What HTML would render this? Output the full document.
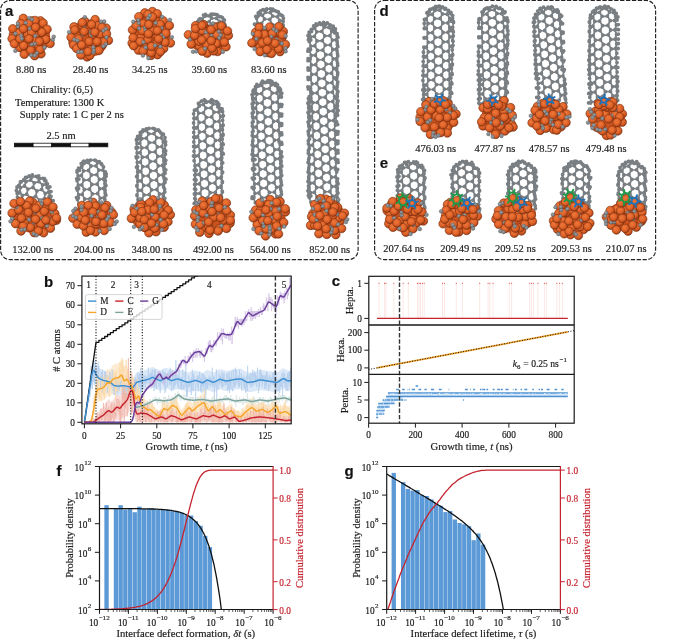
<!DOCTYPE html>
<html lang="en"><head><meta charset="utf-8"><title>Figure</title>
<style>
html,body{margin:0;padding:0;background:#fff}
svg{display:block;will-change:transform}
text{font-family:'Liberation Serif','DejaVu Serif',serif;fill:#1c1c1c;stroke:#1c1c1c;stroke-width:.18px}
.lbl{font-family:'Liberation Sans','DejaVu Sans',sans-serif;font-weight:bold;font-size:15px;fill:#111}
.t{font-size:10.5px}
.k{font-size:9.3px}
.x{font-size:10.7px}
.i{font-style:italic}
</style></head>
<body>
<svg width="685" height="639" viewBox="0 0 685 639">
<defs>
<radialGradient id="o" cx="0.42" cy="0.38" r="0.62">
<stop offset="0" stop-color="#ee773a"/><stop offset="0.45" stop-color="#e4682d"/><stop offset="0.78" stop-color="#cb5420"/><stop offset="1" stop-color="#8f3814"/>
</radialGradient>
<radialGradient id="gy" cx="0.42" cy="0.38" r="0.62">
<stop offset="0" stop-color="#979da1"/><stop offset="0.6" stop-color="#858b8f"/><stop offset="1" stop-color="#63686c"/>
</radialGradient>
</defs>
<g fill="none" stroke="#222" stroke-width="1.15" stroke-dasharray="4.3 1.6">
<path d="M10.1 0.5H348.6A9.5 9.5 0 0 1 358.1 10V250.1A9.5 9.5 0 0 1 348.6 259.6H10.1A9.5 9.5 0 0 1 0.6 250.1V10A9.5 9.5 0 0 1 10.1 0.5Z"/>
<path d="M384.1 0.5H646.1A9.5 9.5 0 0 1 655.6 10V250.1A9.5 9.5 0 0 1 646.1 259.6H384.1A9.5 9.5 0 0 1 374.6 250.1V10A9.5 9.5 0 0 1 384.1 0.5Z"/>
</g>
<g id="pa">
<ellipse cx="31.1" cy="37" rx="19.1" ry="18.8" fill="#c9521f"/><g fill="url(#o)" stroke="#7a3011" stroke-width=".6"><circle cx="35.1" cy="35.6" r="4.3"/><circle cx="13.5" cy="34.4" r="4.3"/><circle cx="40.4" cy="20.9" r="4.3"/><circle cx="23.3" cy="18.4" r="4.3"/><circle cx="41" cy="53.8" r="4.3"/><circle cx="32.1" cy="20.9" r="4.3"/><circle cx="39" cy="45.8" r="4.3"/><circle cx="12.8" cy="28.8" r="4.3"/><circle cx="50.1" cy="43.5" r="4.3"/><circle cx="12.1" cy="38.6" r="4.3"/><circle cx="19.6" cy="47.4" r="4.3"/><circle cx="43.1" cy="23.1" r="4.3"/><circle cx="27.3" cy="33.7" r="4.3"/><circle cx="34.7" cy="55.7" r="4.3"/><circle cx="35.2" cy="20.5" r="4.3"/><circle cx="45.8" cy="39.4" r="4.3"/><circle cx="19.3" cy="32.9" r="4.3"/><circle cx="33.6" cy="40.2" r="4.3"/><circle cx="40" cy="49.6" r="4.3"/><circle cx="47" cy="29.3" r="4.3"/><circle cx="24.3" cy="54.3" r="4.3"/><circle cx="14.4" cy="43.8" r="4.3"/><circle cx="28.8" cy="23.7" r="4.3"/><circle cx="20.8" cy="23.6" r="4.3"/><circle cx="31.6" cy="32.3" r="4.3"/><circle cx="39.4" cy="41.5" r="4.3"/><circle cx="41.9" cy="32.3" r="4.3"/><circle cx="30.8" cy="50.3" r="4.3"/><circle cx="19.9" cy="38.9" r="4.3"/></g><g fill="url(#gy)" stroke="#5d6266" stroke-width=".35"><circle cx="15.4" cy="33.7" r="1.9"/><circle cx="29.5" cy="28.7" r="1.9"/><circle cx="31.2" cy="55.2" r="1.9"/><circle cx="29.3" cy="18.1" r="1.9"/><circle cx="32.1" cy="19.4" r="1.9"/><circle cx="35.3" cy="35.8" r="1.9"/><circle cx="15.3" cy="50.8" r="1.9"/><circle cx="18.1" cy="26.7" r="1.9"/><circle cx="17.9" cy="23.6" r="1.9"/><circle cx="44.5" cy="47.5" r="1.9"/><circle cx="34.8" cy="43.8" r="1.9"/><circle cx="31.7" cy="44.3" r="1.9"/><circle cx="25.7" cy="22.9" r="1.9"/><circle cx="36.8" cy="53.1" r="1.9"/><circle cx="34.9" cy="55.5" r="1.9"/><circle cx="21.1" cy="35.7" r="1.9"/><circle cx="21.9" cy="38.6" r="1.9"/><circle cx="52.8" cy="39.7" r="1.9"/><circle cx="53.7" cy="36.7" r="1.9"/></g><g fill="url(#o)" stroke="#7a3011" stroke-width=".6"><circle cx="23.6" cy="45.7" r="4.3"/><circle cx="35.6" cy="27.4" r="4.3"/><circle cx="23.5" cy="28.8" r="4.3"/><circle cx="29" cy="38.9" r="4.3"/></g>
<ellipse cx="89.8" cy="38.2" rx="18.8" ry="18.8" fill="#c9521f"/><g fill="url(#o)" stroke="#7a3011" stroke-width=".6"><circle cx="81.4" cy="25.1" r="4.3"/><circle cx="73" cy="42.4" r="4.3"/><circle cx="76.3" cy="35" r="4.3"/><circle cx="100.5" cy="25" r="4.3"/><circle cx="84.7" cy="21.4" r="4.3"/><circle cx="74" cy="26.9" r="4.3"/><circle cx="87" cy="56.9" r="4.3"/><circle cx="95.1" cy="19.6" r="4.3"/><circle cx="106.1" cy="28.1" r="4.3"/><circle cx="90.1" cy="49.9" r="4.3"/><circle cx="71.1" cy="37.3" r="4.3"/><circle cx="108.4" cy="40.4" r="4.3"/><circle cx="73.5" cy="44.9" r="4.3"/><circle cx="97.9" cy="25.9" r="4.3"/><circle cx="100.1" cy="34.2" r="4.3"/><circle cx="80.9" cy="55" r="4.3"/><circle cx="102.2" cy="45.1" r="4.3"/><circle cx="74.8" cy="30" r="4.3"/><circle cx="82.3" cy="22.6" r="4.3"/><circle cx="89.8" cy="55.5" r="4.3"/><circle cx="91.6" cy="24.6" r="4.3"/><circle cx="106.5" cy="33.8" r="4.3"/><circle cx="76.7" cy="48.5" r="4.3"/><circle cx="101.9" cy="27.3" r="4.3"/><circle cx="94.2" cy="43.1" r="4.3"/><circle cx="92.6" cy="34.8" r="4.3"/><circle cx="98.9" cy="50.5" r="4.3"/><circle cx="78.6" cy="39" r="4.3"/><circle cx="103.5" cy="41.9" r="4.3"/><circle cx="88" cy="51.7" r="4.3"/><circle cx="81.7" cy="45" r="4.3"/></g><g fill="url(#gy)" stroke="#5d6266" stroke-width=".35"><circle cx="74.4" cy="39.6" r="1.9"/><circle cx="77.3" cy="40.5" r="1.9"/><circle cx="101.1" cy="21.6" r="1.9"/><circle cx="104.2" cy="21.5" r="1.9"/><circle cx="93.5" cy="52.5" r="1.9"/><circle cx="90.9" cy="32.1" r="1.9"/><circle cx="91.8" cy="35.1" r="1.9"/><circle cx="105.8" cy="44.2" r="1.9"/><circle cx="103.4" cy="46.2" r="1.9"/><circle cx="84.6" cy="28.1" r="1.9"/><circle cx="84.8" cy="17.2" r="1.9"/><circle cx="93.3" cy="47.4" r="1.9"/><circle cx="93.8" cy="50.4" r="1.9"/><circle cx="106.5" cy="37.4" r="1.9"/><circle cx="103.4" cy="30.7" r="1.9"/><circle cx="105.9" cy="28.8" r="1.9"/><circle cx="82.6" cy="34.5" r="1.9"/><circle cx="69" cy="32.1" r="1.9"/><circle cx="78.5" cy="51.9" r="1.9"/><circle cx="81.6" cy="51.8" r="1.9"/></g><g fill="url(#o)" stroke="#7a3011" stroke-width=".6"><circle cx="89.2" cy="41.6" r="4.3"/><circle cx="84.2" cy="31.5" r="4.3"/><circle cx="94.9" cy="32.2" r="4.3"/><circle cx="97.1" cy="41.6" r="4.3"/></g>
<ellipse cx="151.2" cy="33.5" rx="19.2" ry="22" fill="#c9521f"/><g fill="url(#o)" stroke="#7a3011" stroke-width=".6"><circle cx="140.9" cy="38" r="4.3"/><circle cx="138.5" cy="50.1" r="4.3"/><circle cx="157.5" cy="54.7" r="4.3"/><circle cx="144.8" cy="12.9" r="4.3"/><circle cx="157" cy="18.4" r="4.3"/><circle cx="132.1" cy="43.1" r="4.3"/><circle cx="163.7" cy="48.5" r="4.3"/><circle cx="152.4" cy="11.6" r="4.3"/><circle cx="170.4" cy="43" r="4.3"/><circle cx="151" cy="55.4" r="4.3"/><circle cx="156.2" cy="34.8" r="4.3"/><circle cx="163.2" cy="20.7" r="4.3"/><circle cx="142.7" cy="23.4" r="4.3"/><circle cx="133.6" cy="45.7" r="4.3"/><circle cx="148" cy="14.4" r="4.3"/><circle cx="138.8" cy="16.7" r="4.3"/><circle cx="132.5" cy="30" r="4.3"/><circle cx="169.4" cy="25.6" r="4.3"/><circle cx="157.2" cy="13.8" r="4.3"/><circle cx="160.4" cy="51.7" r="4.3"/><circle cx="133.1" cy="37.8" r="4.3"/><circle cx="165.1" cy="42.2" r="4.3"/><circle cx="151.2" cy="52.7" r="4.3"/><circle cx="165.9" cy="33.4" r="4.3"/><circle cx="160.2" cy="24.4" r="4.3"/><circle cx="143.1" cy="51" r="4.3"/><circle cx="136.1" cy="25.5" r="4.3"/><circle cx="157.3" cy="42.1" r="4.3"/><circle cx="152.3" cy="31.1" r="4.3"/><circle cx="152.6" cy="17.1" r="4.3"/><circle cx="147.9" cy="39.5" r="4.3"/><circle cx="142.4" cy="30.8" r="4.3"/><circle cx="140.2" cy="41.6" r="4.3"/><circle cx="151.6" cy="46.5" r="4.3"/></g><g fill="url(#gy)" stroke="#5d6266" stroke-width=".35"><circle cx="138.8" cy="23.1" r="1.9"/><circle cx="138.2" cy="20.1" r="1.9"/><circle cx="162.1" cy="17" r="1.9"/><circle cx="171.8" cy="37.2" r="1.9"/><circle cx="133.3" cy="21.7" r="1.9"/><circle cx="148.1" cy="18.2" r="1.9"/><circle cx="149.6" cy="15.5" r="1.9"/><circle cx="143.4" cy="42.2" r="1.9"/><circle cx="145.1" cy="27.4" r="1.9"/><circle cx="145.7" cy="30.5" r="1.9"/><circle cx="142.9" cy="55.6" r="1.9"/><circle cx="161.5" cy="28.3" r="1.9"/><circle cx="145.6" cy="47.5" r="1.9"/><circle cx="155.1" cy="45.5" r="1.9"/><circle cx="160.4" cy="46.6" r="1.9"/><circle cx="148.5" cy="58.2" r="1.9"/><circle cx="139.1" cy="28.4" r="1.9"/><circle cx="155.7" cy="23" r="1.9"/><circle cx="160.9" cy="35.2" r="1.9"/><circle cx="163.2" cy="37.3" r="1.9"/><circle cx="169.9" cy="19.9" r="1.9"/></g><g fill="url(#o)" stroke="#7a3011" stroke-width=".6"><circle cx="148.8" cy="24.6" r="4.3"/><circle cx="158.6" cy="39" r="4.3"/><circle cx="157.4" cy="30.7" r="4.3"/><circle cx="148.4" cy="33.9" r="4.3"/></g>
<g fill="none" stroke="#797e82" stroke-linecap="round" stroke-linejoin="round"><path d="M198.2 25.8L201.9 25.6M198.2 25.8L197.1 22.9M198.8 19.9L202.1 19.1M198.8 19.9L197.1 22.9M204.1 21.9L209.2 21.6M204.1 21.9L201.9 25.6M204.1 21.9L202.1 19.1M212.2 25.1L217.4 24.9M212.2 25.1L209.2 21.6M204.6 16.3L209.1 15.8M204.6 16.3L202.1 19.1M204.6 16.3L203.5 15.2M211.6 18.2L216.5 18.3M211.6 18.2L209.2 21.6M211.6 18.2L209.1 15.8M219.4 21.4L223.1 21.6M219.4 21.4L217.4 24.9M219.4 21.4L216.5 18.3M224.9 24.6L223.1 21.6M211.1 14.1L215.1 14.3M211.1 14.1L209.1 15.8M217.9 16L221.1 16.8M217.9 16L216.5 18.3M217.9 16L215.1 14.3M223.5 19.3L223.1 21.6M223.5 19.3L221.1 16.8M198.7 24.4L197.8 21.5M200.1 18.6L197.8 21.5M206.5 15.6L211 15.5M206.5 15.6L205.5 14.5M225.2 25.6L223.9 22.4M213.2 14.1L217 14.7M213.2 14.1L211 15.5M219.5 16.6L222.4 17.7M219.5 16.6L217 14.7M224.4 20.2L223.9 22.4M224.4 20.2L222.4 17.7" stroke-width="1.75"/><path d="M197.1 22.9h0M198.2 25.8h0M201.9 25.6h0M198.8 19.9h0M202.1 19.1h0M204.1 21.9h0M209.2 21.6h0M212.2 25.1h0M217.4 24.9h0M203.5 15.2h0M204.6 16.3h0M209.1 15.8h0M211.6 18.2h0M216.5 18.3h0M219.4 21.4h0M223.1 21.6h0M224.9 24.6h0M211.1 14.1h0M215.1 14.3h0M217.9 16h0M221.1 16.8h0M223.5 19.3h0M197.8 21.5h0M198.7 24.4h0M200.1 18.6h0M205.5 14.5h0M206.5 15.6h0M211 15.5h0M223.9 22.4h0M225.2 25.6h0M213.2 14.1h0M217 14.7h0M219.5 16.6h0M222.4 17.7h0M224.4 20.2h0" stroke-width="3.8"/></g>
<ellipse cx="208.4" cy="38.9" rx="20.1" ry="14.4" fill="#c9521f"/><g fill="url(#o)" stroke="#7a3011" stroke-width=".6"><circle cx="224.5" cy="31.2" r="4.3"/><circle cx="217" cy="26.9" r="4.3"/><circle cx="218.9" cy="42.7" r="4.3"/><circle cx="188.4" cy="34.7" r="4.3"/><circle cx="199.4" cy="45.9" r="4.3"/><circle cx="204.8" cy="27.8" r="4.3"/><circle cx="217.6" cy="51.5" r="4.3"/><circle cx="197.8" cy="33.9" r="4.3"/><circle cx="224.2" cy="34.8" r="4.3"/><circle cx="226" cy="46.8" r="4.3"/><circle cx="207.2" cy="53.1" r="4.3"/><circle cx="214.4" cy="27.2" r="4.3"/><circle cx="195.6" cy="25.7" r="4.3"/><circle cx="222.3" cy="29.3" r="4.3"/><circle cx="213.5" cy="50.9" r="4.3"/><circle cx="206.6" cy="44.4" r="4.3"/><circle cx="228.4" cy="35.5" r="4.3"/><circle cx="216.3" cy="43.6" r="4.3"/><circle cx="191.2" cy="44.1" r="4.3"/><circle cx="202.1" cy="51.1" r="4.3"/><circle cx="203.5" cy="24.6" r="4.3"/><circle cx="205.7" cy="36.1" r="4.3"/><circle cx="199" cy="41.4" r="4.3"/><circle cx="216.7" cy="34.7" r="4.3"/><circle cx="224.4" cy="42.1" r="4.3"/><circle cx="202.3" cy="30.6" r="4.3"/><circle cx="212" cy="48.2" r="4.3"/></g><g fill="url(#gy)" stroke="#5d6266" stroke-width=".35"><circle cx="190" cy="39.3" r="1.9"/><circle cx="206.1" cy="32.3" r="1.9"/><circle cx="222.8" cy="51.9" r="1.9"/><circle cx="213" cy="23.5" r="1.9"/><circle cx="210.9" cy="25.8" r="1.9"/><circle cx="211.5" cy="35.1" r="1.9"/><circle cx="219.4" cy="25" r="1.9"/><circle cx="218.9" cy="31.4" r="1.9"/><circle cx="193" cy="51.7" r="1.9"/><circle cx="196.1" cy="51.4" r="1.9"/><circle cx="219.2" cy="37.8" r="1.9"/><circle cx="220.6" cy="35.1" r="1.9"/><circle cx="205" cy="48.7" r="1.9"/><circle cx="192.7" cy="32.1" r="1.9"/><circle cx="195.2" cy="33.8" r="1.9"/></g><g fill="url(#o)" stroke="#7a3011" stroke-width=".6"><circle cx="194.6" cy="35.4" r="4.3"/><circle cx="211.1" cy="29.7" r="4.3"/><circle cx="201.8" cy="40" r="4.3"/><circle cx="211.3" cy="40.8" r="4.3"/></g><g fill="url(#o)" stroke="#7a3011" stroke-width=".6"><circle cx="195.5" cy="28.5" r="4.3"/><circle cx="202" cy="25.5" r="4.3"/><circle cx="221.5" cy="26" r="4.3"/><circle cx="227.5" cy="31" r="4.3"/></g>
<g fill="none" stroke="#797e82" stroke-linecap="round" stroke-linejoin="round"><path d="M257.5 23.1L261.6 23.4M257.5 23.1L256.6 18.3M258.6 15.3L262.5 15.3M258.6 15.3L256.6 18.3M258.6 15.3L258.2 13M264.5 19L269.8 19.5M264.5 19L261.6 23.4M264.5 19L262.5 15.3M272.1 24.3L277 24.7M272.1 24.3L269.8 19.5M260.7 10.8L264 10.1M260.7 10.8L258.2 13M265.4 12.3L270.3 12.6M265.4 12.3L262.5 15.3M265.4 12.3L264 10.1M272.7 16.1L277.5 16.8M272.7 16.1L269.8 19.5M272.7 16.1L270.3 12.6M279.6 20.5L282.7 20.9M279.6 20.5L277 24.7M279.6 20.5L277.5 16.8M283.1 24.9L281.7 29.6M283.1 24.9L282.7 20.9M266.7 8.8L270.5 8.9M266.7 8.8L264 10.1M272.7 10.5L276.7 11.4M272.7 10.5L270.3 12.6M272.7 10.5L270.5 8.9M279.2 14.3L281.9 15.4M279.2 14.3L277.5 16.8M279.2 14.3L276.7 11.4M283.4 18.3L282.7 20.9M283.4 18.3L281.9 15.4M254.5 24.2L256.1 24.8M255.8 16.4L257.7 16.5M260.3 13.7L257.7 16.5M260.3 13.7L260.1 11.4M263 9.6L266.5 9.4M263 9.6L260.1 11.4M283.2 25.7L283.2 21.3M274.8 10.6L278.4 12M274.8 10.6L272.8 9.1M280.5 14.7L282.7 16.1M280.5 14.7L278.4 12" stroke-width="1.75"/><path d="M256.6 18.3h0M257.5 23.1h0M261.6 23.4h0M258.2 13h0M258.6 15.3h0M262.5 15.3h0M264.5 19h0M269.8 19.5h0M272.1 24.3h0M277 24.7h0M281.7 29.6h0M260.7 10.8h0M264 10.1h0M265.4 12.3h0M270.3 12.6h0M272.7 16.1h0M277.5 16.8h0M279.6 20.5h0M282.7 20.9h0M283.1 24.9h0M266.7 8.8h0M270.5 8.9h0M272.7 10.5h0M276.7 11.4h0M279.2 14.3h0M281.9 15.4h0M283.4 18.3h0M254.5 24.2h0M256.1 24.8h0M255.8 16.4h0M257.7 16.5h0M260.1 11.4h0M260.3 13.7h0M263 9.6h0M266.5 9.4h0M283.2 21.3h0M283.2 25.7h0M272.8 9.1h0M274.8 10.6h0M278.4 12h0M280.5 14.7h0M282.7 16.1h0" stroke-width="3.8"/></g>
<ellipse cx="268.6" cy="40" rx="16.8" ry="13.5" fill="#c9521f"/><g fill="url(#o)" stroke="#7a3011" stroke-width=".6"><circle cx="282" cy="37.8" r="4.3"/><circle cx="276.4" cy="32.3" r="4.3"/><circle cx="263.7" cy="30.9" r="4.3"/><circle cx="283.3" cy="31.5" r="4.3"/><circle cx="260.1" cy="46.9" r="4.3"/><circle cx="268.4" cy="52.6" r="4.3"/><circle cx="255.7" cy="32.4" r="4.3"/><circle cx="280" cy="51.6" r="4.3"/><circle cx="269.7" cy="27" r="4.3"/><circle cx="278.9" cy="26.6" r="4.3"/><circle cx="251.9" cy="43" r="4.3"/><circle cx="285.4" cy="44.5" r="4.3"/><circle cx="264.6" cy="34.5" r="4.3"/><circle cx="271.4" cy="53.4" r="4.3"/><circle cx="259.2" cy="27.4" r="4.3"/><circle cx="262.4" cy="42.9" r="4.3"/><circle cx="278.7" cy="48.8" r="4.3"/><circle cx="260.1" cy="51.6" r="4.3"/><circle cx="282.4" cy="34.9" r="4.3"/><circle cx="258" cy="34.4" r="4.3"/><circle cx="272.4" cy="33.4" r="4.3"/></g><g fill="url(#gy)" stroke="#5d6266" stroke-width=".35"><circle cx="276.6" cy="39.5" r="1.9"/><circle cx="265" cy="55.3" r="1.9"/><circle cx="271.2" cy="36.8" r="1.9"/><circle cx="270.4" cy="39.8" r="1.9"/><circle cx="264.6" cy="27.9" r="1.9"/><circle cx="254.6" cy="48.9" r="1.9"/><circle cx="285.7" cy="35.9" r="1.9"/><circle cx="285.6" cy="48.2" r="1.9"/><circle cx="285.6" cy="51.3" r="1.9"/><circle cx="256.3" cy="38.8" r="1.9"/><circle cx="252.7" cy="33.8" r="1.9"/><circle cx="276.3" cy="30.8" r="1.9"/><circle cx="273.7" cy="29.1" r="1.9"/><circle cx="281.8" cy="43.4" r="1.9"/><circle cx="278.8" cy="42.9" r="1.9"/></g><g fill="url(#o)" stroke="#7a3011" stroke-width=".6"><circle cx="267" cy="49.6" r="4.3"/><circle cx="275" cy="43.3" r="4.3"/><circle cx="267.5" cy="40.9" r="4.3"/></g>
<g fill="none" stroke="#797e82" stroke-linecap="round" stroke-linejoin="round"><path d="M19.4 201.6L21.9 200.6M19.4 201.6L19.9 206.5M19.4 201.6L17.5 197.3M25 204.6L29.4 203.2M25 204.6L21.9 200.6M17.2 193.2L19.6 192.1M17.2 193.2L17.5 197.3M22.4 195.5L26.7 194.2M22.4 195.5L21.9 200.6M22.4 195.5L19.6 192.1M30.5 197.9L35.7 196.3M30.5 197.9L29.4 203.2M30.5 197.9L26.7 194.2M39.6 200.1L44.4 198.6M39.6 200.1L35.7 196.3M47.8 202.4L51.1 201.3M47.8 202.4L44.4 198.6M17 187.1L18.8 185.4M20.5 187.7L24.5 186M20.5 187.7L19.6 192.1M20.5 187.7L18.8 185.4M27.9 189.1L33 187.5M27.9 189.1L26.7 194.2M27.9 189.1L24.5 186M36.9 191L41.7 189.5M36.9 191L35.7 196.3M36.9 191L33 187.5M45.2 193.4L48.6 192.2M45.2 193.4L44.4 198.6M45.2 193.4L41.7 189.5M51 196.3L51.1 201.3M51 196.3L48.6 192.2M20.4 181.8L23.6 179.9M20.4 181.8L18.8 185.4M26 181.7L30.6 180.1M26 181.7L24.5 186M26 181.7L23.6 179.9M34.2 182.8L38.9 181.7M34.2 182.8L33 187.5M34.2 182.8L30.6 180.1M42.6 184.9L46.1 184.2M42.6 184.9L41.7 189.5M42.6 184.9L38.9 181.7M48.6 187.3L49.9 186.8M48.6 187.3L48.6 192.2M48.6 187.3L46.1 184.2M25.5 177.3L29.2 176M25.5 177.3L23.6 179.9M31.9 177L36.1 176.3M31.9 177L30.6 180.1M31.9 177L29.2 176M39.5 178.4L42.9 178.4M39.5 178.4L38.9 181.7M39.5 178.4L36.1 176.3M45.9 181L46.1 184.2M45.9 181L42.9 178.4M19.1 201.9L21.5 201.6M19.1 201.9L19.6 206.5M19.1 201.9L17.4 197.3M17.2 193.4L19.7 192.8M17.2 193.4L17.4 197.3M17.2 193.4L16.4 190.5M17.2 187L19.2 185.6M17.2 187L16.4 190.5M51.5 200.9L53.2 200.7M51.5 200.9L49.1 196.5M21.1 181.9L24.6 180.3M21.1 181.9L19.2 185.6M49.4 191.7L51 191.6M49.4 191.7L49.1 196.5M49.4 191.7L47.1 187.4M26.7 177.4L30.8 176.4M26.7 177.4L24.6 180.3M47.4 183.8L47.1 187.4M47.4 183.8L44.8 180.7M32.4 175L30.8 176.4M38.7 176L38 177.8M44.5 178.7L44.8 180.7" stroke-width="1.75"/><path d="M19.9 206.5h0M17.5 197.3h0M19.4 201.6h0M21.9 200.6h0M25 204.6h0M29.4 203.2h0M17.2 193.2h0M19.6 192.1h0M22.4 195.5h0M26.7 194.2h0M30.5 197.9h0M35.7 196.3h0M39.6 200.1h0M44.4 198.6h0M47.8 202.4h0M51.1 201.3h0M17 187.1h0M18.8 185.4h0M20.5 187.7h0M24.5 186h0M27.9 189.1h0M33 187.5h0M36.9 191h0M41.7 189.5h0M45.2 193.4h0M48.6 192.2h0M51 196.3h0M20.4 181.8h0M23.6 179.9h0M26 181.7h0M30.6 180.1h0M34.2 182.8h0M38.9 181.7h0M42.6 184.9h0M46.1 184.2h0M48.6 187.3h0M49.9 186.8h0M25.5 177.3h0M29.2 176h0M31.9 177h0M36.1 176.3h0M39.5 178.4h0M42.9 178.4h0M45.9 181h0M19.6 206.5h0M17.4 197.3h0M19.1 201.9h0M21.5 201.6h0M16.4 190.5h0M17.2 193.4h0M19.7 192.8h0M17.2 187h0M19.2 185.6h0M49.1 196.5h0M51.5 200.9h0M53.2 200.7h0M21.1 181.9h0M24.6 180.3h0M47.1 187.4h0M49.4 191.7h0M51 191.6h0M26.7 177.4h0M30.8 176.4h0M38 177.8h0M44.8 180.7h0M47.4 183.8h0M32.4 175h0M38.7 176h0M44.5 178.7h0" stroke-width="3.8"/></g>
<ellipse cx="34.2" cy="216.9" rx="22.2" ry="16" fill="#c9521f"/><g fill="url(#o)" stroke="#7a3011" stroke-width=".6"><circle cx="33" cy="202.5" r="4.3"/><circle cx="21.9" cy="214.8" r="4.3"/><circle cx="41.5" cy="227.8" r="4.3"/><circle cx="12.1" cy="213.1" r="4.3"/><circle cx="29.4" cy="208.4" r="4.3"/><circle cx="34.2" cy="232.6" r="4.3"/><circle cx="50.4" cy="228.2" r="4.3"/><circle cx="39.9" cy="215.2" r="4.3"/><circle cx="29.6" cy="201.1" r="4.3"/><circle cx="21.7" cy="204" r="4.3"/><circle cx="56.4" cy="220.3" r="4.3"/><circle cx="39.2" cy="205.4" r="4.3"/><circle cx="24.4" cy="223.4" r="4.3"/><circle cx="21" cy="231" r="4.3"/><circle cx="43.6" cy="232.8" r="4.3"/><circle cx="47.2" cy="206" r="4.3"/><circle cx="27.4" cy="215.4" r="4.3"/><circle cx="18.7" cy="209.9" r="4.3"/><circle cx="54.8" cy="213.6" r="4.3"/><circle cx="40.9" cy="223.9" r="4.3"/><circle cx="15.6" cy="223.7" r="4.3"/><circle cx="30.3" cy="227.4" r="4.3"/><circle cx="26.8" cy="205.6" r="4.3"/><circle cx="52.9" cy="221.4" r="4.3"/><circle cx="44.3" cy="211.4" r="4.3"/><circle cx="38.4" cy="231.1" r="4.3"/><circle cx="23.1" cy="226.1" r="4.3"/><circle cx="28.4" cy="212.5" r="4.3"/></g><g fill="url(#gy)" stroke="#5d6266" stroke-width=".35"><circle cx="24.6" cy="229.4" r="1.9"/><circle cx="21.5" cy="229.8" r="1.9"/><circle cx="33.9" cy="222.6" r="1.9"/><circle cx="12.2" cy="218.7" r="1.9"/><circle cx="10.5" cy="221.3" r="1.9"/><circle cx="41.8" cy="203.5" r="1.9"/><circle cx="40.5" cy="200.7" r="1.9"/><circle cx="47" cy="225.9" r="1.9"/><circle cx="35.3" cy="212.1" r="1.9"/><circle cx="37.3" cy="209.7" r="1.9"/><circle cx="51.9" cy="211.9" r="1.9"/><circle cx="42.2" cy="218.2" r="1.9"/><circle cx="29.1" cy="219.6" r="1.9"/><circle cx="48.7" cy="218.7" r="1.9"/><circle cx="16.5" cy="207.1" r="1.9"/><circle cx="36.4" cy="235.3" r="1.9"/><circle cx="33.7" cy="233.8" r="1.9"/></g><g fill="url(#o)" stroke="#7a3011" stroke-width=".6"><circle cx="21.5" cy="218.2" r="4.3"/><circle cx="45.9" cy="220.1" r="4.3"/><circle cx="35.9" cy="208.5" r="4.3"/><circle cx="35.5" cy="219.3" r="4.3"/></g><g fill="url(#o)" stroke="#7a3011" stroke-width=".6"><circle cx="14" cy="203.5" r="4.3"/><circle cx="20.5" cy="201.5" r="4.3"/><circle cx="47.5" cy="202" r="4.3"/><circle cx="53" cy="207" r="4.3"/><circle cx="56.5" cy="218" r="4.3"/></g>
<g fill="none" stroke="#797e82" stroke-linecap="round" stroke-linejoin="round"><path d="M78.8 204.1L82.6 203.8M78.8 204.1L77.4 199.5M78.6 194.7L82.2 194.4M78.6 194.7L77.4 199.5M78.6 194.7L77.3 190.1M84.7 199L90 198.7M84.7 199L82.6 203.8M84.7 199L82.2 194.4M92.9 203.2L98.1 203M92.9 203.2L90 198.7M78.3 185.2L81.8 185M78.3 185.2L77.3 190.1M78.3 185.2L77.1 180.7M84.3 189.5L89.5 189.2M84.3 189.5L82.2 194.4M84.3 189.5L81.8 185M92.4 193.8L97.7 193.5M92.4 193.8L90 198.7M92.4 193.8L89.5 189.2M100.2 198.1L103.9 197.8M100.2 198.1L98.1 203M100.2 198.1L97.7 193.5M105.3 202.4L103.9 197.8M78.1 175.8L81.4 175.5M78.1 175.8L77.1 180.7M78.1 175.8L77 172M83.9 180.1L89 179.8M83.9 180.1L81.8 185M83.9 180.1L81.4 175.5M91.9 184.4L97.2 184.1M91.9 184.4L89.5 189.2M91.9 184.4L89 179.8M99.8 188.7L103.6 188.4M99.8 188.7L97.7 193.5M99.8 188.7L97.2 184.1M105.1 193L103.9 197.8M105.1 193L103.6 188.4M78.5 168.2L81.6 167.2M78.5 168.2L77 172M83.5 170.9L88.5 170.5M83.5 170.9L81.4 175.5M83.5 170.9L81.6 167.2M91.4 175L96.8 174.7M91.4 175L89 179.8M91.4 175L88.5 170.5M99.4 179.3L103.3 179M99.4 179.3L97.2 184.1M99.4 179.3L96.8 174.7M104.9 183.5L103.6 188.4M104.9 183.5L103.3 179M84 163.4L88.4 162.6M84 163.4L81.6 167.2M84 163.4L83 161.8M91 166L96 165.9M91 166L88.5 170.5M91 166L88.4 162.6M98.9 170.1L102.9 170.2M98.9 170.1L96.8 174.7M98.9 170.1L96 165.9M104.7 174.1L106.2 173.9M104.7 174.1L103.3 179M104.7 174.1L102.9 170.2M90.6 160.1L94.8 160.2M90.6 160.1L88.4 162.6M97.6 162.7L101.1 163.5M97.6 162.7L96 165.9M97.6 162.7L94.8 160.2M103.5 166.9L102.9 170.2M103.5 166.9L101.1 163.5M76.5 197.6L78.4 197.9M76.6 188.2L78.6 188.5M76.7 178.8L78.9 179.1M105.8 204.5L104.9 199.6M77.1 170.6L79.4 170.3M105.9 195.1L104.9 199.6M105.9 195.1L105.1 190.2M81.8 166.4L79.4 170.3M81.8 166.4L81.2 163.7M106 185.6L105.1 190.2M106 185.6L105.3 180.8M83.9 161.2L87.4 160.3M83.9 161.2L81.2 163.7M106.1 176.2L105.3 180.8M106.1 176.2L105.4 172M95.7 160.6L99.3 161.7M101.8 164.5L99.3 161.7" stroke-width="1.75"/><path d="M77.4 199.5h0M78.8 204.1h0M82.6 203.8h0M77.3 190.1h0M78.6 194.7h0M82.2 194.4h0M84.7 199h0M90 198.7h0M92.9 203.2h0M98.1 203h0M77.1 180.7h0M78.3 185.2h0M81.8 185h0M84.3 189.5h0M89.5 189.2h0M92.4 193.8h0M97.7 193.5h0M100.2 198.1h0M103.9 197.8h0M105.3 202.4h0M77 172h0M78.1 175.8h0M81.4 175.5h0M83.9 180.1h0M89 179.8h0M91.9 184.4h0M97.2 184.1h0M99.8 188.7h0M103.6 188.4h0M105.1 193h0M78.5 168.2h0M81.6 167.2h0M83.5 170.9h0M88.5 170.5h0M91.4 175h0M96.8 174.7h0M99.4 179.3h0M103.3 179h0M104.9 183.5h0M83 161.8h0M84 163.4h0M88.4 162.6h0M91 166h0M96 165.9h0M98.9 170.1h0M102.9 170.2h0M104.7 174.1h0M106.2 173.9h0M90.6 160.1h0M94.8 160.2h0M97.6 162.7h0M101.1 163.5h0M103.5 166.9h0M76.5 197.6h0M78.4 197.9h0M76.6 188.2h0M78.6 188.5h0M76.7 178.8h0M78.9 179.1h0M104.9 199.6h0M105.8 204.5h0M77.1 170.6h0M79.4 170.3h0M105.1 190.2h0M105.9 195.1h0M81.2 163.7h0M81.8 166.4h0M105.3 180.8h0M106 185.6h0M83.9 161.2h0M87.4 160.3h0M105.4 172h0M106.1 176.2h0M95.7 160.6h0M99.3 161.7h0M101.8 164.5h0" stroke-width="3.8"/></g>
<ellipse cx="93.2" cy="217.2" rx="20.4" ry="14.9" fill="#c9521f"/><g fill="url(#o)" stroke="#7a3011" stroke-width=".6"><circle cx="111.6" cy="212.1" r="4.3"/><circle cx="86.3" cy="232.1" r="4.3"/><circle cx="72.9" cy="218.2" r="4.3"/><circle cx="93" cy="202.4" r="4.3"/><circle cx="89.4" cy="226.2" r="4.3"/><circle cx="106.7" cy="205.6" r="4.3"/><circle cx="95.4" cy="232" r="4.3"/><circle cx="94.4" cy="214" r="4.3"/><circle cx="77.2" cy="224.2" r="4.3"/><circle cx="87.4" cy="210.3" r="4.3"/><circle cx="104.2" cy="230.5" r="4.3"/><circle cx="77.1" cy="214" r="4.3"/><circle cx="113.4" cy="214.8" r="4.3"/><circle cx="81.9" cy="205.5" r="4.3"/><circle cx="95.3" cy="206.1" r="4.3"/><circle cx="83.4" cy="226" r="4.3"/><circle cx="105.1" cy="207.9" r="4.3"/><circle cx="81.4" cy="217.6" r="4.3"/><circle cx="96.3" cy="224.1" r="4.3"/><circle cx="90.4" cy="230.5" r="4.3"/><circle cx="110.3" cy="222.5" r="4.3"/><circle cx="88.4" cy="205.3" r="4.3"/><circle cx="92.9" cy="212" r="4.3"/><circle cx="103.7" cy="223.4" r="4.3"/><circle cx="83.9" cy="212.4" r="4.3"/></g><g fill="url(#gy)" stroke="#5d6266" stroke-width=".35"><circle cx="114.8" cy="223.9" r="1.9"/><circle cx="116.7" cy="221.5" r="1.9"/><circle cx="111.6" cy="207.9" r="1.9"/><circle cx="110.8" cy="210.9" r="1.9"/><circle cx="91.6" cy="215.9" r="1.9"/><circle cx="98.6" cy="212" r="1.9"/><circle cx="75.5" cy="208.6" r="1.9"/><circle cx="73.3" cy="210.9" r="1.9"/><circle cx="101.3" cy="202.3" r="1.9"/><circle cx="98" cy="217.5" r="1.9"/><circle cx="99.8" cy="231.1" r="1.9"/><circle cx="87.6" cy="222.6" r="1.9"/><circle cx="81.5" cy="209.8" r="1.9"/><circle cx="81.6" cy="206.7" r="1.9"/><circle cx="76" cy="217.4" r="1.9"/><circle cx="73.2" cy="216.2" r="1.9"/><circle cx="109.7" cy="229" r="1.9"/><circle cx="90.6" cy="199.9" r="1.9"/><circle cx="108.6" cy="216.7" r="1.9"/><circle cx="107" cy="219.4" r="1.9"/></g><g fill="url(#o)" stroke="#7a3011" stroke-width=".6"><circle cx="85.2" cy="220.2" r="4.3"/><circle cx="102" cy="215.1" r="4.3"/><circle cx="96" cy="221.6" r="4.3"/></g>
<g fill="none" stroke="#797e82" stroke-linecap="round" stroke-linejoin="round"><path d="M138.3 200L141.9 199.8M138.3 200L137 195.5M144.4 204.3L149.7 204M144.4 204.3L141.9 199.8M138 190.6L141.5 190.3M138 190.6L137 195.5M138 190.6L136.8 186M144 194.9L149.2 194.6M144 194.9L141.9 199.8M144 194.9L141.5 190.3M152.1 199.2L157.4 198.9M152.1 199.2L149.7 204M152.1 199.2L149.2 194.6M159.9 203.5L163.6 203.2M159.9 203.5L157.4 198.9M137.8 181.2L141.2 180.9M137.8 181.2L136.8 186M137.8 181.2L136.6 176.6M143.6 185.5L148.7 185.2M143.6 185.5L141.5 190.3M143.6 185.5L141.2 180.9M151.6 189.8L156.9 189.5M151.6 189.8L149.2 194.6M151.6 189.8L148.7 185.2M159.5 194L163.3 193.8M159.5 194L157.4 198.9M159.5 194L156.9 189.5M164.8 198.3L163.6 203.2M164.8 198.3L163.3 193.8M137.6 171.8L140.8 171.5M137.6 171.8L136.6 176.6M137.6 171.8L136.5 167.2M143.1 176L148.2 175.8M143.1 176L141.2 180.9M143.1 176L140.8 171.5M151.1 180.3L156.5 180M151.1 180.3L148.7 185.2M151.1 180.3L148.2 175.8M159.1 184.6L163.1 184.3M159.1 184.6L156.9 189.5M159.1 184.6L156.5 180M164.6 188.9L163.3 193.8M164.6 188.9L163.1 184.3M137.3 162.3L140.4 162.1M137.3 162.3L136.5 167.2M137.3 162.3L136.4 157.8M142.7 166.6L147.7 166.3M142.7 166.6L140.8 171.5M142.7 166.6L140.4 162.1M150.7 170.9L156 170.6M150.7 170.9L148.2 175.8M150.7 170.9L147.7 166.3M158.7 175.2L162.8 174.9M158.7 175.2L156.5 180M158.7 175.2L156 170.6M164.4 179.5L165.9 179.2M164.4 179.5L163.1 184.3M164.4 179.5L162.8 174.9M137.1 152.9L140.1 152.6M137.1 152.9L136.4 157.8M137.1 152.9L136.3 148.3M142.3 157.2L147.2 156.9M142.3 157.2L140.4 162.1M142.3 157.2L140.1 152.6M150.2 161.5L155.5 161.2M150.2 161.5L147.7 166.3M150.2 161.5L147.2 156.9M158.3 165.8L162.4 165.5M158.3 165.8L156 170.6M158.3 165.8L155.5 161.2M164.1 170.1L165.8 169.8M164.1 170.1L162.8 174.9M164.1 170.1L162.4 165.5M137 143.5L139.8 143.2M137 143.5L136.3 148.3M137 143.5L136.4 140M141.9 147.8L146.8 147.5M141.9 147.8L140.1 152.6M141.9 147.8L139.8 143.2M149.7 152.1L155.1 151.8M149.7 152.1L147.2 156.9M149.7 152.1L146.8 147.5M157.8 156.3L162.1 156.1M157.8 156.3L155.5 161.2M157.8 156.3L155.1 151.8M163.9 160.6L165.8 160.3M163.9 160.6L162.4 165.5M163.9 160.6L162.1 156.1M137.6 136.4L140.1 135.3M137.6 136.4L136.4 140M141.7 138.7L146.4 138.2M141.7 138.7L139.8 143.2M141.7 138.7L140.1 135.3M149.2 142.6L154.6 142.3M149.2 142.6L146.8 147.5M149.2 142.6L146.4 138.2M157.4 146.9L161.8 146.6M157.4 146.9L155.1 151.8M157.4 146.9L154.6 142.3M163.6 151.2L165.7 150.9M163.6 151.2L162.1 156.1M163.6 151.2L161.8 146.6M142.5 131.7L146.5 130.8M142.5 131.7L140.1 135.3M148.8 133.8L153.9 133.6M148.8 133.8L146.4 138.2M148.8 133.8L146.5 130.8M156.8 137.7L161.2 137.8M156.8 137.7L154.6 142.3M156.8 137.7L153.9 133.6M163.3 141.9L165.6 141.8M163.3 141.9L161.8 146.6M163.3 141.9L161.2 137.8M148.9 128.4L153 128.3M148.9 128.4L146.5 130.8M155.7 130.5L159.5 131.2M155.7 130.5L153.9 133.6M155.7 130.5L153 128.3M162.1 134.5L161.2 137.8M162.1 134.5L159.5 131.2M138 199.6L136.8 204.2M138 199.6L137 194.8M138.3 190.2L137 194.8M138.3 190.2L137.1 185.3M138.5 180.8L137.1 185.3M138.5 180.8L137.3 175.9M164.6 201.3L163.3 196.5M138.8 171.3L137.3 175.9M138.8 171.3L137.5 166.5M164.8 191.9L163.3 196.5M164.8 191.9L163.6 187M136.1 156.8L137.8 157.1M165 182.5L163.6 187M165 182.5L163.9 177.6M136.2 147.3L138 147.6M165.1 173.1L163.9 177.6M165.1 173.1L164.1 168.2M136.5 139.3L138.5 139M165.3 163.6L164.1 168.2M165.3 163.6L164.4 158.8M140.7 135.1L138.5 139M140.7 135.1L140.3 132.5M165.4 154.2L164.4 158.8M165.4 154.2L164.6 149.3M143 130L146.3 129M143 130L140.3 132.5M165.6 144.8L164.6 149.3M165.6 144.8L164.7 140.5M154.6 129L158.3 129.9M160.8 132.8L163.4 134.2M160.8 132.8L158.3 129.9M165 137.6L164.7 140.5M165 137.6L163.4 134.2" stroke-width="1.75"/><path d="M137 195.5h0M138.3 200h0M141.9 199.8h0M144.4 204.3h0M149.7 204h0M136.8 186h0M138 190.6h0M141.5 190.3h0M144 194.9h0M149.2 194.6h0M152.1 199.2h0M157.4 198.9h0M159.9 203.5h0M163.6 203.2h0M136.6 176.6h0M137.8 181.2h0M141.2 180.9h0M143.6 185.5h0M148.7 185.2h0M151.6 189.8h0M156.9 189.5h0M159.5 194h0M163.3 193.8h0M164.8 198.3h0M136.5 167.2h0M137.6 171.8h0M140.8 171.5h0M143.1 176h0M148.2 175.8h0M151.1 180.3h0M156.5 180h0M159.1 184.6h0M163.1 184.3h0M164.6 188.9h0M136.4 157.8h0M137.3 162.3h0M140.4 162.1h0M142.7 166.6h0M147.7 166.3h0M150.7 170.9h0M156 170.6h0M158.7 175.2h0M162.8 174.9h0M164.4 179.5h0M165.9 179.2h0M136.3 148.3h0M137.1 152.9h0M140.1 152.6h0M142.3 157.2h0M147.2 156.9h0M150.2 161.5h0M155.5 161.2h0M158.3 165.8h0M162.4 165.5h0M164.1 170.1h0M165.8 169.8h0M136.4 140h0M137 143.5h0M139.8 143.2h0M141.9 147.8h0M146.8 147.5h0M149.7 152.1h0M155.1 151.8h0M157.8 156.3h0M162.1 156.1h0M163.9 160.6h0M165.8 160.3h0M137.6 136.4h0M140.1 135.3h0M141.7 138.7h0M146.4 138.2h0M149.2 142.6h0M154.6 142.3h0M157.4 146.9h0M161.8 146.6h0M163.6 151.2h0M165.7 150.9h0M142.5 131.7h0M146.5 130.8h0M148.8 133.8h0M153.9 133.6h0M156.8 137.7h0M161.2 137.8h0M163.3 141.9h0M165.6 141.8h0M148.9 128.4h0M153 128.3h0M155.7 130.5h0M159.5 131.2h0M162.1 134.5h0M136.8 204.2h0M137 194.8h0M138 199.6h0M137.1 185.3h0M138.3 190.2h0M137.3 175.9h0M138.5 180.8h0M163.3 196.5h0M164.6 201.3h0M137.5 166.5h0M138.8 171.3h0M163.6 187h0M164.8 191.9h0M136.1 156.8h0M137.8 157.1h0M163.9 177.6h0M165 182.5h0M136.2 147.3h0M138 147.6h0M164.1 168.2h0M165.1 173.1h0M136.5 139.3h0M138.5 139h0M164.4 158.8h0M165.3 163.6h0M140.3 132.5h0M140.7 135.1h0M164.6 149.3h0M165.4 154.2h0M143 130h0M146.3 129h0M164.7 140.5h0M165.6 144.8h0M154.6 129h0M158.3 129.9h0M160.8 132.8h0M163.4 134.2h0M165 137.6h0" stroke-width="3.8"/></g>
<ellipse cx="150.9" cy="216.4" rx="19.6" ry="16.5" fill="#c9521f"/><g fill="url(#o)" stroke="#7a3011" stroke-width=".6"><circle cx="134.1" cy="209.1" r="4.3"/><circle cx="156" cy="231.7" r="4.3"/><circle cx="164.3" cy="205.4" r="4.3"/><circle cx="168" cy="221.7" r="4.3"/><circle cx="131.4" cy="218.4" r="4.3"/><circle cx="156.2" cy="207.5" r="4.3"/><circle cx="141" cy="204.2" r="4.3"/><circle cx="148.5" cy="206.3" r="4.3"/><circle cx="140" cy="223.9" r="4.3"/><circle cx="170.4" cy="214.7" r="4.3"/><circle cx="164.1" cy="227.2" r="4.3"/><circle cx="148.9" cy="232.8" r="4.3"/><circle cx="146.9" cy="217.2" r="4.3"/><circle cx="153.1" cy="199.9" r="4.3"/><circle cx="134.5" cy="212.4" r="4.3"/><circle cx="148.5" cy="225.9" r="4.3"/><circle cx="159.2" cy="210.3" r="4.3"/><circle cx="160.8" cy="202.5" r="4.3"/><circle cx="168.2" cy="210.2" r="4.3"/><circle cx="140.6" cy="207.3" r="4.3"/><circle cx="163.4" cy="224" r="4.3"/><circle cx="140.2" cy="217.9" r="4.3"/><circle cx="149.7" cy="202.7" r="4.3"/><circle cx="147.9" cy="210" r="4.3"/><circle cx="154.9" cy="228.2" r="4.3"/><circle cx="155.2" cy="217.1" r="4.3"/><circle cx="164.2" cy="215.1" r="4.3"/><circle cx="144.6" cy="227.4" r="4.3"/></g><g fill="url(#gy)" stroke="#5d6266" stroke-width=".35"><circle cx="160" cy="206.2" r="1.9"/><circle cx="158.5" cy="208.9" r="1.9"/><circle cx="133.9" cy="226.8" r="1.9"/><circle cx="140.2" cy="199.2" r="1.9"/><circle cx="136.8" cy="208.6" r="1.9"/><circle cx="158.2" cy="197.9" r="1.9"/><circle cx="152.1" cy="214.6" r="1.9"/><circle cx="143.7" cy="215.6" r="1.9"/><circle cx="141.7" cy="213.2" r="1.9"/><circle cx="160.7" cy="219.8" r="1.9"/><circle cx="161.8" cy="229.8" r="1.9"/><circle cx="156.5" cy="224.7" r="1.9"/><circle cx="139.9" cy="229.4" r="1.9"/><circle cx="142.3" cy="227.5" r="1.9"/><circle cx="132.5" cy="205.7" r="1.9"/></g><g fill="url(#o)" stroke="#7a3011" stroke-width=".6"><circle cx="154.3" cy="209.4" r="4.3"/><circle cx="141.8" cy="211.6" r="4.3"/><circle cx="144.4" cy="219.7" r="4.3"/><circle cx="151.5" cy="223.3" r="4.3"/></g>
<g fill="none" stroke="#797e82" stroke-linecap="round" stroke-linejoin="round"><path d="M196.3 203L200.3 202.7M196.3 203L194.8 198.4M196.1 193.6L199.9 193.3M196.1 193.6L194.8 198.4M196.1 193.6L194.6 189M202.5 197.8L207.7 197.6M202.5 197.8L200.3 202.7M202.5 197.8L199.9 193.3M210.7 202.1L215.8 201.8M210.7 202.1L207.7 197.6M195.8 184.1L199.5 183.9M195.8 184.1L194.6 189M195.8 184.1L194.4 179.6M202 188.4L207.3 188.1M202 188.4L199.9 193.3M202 188.4L199.5 183.9M210.2 192.7L215.4 192.4M210.2 192.7L207.7 197.6M210.2 192.7L207.3 188.1M217.9 197L221.4 196.7M217.9 197L215.8 201.8M217.9 197L215.4 192.4M222.6 201.3L221.4 196.7M195.5 174.7L199.1 174.4M195.5 174.7L194.4 179.6M195.5 174.7L194.3 170.1M201.6 179L206.8 178.7M201.6 179L199.5 183.9M201.6 179L199.1 174.4M209.7 183.3L214.9 183M209.7 183.3L207.3 188.1M209.7 183.3L206.8 178.7M217.5 187.6L221.1 187.3M217.5 187.6L215.4 192.4M217.5 187.6L214.9 183M222.4 191.9L221.4 196.7M222.4 191.9L221.1 187.3M195.3 165.3L198.7 165M195.3 165.3L194.3 170.1M195.3 165.3L194.1 160.7M201.1 169.6L206.3 169.3M201.1 169.6L199.1 174.4M201.1 169.6L198.7 165M209.2 173.9L214.5 173.6M209.2 173.9L206.8 178.7M209.2 173.9L206.3 169.3M217.1 178.1L220.8 177.9M217.1 178.1L214.9 183M217.1 178.1L214.5 173.6M222.3 182.4L221.1 187.3M222.3 182.4L220.8 177.9M195 155.9L198.3 155.6M195 155.9L194.1 160.7M195 155.9L194 151.3M200.7 160.1L205.8 159.9M200.7 160.1L198.7 165M200.7 160.1L198.3 155.6M208.7 164.4L214 164.1M208.7 164.4L206.3 169.3M208.7 164.4L205.8 159.9M216.7 168.7L220.6 168.4M216.7 168.7L214.5 173.6M216.7 168.7L214 164.1M222.1 173L220.8 177.9M222.1 173L220.6 168.4M194.8 146.4L198 146.1M194.8 146.4L194 151.3M194.8 146.4L193.8 141.9M200.3 150.7L205.3 150.4M200.3 150.7L198.3 155.6M200.3 150.7L198 146.1M208.2 155L213.6 154.7M208.2 155L205.8 159.9M208.2 155L205.3 150.4M216.2 159.3L220.3 159M216.2 159.3L214 164.1M216.2 159.3L213.6 154.7M221.8 163.6L220.6 168.4M221.8 163.6L220.3 159M194.6 137L197.6 136.7M194.6 137L193.8 141.9M194.6 137L193.7 132.4M199.9 141.3L204.8 141M199.9 141.3L198 146.1M199.9 141.3L197.6 136.7M207.8 145.6L213.1 145.3M207.8 145.6L205.3 150.4M207.8 145.6L204.8 141M215.8 149.9L220 149.6M215.8 149.9L213.6 154.7M215.8 149.9L213.1 145.3M221.6 154.1L223.3 153.9M221.6 154.1L220.3 159M221.6 154.1L220 149.6M194.4 127.6L197.3 127.3M194.4 127.6L193.7 132.4M194.4 127.6L193.6 123M199.5 131.9L204.3 131.6M199.5 131.9L197.6 136.7M199.5 131.9L197.3 127.3M207.3 136.1L212.6 135.9M207.3 136.1L204.8 141M207.3 136.1L204.3 131.6M215.4 140.4L219.6 140.1M215.4 140.4L213.1 145.3M215.4 140.4L212.6 135.9M221.4 144.7L223.2 144.4M221.4 144.7L220 149.6M221.4 144.7L219.6 140.1M194.3 118.1L197 117.9M194.3 118.1L193.6 123M194.3 118.1L193.6 113.8M199.1 122.4L203.9 122.1M199.1 122.4L197.3 127.3M199.1 122.4L197 117.9M206.8 126.7L212.2 126.4M206.8 126.7L204.3 131.6M206.8 126.7L203.9 122.1M214.9 131L219.3 130.7M214.9 131L212.6 135.9M214.9 131L212.2 126.4M221.1 135.3L223.1 135M221.1 135.3L219.6 140.1M221.1 135.3L219.3 130.7M194.5 110.2L196.9 109.3M194.5 110.2L193.6 113.8M198.7 113.1L203.4 112.8M198.7 113.1L197 117.9M198.7 113.1L196.9 109.3M206.3 117.3L211.7 117M206.3 117.3L203.9 122.1M206.3 117.3L203.4 112.8M214.5 121.6L219 121.3M214.5 121.6L212.2 126.4M214.5 121.6L211.7 117M220.9 125.9L223 125.6M220.9 125.9L219.3 130.7M220.9 125.9L219 121.3M199.2 105.3L203.4 104.5M199.2 105.3L196.9 109.3M199.2 105.3L198.4 103.4M205.9 108.1L211.1 107.8M205.9 108.1L203.4 112.8M205.9 108.1L203.4 104.5M214 112.2L218.6 112.1M214 112.2L211.7 117M214 112.2L211.1 107.8M220.6 116.4L222.9 116.2M220.6 116.4L219 121.3M220.6 116.4L218.6 112.1M205.8 101.3L210.3 101.1M205.8 101.3L203.4 104.5M205.8 101.3L204.1 100M213.1 104L217.2 104.5M213.1 104L211.1 107.8M213.1 104L210.3 101.1M219.8 108.2L222.1 108.9M219.8 108.2L218.6 112.1M219.8 108.2L217.2 104.5M211.7 99.7L210.3 101.1M217.6 102.6L217.2 104.5M195.4 198.8L194.2 203.4M195.4 198.8L194.4 194M195.7 189.4L194.4 194M195.7 189.4L194.6 184.5M196 180L194.6 184.5M196 180L194.8 175.1M222 200.5L220.8 195.7M196.3 170.5L194.8 175.1M196.3 170.5L195 165.7M222.2 191.1L220.8 195.7M222.2 191.1L221 186.2M193.5 156L195.2 156.2M222.4 181.7L221 186.2M222.4 181.7L221.3 176.8M193.6 146.5L195.4 146.8M222.6 172.2L221.3 176.8M222.6 172.2L221.5 167.4M193.7 137.1L195.7 137.4M222.7 162.8L221.5 167.4M222.7 162.8L221.8 158M193.8 127.7L196 128M222.9 153.4L221.8 158M222.9 153.4L222 148.5M193.9 118.3L196.3 118.5M223 144L222 148.5M223 144L222.2 139.1M194.4 110.3L196.8 109.9M223.1 134.5L222.2 139.1M223.1 134.5L222.4 129.7M199.3 106L196.8 109.9M199.3 106L198.7 103.5M223.2 125.1L222.4 129.7M223.2 125.1L222.6 120.3M201.4 101.1L204.9 100.2M201.4 101.1L198.7 103.5M206.4 102.2L211.1 102.4M206.4 102.2L204.9 100.2M220.1 111.1L222.6 111.7M220.1 111.1L217.9 106.9M223.3 115.7L222.6 120.3M223.3 115.7L222.6 111.7M213 100.6L216.4 101.7M213 100.6L211.1 102.4M218.9 104.4L217.9 106.9M218.9 104.4L216.4 101.7" stroke-width="1.75"/><path d="M194.8 198.4h0M196.3 203h0M200.3 202.7h0M194.6 189h0M196.1 193.6h0M199.9 193.3h0M202.5 197.8h0M207.7 197.6h0M210.7 202.1h0M215.8 201.8h0M194.4 179.6h0M195.8 184.1h0M199.5 183.9h0M202 188.4h0M207.3 188.1h0M210.2 192.7h0M215.4 192.4h0M217.9 197h0M221.4 196.7h0M222.6 201.3h0M194.3 170.1h0M195.5 174.7h0M199.1 174.4h0M201.6 179h0M206.8 178.7h0M209.7 183.3h0M214.9 183h0M217.5 187.6h0M221.1 187.3h0M222.4 191.9h0M194.1 160.7h0M195.3 165.3h0M198.7 165h0M201.1 169.6h0M206.3 169.3h0M209.2 173.9h0M214.5 173.6h0M217.1 178.1h0M220.8 177.9h0M222.3 182.4h0M194 151.3h0M195 155.9h0M198.3 155.6h0M200.7 160.1h0M205.8 159.9h0M208.7 164.4h0M214 164.1h0M216.7 168.7h0M220.6 168.4h0M222.1 173h0M193.8 141.9h0M194.8 146.4h0M198 146.1h0M200.3 150.7h0M205.3 150.4h0M208.2 155h0M213.6 154.7h0M216.2 159.3h0M220.3 159h0M221.8 163.6h0M193.7 132.4h0M194.6 137h0M197.6 136.7h0M199.9 141.3h0M204.8 141h0M207.8 145.6h0M213.1 145.3h0M215.8 149.9h0M220 149.6h0M221.6 154.1h0M223.3 153.9h0M193.6 123h0M194.4 127.6h0M197.3 127.3h0M199.5 131.9h0M204.3 131.6h0M207.3 136.1h0M212.6 135.9h0M215.4 140.4h0M219.6 140.1h0M221.4 144.7h0M223.2 144.4h0M193.6 113.8h0M194.3 118.1h0M197 117.9h0M199.1 122.4h0M203.9 122.1h0M206.8 126.7h0M212.2 126.4h0M214.9 131h0M219.3 130.7h0M221.1 135.3h0M223.1 135h0M194.5 110.2h0M196.9 109.3h0M198.7 113.1h0M203.4 112.8h0M206.3 117.3h0M211.7 117h0M214.5 121.6h0M219 121.3h0M220.9 125.9h0M223 125.6h0M198.4 103.4h0M199.2 105.3h0M203.4 104.5h0M205.9 108.1h0M211.1 107.8h0M214 112.2h0M218.6 112.1h0M220.6 116.4h0M222.9 116.2h0M204.1 100h0M205.8 101.3h0M210.3 101.1h0M213.1 104h0M217.2 104.5h0M219.8 108.2h0M222.1 108.9h0M211.7 99.7h0M217.6 102.6h0M194.2 203.4h0M194.4 194h0M195.4 198.8h0M194.6 184.5h0M195.7 189.4h0M194.8 175.1h0M196 180h0M220.8 195.7h0M222 200.5h0M195 165.7h0M196.3 170.5h0M221 186.2h0M222.2 191.1h0M193.5 156h0M195.2 156.2h0M221.3 176.8h0M222.4 181.7h0M193.6 146.5h0M195.4 146.8h0M221.5 167.4h0M222.6 172.2h0M193.7 137.1h0M195.7 137.4h0M221.8 158h0M222.7 162.8h0M193.8 127.7h0M196 128h0M222 148.5h0M222.9 153.4h0M193.9 118.3h0M196.3 118.5h0M222.2 139.1h0M223 144h0M194.4 110.3h0M196.8 109.9h0M222.4 129.7h0M223.1 134.5h0M198.7 103.5h0M199.3 106h0M222.6 120.3h0M223.2 125.1h0M201.4 101.1h0M204.9 100.2h0M206.4 102.2h0M211.1 102.4h0M217.9 106.9h0M220.1 111.1h0M222.6 111.7h0M223.3 115.7h0M213 100.6h0M216.4 101.7h0M218.9 104.4h0" stroke-width="3.8"/></g>
<ellipse cx="212.5" cy="216" rx="18" ry="17.5" fill="#c9521f"/><g fill="url(#o)" stroke="#7a3011" stroke-width=".6"><circle cx="195.9" cy="209.9" r="4.3"/><circle cx="218.7" cy="199" r="4.3"/><circle cx="201.5" cy="228.7" r="4.3"/><circle cx="230.1" cy="223.1" r="4.3"/><circle cx="226.4" cy="203" r="4.3"/><circle cx="211.2" cy="201.6" r="4.3"/><circle cx="219.3" cy="228.6" r="4.3"/><circle cx="230.4" cy="215.1" r="4.3"/><circle cx="199.9" cy="209.5" r="4.3"/><circle cx="208.5" cy="225.5" r="4.3"/><circle cx="223.4" cy="220.2" r="4.3"/><circle cx="195.4" cy="224.1" r="4.3"/><circle cx="202.2" cy="201.1" r="4.3"/><circle cx="209.9" cy="209.1" r="4.3"/><circle cx="209" cy="233.4" r="4.3"/><circle cx="199.8" cy="232.3" r="4.3"/><circle cx="215.6" cy="198.6" r="4.3"/><circle cx="194.6" cy="215.9" r="4.3"/><circle cx="226.5" cy="228.4" r="4.3"/><circle cx="230.4" cy="220.3" r="4.3"/><circle cx="226.8" cy="210.7" r="4.3"/><circle cx="203.1" cy="213.1" r="4.3"/><circle cx="213.9" cy="217.3" r="4.3"/><circle cx="200" cy="224.6" r="4.3"/><circle cx="218.1" cy="231" r="4.3"/><circle cx="219.1" cy="208" r="4.3"/><circle cx="210" cy="230.2" r="4.3"/></g><g fill="url(#gy)" stroke="#5d6266" stroke-width=".35"><circle cx="218.9" cy="214.5" r="1.9"/><circle cx="221.5" cy="225.8" r="1.9"/><circle cx="203.9" cy="222.8" r="1.9"/><circle cx="198.1" cy="217.6" r="1.9"/><circle cx="197.6" cy="220.7" r="1.9"/><circle cx="206.7" cy="215.3" r="1.9"/><circle cx="196.7" cy="203.6" r="1.9"/><circle cx="199.5" cy="202.2" r="1.9"/><circle cx="224.9" cy="207.2" r="1.9"/><circle cx="194.2" cy="211.9" r="1.9"/><circle cx="196.9" cy="213.3" r="1.9"/><circle cx="196.1" cy="227.8" r="1.9"/><circle cx="197.8" cy="230.4" r="1.9"/><circle cx="211.5" cy="206" r="1.9"/><circle cx="212" cy="202.9" r="1.9"/></g><g fill="url(#o)" stroke="#7a3011" stroke-width=".6"><circle cx="203.7" cy="205.5" r="4.3"/><circle cx="220.7" cy="217.6" r="4.3"/><circle cx="212" cy="211.7" r="4.3"/><circle cx="208.5" cy="222.1" r="4.3"/></g>
<g fill="none" stroke="#797e82" stroke-linecap="round" stroke-linejoin="round"><path d="M252.1 198.4L253.7 198.1M255.3 202.7L259.3 202.4M255.3 202.7L253.7 198.1M255 193.3L258.9 193M255 193.3L253.7 198.1M255 193.3L253.4 188.7M261.6 197.6L266.9 197.3M261.6 197.6L259.3 202.4M261.6 197.6L258.9 193M269.8 201.9L274.9 201.6M269.8 201.9L266.9 197.3M254.7 183.9L258.5 183.6M254.7 183.9L253.4 188.7M254.7 183.9L253.2 179.3M261.1 188.1L266.4 187.9M261.1 188.1L258.9 193M261.1 188.1L258.5 183.6M269.4 192.4L274.5 192.1M269.4 192.4L266.9 197.3M269.4 192.4L266.4 187.9M276.9 196.7L280.2 196.4M276.9 196.7L274.9 201.6M276.9 196.7L274.5 192.1M281.4 201L280.2 196.4M254.4 174.4L258.1 174.1M254.4 174.4L253.2 179.3M254.4 174.4L253 169.9M260.7 178.7L265.9 178.4M260.7 178.7L258.5 183.6M260.7 178.7L258.1 174.1M268.9 183L274 182.7M268.9 183L266.4 187.9M268.9 183L265.9 178.4M276.5 187.3L280 187M276.5 187.3L274.5 192.1M276.5 187.3L274 182.7M281.2 191.6L280.2 196.4M281.2 191.6L280 187M254.1 165L257.7 164.7M254.1 165L253 169.9M254.1 165L252.9 160.4M260.2 169.3L265.4 169M260.2 169.3L258.1 174.1M260.2 169.3L257.7 164.7M268.4 173.6L273.6 173.3M268.4 173.6L265.9 178.4M268.4 173.6L265.4 169M276.1 177.9L279.7 177.6M276.1 177.9L274 182.7M276.1 177.9L273.6 173.3M281.1 182.1L280 187M281.1 182.1L279.7 177.6M253.9 155.6L257.3 155.3M253.9 155.6L252.9 160.4M253.9 155.6L252.7 151M259.8 159.9L264.9 159.6M259.8 159.9L257.7 164.7M259.8 159.9L257.3 155.3M267.9 164.1L273.1 163.9M267.9 164.1L265.4 169M267.9 164.1L264.9 159.6M275.7 168.4L279.5 168.1M275.7 168.4L273.6 173.3M275.7 168.4L273.1 163.9M280.9 172.7L279.7 177.6M280.9 172.7L279.5 168.1M253.7 146.2L257 145.9M253.7 146.2L252.7 151M253.7 146.2L252.6 141.6M259.4 150.4L264.4 150.2M259.4 150.4L257.3 155.3M259.4 150.4L257 145.9M267.4 154.7L272.7 154.4M267.4 154.7L264.9 159.6M267.4 154.7L264.4 150.2M275.3 159L279.2 158.7M275.3 159L273.1 163.9M275.3 159L272.7 154.4M280.7 163.3L279.5 168.1M280.7 163.3L279.2 158.7M253.4 136.7L256.6 136.4M253.4 136.7L252.6 141.6M253.4 136.7L252.4 132.2M258.9 141L263.9 140.7M258.9 141L257 145.9M258.9 141L256.6 136.4M266.9 145.3L272.2 145M266.9 145.3L264.4 150.2M266.9 145.3L263.9 140.7M274.9 149.6L278.9 149.3M274.9 149.6L272.7 154.4M274.9 149.6L272.2 145M280.5 153.9L279.2 158.7M280.5 153.9L278.9 149.3M253.2 127.3L256.3 127M253.2 127.3L252.4 132.2M253.2 127.3L252.3 122.7M258.5 131.6L263.5 131.3M258.5 131.6L256.6 136.4M258.5 131.6L256.3 127M266.4 135.9L271.8 135.6M266.4 135.9L263.9 140.7M266.4 135.9L263.5 131.3M274.5 140.2L278.6 139.9M274.5 140.2L272.2 145M274.5 140.2L271.8 135.6M280.2 144.4L281.9 144.2M280.2 144.4L278.9 149.3M280.2 144.4L278.6 139.9M253 117.9L255.9 117.6M253 117.9L252.3 122.7M253 117.9L252.2 113.3M258.1 122.2L263 121.9M258.1 122.2L256.3 127M258.1 122.2L255.9 117.6M265.9 126.4L271.3 126.2M265.9 126.4L263.5 131.3M265.9 126.4L263 121.9M274 130.7L278.3 130.4M274 130.7L271.8 135.6M274 130.7L271.3 126.2M280 135L281.8 134.7M280 135L278.6 139.9M280 135L278.3 130.4M252.9 108.4L255.6 108.2M252.9 108.4L252.2 113.3M252.9 108.4L252.2 103.9M257.7 112.7L262.5 112.4M257.7 112.7L255.9 117.6M257.7 112.7L255.6 108.2M265.4 117L270.8 116.7M265.4 117L263 121.9M265.4 117L262.5 112.4M273.6 121.3L277.9 121M273.6 121.3L271.3 126.2M273.6 121.3L270.8 116.7M279.7 125.6L281.7 125.3M279.7 125.6L278.3 130.4M279.7 125.6L277.9 121M252.7 99L255.3 98.7M252.7 99L252.2 103.9M252.7 99L252.1 94.7M257.3 103.3L262 103M257.3 103.3L255.6 108.2M257.3 103.3L255.3 98.7M264.9 107.6L270.3 107.3M264.9 107.6L262.5 112.4M264.9 107.6L262 103M273.1 111.9L277.6 111.6M273.1 111.9L270.8 116.7M273.1 111.9L270.3 107.3M279.5 116.2L281.6 115.9M279.5 116.2L277.9 121M279.5 116.2L277.6 111.6M253 91.2L255.3 90.3M253 91.2L252.1 94.7M257 94L261.6 93.6M257 94L255.3 98.7M257 94L255.3 90.3M264.4 98.2L269.8 97.9M264.4 98.2L262 103M264.4 98.2L261.6 93.6M272.7 102.4L277.2 102.2M272.7 102.4L270.3 107.3M272.7 102.4L269.8 97.9M279.2 106.7L281.5 106.4M279.2 106.7L277.6 111.6M279.2 106.7L277.2 102.2M257.5 86.3L261.7 85.4M257.5 86.3L255.3 90.3M257.5 86.3L256.9 84.5M264 89L269.3 88.7M264 89L261.6 93.6M264 89L261.7 85.4M272.2 93.1L276.8 93M272.2 93.1L269.8 97.9M272.2 93.1L269.3 88.7M278.9 97.3L281.4 97M278.9 97.3L277.2 102.2M278.9 97.3L276.8 93M264.1 82.3L268.5 82.1M264.1 82.3L261.7 85.4M264.1 82.3L262.5 81.1M271.3 84.9L275.5 85.4M271.3 84.9L269.3 88.7M271.3 84.9L268.5 82.1M278.1 89.1L280.5 89.7M278.1 89.1L276.8 93M278.1 89.1L275.5 85.4M281.8 93.2L281.4 97M281.8 93.2L280.5 89.7M270 80.7L268.5 82.1M275.9 83.5L275.5 85.4M252.2 197L253.9 197.3M252.2 187.5L254.2 187.8M252.3 178.1L254.4 178.4M281.4 203.8L280.5 199M252.5 168.7L254.7 169M281.5 194.4L280.5 199M281.5 194.4L280.7 189.5M252.6 159.3L255 159.6M252.6 159.3L252.1 154.4M281.6 185L280.7 189.5M281.6 185L280.9 180.1M252.7 149.8L252.1 154.4M252.7 149.8L252.2 145M281.7 175.5L280.9 180.1M281.7 175.5L281.1 170.7M252.9 140.4L252.2 145M252.9 140.4L252.2 135.6M281.8 166.1L281.1 170.7M281.8 166.1L281.2 161.3M253.1 131L252.2 135.6M253.1 131L252.3 126.1M281.9 156.7L281.2 161.3M281.9 156.7L281.4 151.8M253.2 121.6L252.3 126.1M253.2 121.6L252.5 116.7M279.2 142.1L281.5 142.4M253.5 112.1L252.5 116.7M253.5 112.1L252.6 107.3M279.5 132.7L281.6 133M253.7 102.7L252.6 107.3M253.7 102.7L252.7 97.8M279.8 123.3L281.7 123.6M253.9 93.6L252.7 97.8M253.9 93.6L253.4 90.2M280 113.8L281.8 114.1M255.5 86.7L258.6 85.9M255.5 86.7L253.4 90.2M280.2 104.4L281.9 104.7M261.4 82.8L265.7 82.5M261.4 82.8L258.6 85.9M280.5 95.1L279 91M268 80.7L271.8 81.4M268 80.7L265.7 82.5M274.3 83.6L277.5 84.9M274.3 83.6L271.8 81.4M279.6 88.2L279 91M279.6 88.2L277.5 84.9" stroke-width="1.75"/><path d="M252.1 198.4h0M253.7 198.1h0M255.3 202.7h0M259.3 202.4h0M253.4 188.7h0M255 193.3h0M258.9 193h0M261.6 197.6h0M266.9 197.3h0M269.8 201.9h0M274.9 201.6h0M253.2 179.3h0M254.7 183.9h0M258.5 183.6h0M261.1 188.1h0M266.4 187.9h0M269.4 192.4h0M274.5 192.1h0M276.9 196.7h0M280.2 196.4h0M281.4 201h0M253 169.9h0M254.4 174.4h0M258.1 174.1h0M260.7 178.7h0M265.9 178.4h0M268.9 183h0M274 182.7h0M276.5 187.3h0M280 187h0M281.2 191.6h0M252.9 160.4h0M254.1 165h0M257.7 164.7h0M260.2 169.3h0M265.4 169h0M268.4 173.6h0M273.6 173.3h0M276.1 177.9h0M279.7 177.6h0M281.1 182.1h0M252.7 151h0M253.9 155.6h0M257.3 155.3h0M259.8 159.9h0M264.9 159.6h0M267.9 164.1h0M273.1 163.9h0M275.7 168.4h0M279.5 168.1h0M280.9 172.7h0M252.6 141.6h0M253.7 146.2h0M257 145.9h0M259.4 150.4h0M264.4 150.2h0M267.4 154.7h0M272.7 154.4h0M275.3 159h0M279.2 158.7h0M280.7 163.3h0M252.4 132.2h0M253.4 136.7h0M256.6 136.4h0M258.9 141h0M263.9 140.7h0M266.9 145.3h0M272.2 145h0M274.9 149.6h0M278.9 149.3h0M280.5 153.9h0M252.3 122.7h0M253.2 127.3h0M256.3 127h0M258.5 131.6h0M263.5 131.3h0M266.4 135.9h0M271.8 135.6h0M274.5 140.2h0M278.6 139.9h0M280.2 144.4h0M281.9 144.2h0M252.2 113.3h0M253 117.9h0M255.9 117.6h0M258.1 122.2h0M263 121.9h0M265.9 126.4h0M271.3 126.2h0M274 130.7h0M278.3 130.4h0M280 135h0M281.8 134.7h0M252.2 103.9h0M252.9 108.4h0M255.6 108.2h0M257.7 112.7h0M262.5 112.4h0M265.4 117h0M270.8 116.7h0M273.6 121.3h0M277.9 121h0M279.7 125.6h0M281.7 125.3h0M252.1 94.7h0M252.7 99h0M255.3 98.7h0M257.3 103.3h0M262 103h0M264.9 107.6h0M270.3 107.3h0M273.1 111.9h0M277.6 111.6h0M279.5 116.2h0M281.6 115.9h0M253 91.2h0M255.3 90.3h0M257 94h0M261.6 93.6h0M264.4 98.2h0M269.8 97.9h0M272.7 102.4h0M277.2 102.2h0M279.2 106.7h0M281.5 106.4h0M256.9 84.5h0M257.5 86.3h0M261.7 85.4h0M264 89h0M269.3 88.7h0M272.2 93.1h0M276.8 93h0M278.9 97.3h0M281.4 97h0M262.5 81.1h0M264.1 82.3h0M268.5 82.1h0M271.3 84.9h0M275.5 85.4h0M278.1 89.1h0M280.5 89.7h0M281.8 93.2h0M270 80.7h0M275.9 83.5h0M252.2 197h0M253.9 197.3h0M252.2 187.5h0M254.2 187.8h0M252.3 178.1h0M254.4 178.4h0M280.5 199h0M281.4 203.8h0M252.5 168.7h0M254.7 169h0M280.7 189.5h0M281.5 194.4h0M252.1 154.4h0M252.6 159.3h0M255 159.6h0M280.9 180.1h0M281.6 185h0M252.2 145h0M252.7 149.8h0M281.1 170.7h0M281.7 175.5h0M252.2 135.6h0M252.9 140.4h0M281.2 161.3h0M281.8 166.1h0M252.3 126.1h0M253.1 131h0M281.4 151.8h0M281.9 156.7h0M252.5 116.7h0M253.2 121.6h0M279.2 142.1h0M281.5 142.4h0M252.6 107.3h0M253.5 112.1h0M279.5 132.7h0M281.6 133h0M252.7 97.8h0M253.7 102.7h0M279.8 123.3h0M281.7 123.6h0M253.4 90.2h0M253.9 93.6h0M280 113.8h0M281.8 114.1h0M255.5 86.7h0M258.6 85.9h0M280.2 104.4h0M281.9 104.7h0M261.4 82.8h0M265.7 82.5h0M279 91h0M280.5 95.1h0M268 80.7h0M271.8 81.4h0M274.3 83.6h0M277.5 84.9h0M279.6 88.2h0" stroke-width="3.8"/></g>
<ellipse cx="269.3" cy="217.8" rx="16.2" ry="18.2" fill="#c9521f"/><g fill="url(#o)" stroke="#7a3011" stroke-width=".6"><circle cx="275.5" cy="233.9" r="4.3"/><circle cx="255.7" cy="210" r="4.3"/><circle cx="270.3" cy="199.6" r="4.3"/><circle cx="285.4" cy="211.9" r="4.3"/><circle cx="266.6" cy="232.3" r="4.3"/><circle cx="275.1" cy="231" r="4.3"/><circle cx="280.1" cy="201.6" r="4.3"/><circle cx="260.4" cy="210.5" r="4.3"/><circle cx="257.1" cy="224.6" r="4.3"/><circle cx="285.3" cy="208.8" r="4.3"/><circle cx="268.5" cy="204.5" r="4.3"/><circle cx="259.9" cy="203" r="4.3"/><circle cx="268.6" cy="213.7" r="4.3"/><circle cx="253.2" cy="217.8" r="4.3"/><circle cx="278.5" cy="233.9" r="4.3"/><circle cx="276.6" cy="202.3" r="4.3"/><circle cx="265.6" cy="235.9" r="4.3"/><circle cx="283.7" cy="222.5" r="4.3"/><circle cx="276" cy="211.1" r="4.3"/><circle cx="275.7" cy="220.5" r="4.3"/><circle cx="271.8" cy="228.8" r="4.3"/><circle cx="259" cy="230.7" r="4.3"/><circle cx="262.7" cy="220.8" r="4.3"/><circle cx="258.5" cy="213.3" r="4.3"/><circle cx="266.2" cy="229" r="4.3"/><circle cx="276.6" cy="226" r="4.3"/></g><g fill="url(#gy)" stroke="#5d6266" stroke-width=".35"><circle cx="261.2" cy="233.3" r="1.9"/><circle cx="272" cy="217.6" r="1.9"/><circle cx="251.3" cy="211.8" r="1.9"/><circle cx="279.2" cy="228.7" r="1.9"/><circle cx="262.4" cy="200.1" r="1.9"/><circle cx="263.6" cy="226.4" r="1.9"/><circle cx="263.5" cy="223.3" r="1.9"/><circle cx="269.4" cy="234.7" r="1.9"/><circle cx="270" cy="231.7" r="1.9"/><circle cx="270.5" cy="208.9" r="1.9"/><circle cx="279" cy="209" r="1.9"/><circle cx="280.4" cy="215.1" r="1.9"/><circle cx="271.6" cy="203.1" r="1.9"/><circle cx="263.1" cy="215" r="1.9"/><circle cx="253.4" cy="228.9" r="1.9"/><circle cx="284.2" cy="226.5" r="1.9"/><circle cx="269.3" cy="225.4" r="1.9"/><circle cx="269.9" cy="228.4" r="1.9"/></g><g fill="url(#o)" stroke="#7a3011" stroke-width=".6"><circle cx="265.9" cy="209.9" r="4.3"/><circle cx="277.2" cy="216.3" r="4.3"/><circle cx="267.8" cy="220.7" r="4.3"/></g>
<g fill="none" stroke="#797e82" stroke-linecap="round" stroke-linejoin="round"><path d="M310.9 202.1L314.8 201.8M310.9 202.1L309.3 197.5M310.6 192.6L314.4 192.3M310.6 192.6L309.3 197.5M310.6 192.6L309.1 188.1M317 196.9L322.3 196.6M317 196.9L314.8 201.8M317 196.9L314.4 192.3M325.3 201.2L330.4 200.9M325.3 201.2L322.3 196.6M310.3 183.2L314 182.9M310.3 183.2L309.1 188.1M310.3 183.2L308.9 178.6M316.6 187.5L321.8 187.2M316.6 187.5L314.4 192.3M316.6 187.5L314 182.9M324.8 191.8L329.9 191.5M324.8 191.8L322.3 196.6M324.8 191.8L321.8 187.2M332.4 196.1L336 195.8M332.4 196.1L330.4 200.9M332.4 196.1L329.9 191.5M337.3 200.3L336 195.8M310 173.8L313.6 173.5M310 173.8L308.9 178.6M310 173.8L308.7 169.2M316.1 178.1L321.3 177.8M316.1 178.1L314 182.9M316.1 178.1L313.6 173.5M324.3 182.3L329.5 182.1M324.3 182.3L321.8 187.2M324.3 182.3L321.3 177.8M332 186.6L335.8 186.3M332 186.6L329.9 191.5M332 186.6L329.5 182.1M337.1 190.9L336 195.8M337.1 190.9L335.8 186.3M309.8 164.3L313.2 164.1M309.8 164.3L308.7 169.2M309.8 164.3L308.6 159.8M315.7 168.6L320.8 168.4M315.7 168.6L313.6 173.5M315.7 168.6L313.2 164.1M323.8 172.9L329 172.6M323.8 172.9L321.3 177.8M323.8 172.9L320.8 168.4M331.6 177.2L335.5 176.9M331.6 177.2L329.5 182.1M331.6 177.2L329 172.6M336.9 181.5L335.8 186.3M336.9 181.5L335.5 176.9M309.5 154.9L312.9 154.6M309.5 154.9L308.6 159.8M309.5 154.9L308.4 150.4M315.3 159.2L320.3 158.9M315.3 159.2L313.2 164.1M315.3 159.2L312.9 154.6M323.3 163.5L328.6 163.2M323.3 163.5L320.8 168.4M323.3 163.5L320.3 158.9M331.2 167.8L335.2 167.5M331.2 167.8L329 172.6M331.2 167.8L328.6 163.2M336.7 172.1L335.5 176.9M336.7 172.1L335.2 167.5M309.3 145.5L312.5 145.2M309.3 145.5L308.4 150.4M309.3 145.5L308.3 140.9M314.8 149.8L319.8 149.5M314.8 149.8L312.9 154.6M314.8 149.8L312.5 145.2M322.8 154.1L328.1 153.8M322.8 154.1L320.3 158.9M322.8 154.1L319.8 149.5M330.8 158.4L334.9 158.1M330.8 158.4L328.6 163.2M330.8 158.4L328.1 153.8M336.5 162.6L338.1 162.4M336.5 162.6L335.2 167.5M336.5 162.6L334.9 158.1M309.1 136.1L312.2 135.8M309.1 136.1L308.3 140.9M309.1 136.1L308.2 131.5M314.4 140.4L319.4 140.1M314.4 140.4L312.5 145.2M314.4 140.4L312.2 135.8M322.3 144.6L327.7 144.4M322.3 144.6L319.8 149.5M322.3 144.6L319.4 140.1M330.4 148.9L334.6 148.6M330.4 148.9L328.1 153.8M330.4 148.9L327.7 144.4M336.3 153.2L338 152.9M336.3 153.2L334.9 158.1M336.3 153.2L334.6 148.6M308.9 126.6L311.8 126.4M308.9 126.6L308.2 131.5M308.9 126.6L308.1 122.1M314 130.9L318.9 130.6M314 130.9L312.2 135.8M314 130.9L311.8 126.4M321.8 135.2L327.2 134.9M321.8 135.2L319.4 140.1M321.8 135.2L318.9 130.6M329.9 139.5L334.2 139.2M329.9 139.5L327.7 144.4M329.9 139.5L327.2 134.9M336 143.8L337.9 143.5M336 143.8L334.6 148.6M336 143.8L334.2 139.2M308.7 117.2L311.5 116.9M308.7 117.2L308.1 122.1M308.7 117.2L308 112.6M313.6 121.5L318.4 121.2M313.6 121.5L311.8 126.4M313.6 121.5L311.5 116.9M321.3 125.8L326.7 125.5M321.3 125.8L318.9 130.6M321.3 125.8L318.4 121.2M329.5 130.1L333.9 129.8M329.5 130.1L327.2 134.9M329.5 130.1L326.7 125.5M335.8 134.4L337.8 134.1M335.8 134.4L334.2 139.2M335.8 134.4L333.9 129.8M308.6 107.8L311.2 107.5M308.6 107.8L308 112.6M308.6 107.8L307.9 103.2M313.2 112.1L317.9 111.8M313.2 112.1L311.5 116.9M313.2 112.1L311.2 107.5M320.8 116.4L326.2 116.1M320.8 116.4L318.4 121.2M320.8 116.4L317.9 111.8M329.1 120.6L333.6 120.4M329.1 120.6L326.7 125.5M329.1 120.6L326.2 116.1M335.5 124.9L337.7 124.6M335.5 124.9L333.9 129.8M335.5 124.9L333.6 120.4M308.4 98.4L310.9 98.1M308.4 98.4L307.9 103.2M312.9 102.6L317.5 102.4M312.9 102.6L311.2 107.5M312.9 102.6L310.9 98.1M320.3 106.9L325.7 106.6M320.3 106.9L317.9 111.8M320.3 106.9L317.5 102.4M328.6 111.2L333.2 110.9M328.6 111.2L326.2 116.1M328.6 111.2L325.7 106.6M335.2 115.5L337.6 115.2M335.2 115.5L333.6 120.4M335.2 115.5L333.2 110.9M308.3 88.9L310.6 88.7M312.5 93.2L317 92.9M312.5 93.2L310.9 98.1M312.5 93.2L310.6 88.7M319.9 97.5L325.3 97.2M319.9 97.5L317.5 102.4M319.9 97.5L317 92.9M328.1 101.8L332.8 101.5M328.1 101.8L325.7 106.6M328.1 101.8L325.3 97.2M334.9 106.1L337.5 105.8M334.9 106.1L333.2 110.9M334.9 106.1L332.8 101.5M338.1 110.4L337.6 115.2M338.1 110.4L337.5 105.8M308.2 79.5L310.3 79.2M312.2 83.8L316.6 83.5M312.2 83.8L310.6 88.7M312.2 83.8L310.3 79.2M319.4 88.1L324.8 87.8M319.4 88.1L317 92.9M319.4 88.1L316.6 83.5M327.7 92.4L332.4 92.1M327.7 92.4L325.3 97.2M327.7 92.4L324.8 87.8M334.6 96.7L337.3 96.4M334.6 96.7L332.8 101.5M334.6 96.7L332.4 92.1M338 100.9L337.5 105.8M338 100.9L337.3 96.4M308.1 70.1L310 69.8M311.8 74.4L316.1 74.1M311.8 74.4L310.3 79.2M311.8 74.4L310 69.8M318.9 78.7L324.3 78.4M318.9 78.7L316.6 83.5M318.9 78.7L316.1 74.1M327.2 82.9L332 82.7M327.2 82.9L324.8 87.8M327.2 82.9L324.3 78.4M334.2 87.2L337.1 86.9M334.2 87.2L332.4 92.1M334.2 87.2L332 82.7M337.9 91.5L337.3 96.4M337.9 91.5L337.1 86.9M308 60.7L309.8 60.4M311.5 64.9L315.7 64.7M311.5 64.9L310 69.8M311.5 64.9L309.8 60.4M318.4 69.2L323.8 68.9M318.4 69.2L316.1 74.1M318.4 69.2L315.7 64.7M326.7 73.5L331.6 73.2M326.7 73.5L324.3 78.4M326.7 73.5L323.8 68.9M333.9 77.8L336.9 77.5M333.9 77.8L332 82.7M333.9 77.8L331.6 73.2M337.8 82.1L337.1 86.9M337.8 82.1L336.9 77.5M307.9 51.2L309.5 50.9M311.2 55.5L315.3 55.2M311.2 55.5L309.8 60.4M311.2 55.5L309.5 50.9M317.9 59.8L323.3 59.5M317.9 59.8L315.7 64.7M317.9 59.8L315.3 55.2M326.2 64.1L331.2 63.8M326.2 64.1L323.8 68.9M326.2 64.1L323.3 59.5M333.6 68.4L336.7 68.1M333.6 68.4L331.6 73.2M333.6 68.4L331.2 63.8M337.7 72.7L336.9 77.5M337.7 72.7L336.7 68.1M310.9 46.1L314.8 45.8M310.9 46.1L309.5 50.9M310.9 46.1L309.3 41.5M317.5 50.4L322.8 50.1M317.5 50.4L315.3 55.2M317.5 50.4L314.8 45.8M325.8 54.7L330.8 54.4M325.8 54.7L323.3 59.5M325.8 54.7L322.8 50.1M333.2 58.9L336.5 58.7M333.2 58.9L331.2 63.8M333.2 58.9L330.8 54.4M337.6 63.2L336.7 68.1M337.6 63.2L336.5 58.7M310.6 36.8L314.4 36.4M310.6 36.8L309.3 41.5M310.6 36.8L309.4 33.3M317 40.9L322.3 40.7M317 40.9L314.8 45.8M317 40.9L314.4 36.4M325.3 45.2L330.4 44.9M325.3 45.2L322.8 50.1M325.3 45.2L322.3 40.7M332.8 49.5L336.3 49.2M332.8 49.5L330.8 54.4M332.8 49.5L330.4 44.9M337.5 53.8L336.5 58.7M337.5 53.8L336.3 49.2M311.3 29.4L314.7 28.4M311.3 29.4L309.4 33.3M316.7 31.8L321.8 31.4M316.7 31.8L314.4 36.4M316.7 31.8L314.7 28.4M324.8 35.8L329.9 35.6M324.8 35.8L322.3 40.7M324.8 35.8L321.8 31.4M332.4 40.1L336 39.8M332.4 40.1L330.4 44.9M332.4 40.1L329.9 35.6M337.3 44.4L336.3 49.2M337.3 44.4L336 39.8M317.2 25L321.6 24.4M317.2 25L314.7 28.4M317.2 25L316.1 23.8M324.2 27.3L328.9 27.4M324.2 27.3L321.8 31.4M324.2 27.3L321.6 24.4M331.8 31.3L335.3 31.7M331.8 31.3L329.9 35.6M331.8 31.3L328.9 27.4M337.1 35.5L336 39.8M337.1 35.5L335.3 31.7M323.6 22.5L327.3 22.9M323.6 22.5L321.6 24.4M330.1 24.9L333.1 26.1M330.1 24.9L328.9 27.4M330.1 24.9L327.3 22.9M335.4 29L335.3 31.7M335.4 29L333.1 26.1M308.4 195.7L310.8 196M308.4 195.7L307.9 190.8M308.5 186.2L307.9 190.8M308.5 186.2L308 181.4M308.7 176.8L308 181.4M308.7 176.8L308.1 172M337.9 202.5L337.3 197.7M308.9 167.4L308.1 172M308.9 167.4L308.1 162.5M338 193.1L337.3 197.7M338 193.1L337.4 188.2M309.1 158L308.1 162.5M309.1 158L308.3 153.1M338.1 183.7L337.4 188.2M338.1 183.7L337.6 178.8M309.3 148.5L308.3 153.1M309.3 148.5L308.4 143.7M335.4 169.1L337.7 169.4M309.5 139.1L308.4 143.7M309.5 139.1L308.5 134.3M335.7 159.7L337.8 160M309.7 129.7L308.5 134.3M309.7 129.7L308.7 124.8M336 150.3L337.9 150.5M310 120.3L308.7 124.8M310 120.3L308.9 115.4M336.2 140.8L338 141.1M310.2 110.8L308.9 115.4M310.2 110.8L309.1 106M336.4 131.4L338.1 131.7M310.5 101.4L309.1 106M310.5 101.4L309.3 96.6M336.7 122L335.4 117.1M307.9 86.8L309.5 87.1M310.8 92L309.3 96.6M310.8 92L309.5 87.1M336.9 112.5L335.4 117.1M336.9 112.5L335.7 107.7M308 77.4L309.7 77.7M337.1 103.1L335.7 107.7M337.1 103.1L335.9 98.3M308 68L310 68.3M337.2 93.7L335.9 98.3M337.2 93.7L336.2 88.8M308.1 58.6L310.2 58.8M337.4 84.3L336.2 88.8M337.4 84.3L336.4 79.4M308.3 49.1L310.5 49.4M337.6 74.8L336.4 79.4M337.6 74.8L336.7 70M308.4 39.7L310.8 40M308.4 39.7L308 35.6M337.7 65.4L336.7 70M337.7 65.4L336.9 60.6M309.1 32.2L311.5 31.6M309.1 32.2L308 35.6M337.8 56L336.9 60.6M337.8 56L337.1 51.1M314.1 27.9L311.5 31.6M314.1 27.9L313.6 25.8M337.9 46.6L337.1 51.1M337.9 46.6L337.2 41.7M321.1 24.4L325.6 24.5M321.1 24.4L319.6 22.8M334.6 32.8L337.1 33.6M334.6 32.8L332.3 28.7M338 37.2L337.2 41.7M338 37.2L337.1 33.6M327.4 23.1L325.6 24.5M333.2 26.6L332.3 28.7" stroke-width="1.75"/><path d="M309.3 197.5h0M310.9 202.1h0M314.8 201.8h0M309.1 188.1h0M310.6 192.6h0M314.4 192.3h0M317 196.9h0M322.3 196.6h0M325.3 201.2h0M330.4 200.9h0M308.9 178.6h0M310.3 183.2h0M314 182.9h0M316.6 187.5h0M321.8 187.2h0M324.8 191.8h0M329.9 191.5h0M332.4 196.1h0M336 195.8h0M337.3 200.3h0M308.7 169.2h0M310 173.8h0M313.6 173.5h0M316.1 178.1h0M321.3 177.8h0M324.3 182.3h0M329.5 182.1h0M332 186.6h0M335.8 186.3h0M337.1 190.9h0M308.6 159.8h0M309.8 164.3h0M313.2 164.1h0M315.7 168.6h0M320.8 168.4h0M323.8 172.9h0M329 172.6h0M331.6 177.2h0M335.5 176.9h0M336.9 181.5h0M308.4 150.4h0M309.5 154.9h0M312.9 154.6h0M315.3 159.2h0M320.3 158.9h0M323.3 163.5h0M328.6 163.2h0M331.2 167.8h0M335.2 167.5h0M336.7 172.1h0M308.3 140.9h0M309.3 145.5h0M312.5 145.2h0M314.8 149.8h0M319.8 149.5h0M322.8 154.1h0M328.1 153.8h0M330.8 158.4h0M334.9 158.1h0M336.5 162.6h0M338.1 162.4h0M308.2 131.5h0M309.1 136.1h0M312.2 135.8h0M314.4 140.4h0M319.4 140.1h0M322.3 144.6h0M327.7 144.4h0M330.4 148.9h0M334.6 148.6h0M336.3 153.2h0M338 152.9h0M308.1 122.1h0M308.9 126.6h0M311.8 126.4h0M314 130.9h0M318.9 130.6h0M321.8 135.2h0M327.2 134.9h0M329.9 139.5h0M334.2 139.2h0M336 143.8h0M337.9 143.5h0M308 112.6h0M308.7 117.2h0M311.5 116.9h0M313.6 121.5h0M318.4 121.2h0M321.3 125.8h0M326.7 125.5h0M329.5 130.1h0M333.9 129.8h0M335.8 134.4h0M337.8 134.1h0M307.9 103.2h0M308.6 107.8h0M311.2 107.5h0M313.2 112.1h0M317.9 111.8h0M320.8 116.4h0M326.2 116.1h0M329.1 120.6h0M333.6 120.4h0M335.5 124.9h0M337.7 124.6h0M308.4 98.4h0M310.9 98.1h0M312.9 102.6h0M317.5 102.4h0M320.3 106.9h0M325.7 106.6h0M328.6 111.2h0M333.2 110.9h0M335.2 115.5h0M337.6 115.2h0M308.3 88.9h0M310.6 88.7h0M312.5 93.2h0M317 92.9h0M319.9 97.5h0M325.3 97.2h0M328.1 101.8h0M332.8 101.5h0M334.9 106.1h0M337.5 105.8h0M338.1 110.4h0M308.2 79.5h0M310.3 79.2h0M312.2 83.8h0M316.6 83.5h0M319.4 88.1h0M324.8 87.8h0M327.7 92.4h0M332.4 92.1h0M334.6 96.7h0M337.3 96.4h0M338 100.9h0M308.1 70.1h0M310 69.8h0M311.8 74.4h0M316.1 74.1h0M318.9 78.7h0M324.3 78.4h0M327.2 82.9h0M332 82.7h0M334.2 87.2h0M337.1 86.9h0M337.9 91.5h0M308 60.7h0M309.8 60.4h0M311.5 64.9h0M315.7 64.7h0M318.4 69.2h0M323.8 68.9h0M326.7 73.5h0M331.6 73.2h0M333.9 77.8h0M336.9 77.5h0M337.8 82.1h0M307.9 51.2h0M309.5 50.9h0M311.2 55.5h0M315.3 55.2h0M317.9 59.8h0M323.3 59.5h0M326.2 64.1h0M331.2 63.8h0M333.6 68.4h0M336.7 68.1h0M337.7 72.7h0M309.3 41.5h0M310.9 46.1h0M314.8 45.8h0M317.5 50.4h0M322.8 50.1h0M325.8 54.7h0M330.8 54.4h0M333.2 58.9h0M336.5 58.7h0M337.6 63.2h0M309.4 33.3h0M310.6 36.8h0M314.4 36.4h0M317 40.9h0M322.3 40.7h0M325.3 45.2h0M330.4 44.9h0M332.8 49.5h0M336.3 49.2h0M337.5 53.8h0M311.3 29.4h0M314.7 28.4h0M316.7 31.8h0M321.8 31.4h0M324.8 35.8h0M329.9 35.6h0M332.4 40.1h0M336 39.8h0M337.3 44.4h0M316.1 23.8h0M317.2 25h0M321.6 24.4h0M324.2 27.3h0M328.9 27.4h0M331.8 31.3h0M335.3 31.7h0M337.1 35.5h0M323.6 22.5h0M327.3 22.9h0M330.1 24.9h0M333.1 26.1h0M335.4 29h0M307.9 190.8h0M308.4 195.7h0M310.8 196h0M308 181.4h0M308.5 186.2h0M308.1 172h0M308.7 176.8h0M337.3 197.7h0M337.9 202.5h0M308.1 162.5h0M308.9 167.4h0M337.4 188.2h0M338 193.1h0M308.3 153.1h0M309.1 158h0M337.6 178.8h0M338.1 183.7h0M308.4 143.7h0M309.3 148.5h0M335.4 169.1h0M337.7 169.4h0M308.5 134.3h0M309.5 139.1h0M335.7 159.7h0M337.8 160h0M308.7 124.8h0M309.7 129.7h0M336 150.3h0M337.9 150.5h0M308.9 115.4h0M310 120.3h0M336.2 140.8h0M338 141.1h0M309.1 106h0M310.2 110.8h0M336.4 131.4h0M338.1 131.7h0M309.3 96.6h0M310.5 101.4h0M335.4 117.1h0M336.7 122h0M307.9 86.8h0M309.5 87.1h0M310.8 92h0M335.7 107.7h0M336.9 112.5h0M308 77.4h0M309.7 77.7h0M335.9 98.3h0M337.1 103.1h0M308 68h0M310 68.3h0M336.2 88.8h0M337.2 93.7h0M308.1 58.6h0M310.2 58.8h0M336.4 79.4h0M337.4 84.3h0M308.3 49.1h0M310.5 49.4h0M336.7 70h0M337.6 74.8h0M308 35.6h0M308.4 39.7h0M310.8 40h0M336.9 60.6h0M337.7 65.4h0M309.1 32.2h0M311.5 31.6h0M337.1 51.1h0M337.8 56h0M313.6 25.8h0M314.1 27.9h0M337.2 41.7h0M337.9 46.6h0M319.6 22.8h0M321.1 24.4h0M325.6 24.5h0M332.3 28.7h0M334.6 32.8h0M337.1 33.6h0M338 37.2h0M327.4 23.1h0M333.2 26.6h0" stroke-width="3.8"/></g>
<ellipse cx="327.5" cy="216.6" rx="17" ry="18.1" fill="#c9521f"/><g fill="url(#o)" stroke="#7a3011" stroke-width=".6"><circle cx="340.1" cy="220.9" r="4.3"/><circle cx="312.9" cy="213.6" r="4.3"/><circle cx="333.7" cy="204.9" r="4.3"/><circle cx="326.1" cy="199.2" r="4.3"/><circle cx="314.6" cy="204.6" r="4.3"/><circle cx="344.4" cy="213.2" r="4.3"/><circle cx="310.6" cy="225.4" r="4.3"/><circle cx="335.8" cy="234.6" r="4.3"/><circle cx="337.6" cy="207.4" r="4.3"/><circle cx="330.1" cy="200.7" r="4.3"/><circle cx="311.6" cy="216.7" r="4.3"/><circle cx="338.5" cy="218" r="4.3"/><circle cx="320.5" cy="198.6" r="4.3"/><circle cx="341.6" cy="228.5" r="4.3"/><circle cx="318.9" cy="233.7" r="4.3"/><circle cx="314.6" cy="225.2" r="4.3"/><circle cx="316.1" cy="210.8" r="4.3"/><circle cx="342.6" cy="215.9" r="4.3"/><circle cx="334.9" cy="207.4" r="4.3"/><circle cx="324" cy="214.4" r="4.3"/><circle cx="334.6" cy="230.4" r="4.3"/><circle cx="323.6" cy="225.2" r="4.3"/><circle cx="332.7" cy="215.5" r="4.3"/><circle cx="326.8" cy="234.4" r="4.3"/><circle cx="326.3" cy="205.9" r="4.3"/><circle cx="313.3" cy="219" r="4.3"/><circle cx="317.4" cy="207.9" r="4.3"/><circle cx="334.4" cy="222.9" r="4.3"/><circle cx="317.6" cy="226.1" r="4.3"/></g><g fill="url(#gy)" stroke="#5d6266" stroke-width=".35"><circle cx="338.3" cy="199.6" r="1.9"/><circle cx="326.5" cy="210.8" r="1.9"/><circle cx="316.7" cy="200.1" r="1.9"/><circle cx="319.3" cy="198.4" r="1.9"/><circle cx="316.8" cy="219.8" r="1.9"/><circle cx="322.7" cy="206.2" r="1.9"/><circle cx="312.9" cy="208.6" r="1.9"/><circle cx="338.1" cy="224.5" r="1.9"/><circle cx="345.9" cy="222.1" r="1.9"/><circle cx="347.3" cy="219.4" r="1.9"/><circle cx="323.7" cy="200.9" r="1.9"/><circle cx="333.3" cy="198.5" r="1.9"/><circle cx="337.1" cy="214.2" r="1.9"/><circle cx="330.3" cy="227.5" r="1.9"/><circle cx="314.8" cy="214.7" r="1.9"/><circle cx="331.2" cy="232.5" r="1.9"/><circle cx="332" cy="229.5" r="1.9"/></g><g fill="url(#o)" stroke="#7a3011" stroke-width=".6"><circle cx="319.9" cy="215.6" r="4.3"/><circle cx="326.2" cy="228.8" r="4.3"/><circle cx="333" cy="212.1" r="4.3"/><circle cx="327.2" cy="219.5" r="4.3"/></g>
</g>
<text class="lbl" x="5" y="15.6">a</text>
<text class="lbl" x="379.5" y="16">d</text>
<text class="lbl" x="379.8" y="168">e</text>
<text class="t" x="31.1" y="73" text-anchor="middle">8.80 ns</text>
<text class="t" x="90.6" y="73" text-anchor="middle">28.40 ns</text>
<text class="t" x="149.9" y="73" text-anchor="middle">34.25 ns</text>
<text class="t" x="209.4" y="73" text-anchor="middle">39.60 ns</text>
<text class="t" x="268.9" y="73" text-anchor="middle">83.60 ns</text>
<text class="t" x="32.6" y="252.5" text-anchor="middle">132.00 ns</text>
<text class="t" x="94.5" y="252.5" text-anchor="middle">204.00 ns</text>
<text class="t" x="151.8" y="252.5" text-anchor="middle">348.00 ns</text>
<text class="t" x="213.4" y="252.5" text-anchor="middle">492.00 ns</text>
<text class="t" x="270.4" y="252.5" text-anchor="middle">564.00 ns</text>
<text class="t" x="329.7" y="252.5" text-anchor="middle">852.00 ns</text>
<text class="t" x="70.8" y="93" text-anchor="end">Chirality:</text>
<text class="t" x="73" y="93" text-anchor="start">(6,5)</text>
<text class="t" x="70.8" y="105.9" text-anchor="end">Temperature:</text>
<text class="t" x="73" y="105.9" text-anchor="start">1300 K</text>
<text class="t" x="70.8" y="118.2" text-anchor="end">Supply rate:</text>
<text class="t" x="73" y="118.2" text-anchor="start">1 C per 2 ns</text>
<text class="t" x="61" y="138.5" text-anchor="middle">2.5 nm</text>
<g stroke="#111" stroke-width=".8">
<rect x="14.4" y="143.2" width="18.68" height="3.6" fill="#111"/>
<rect x="33.08" y="143.2" width="18.68" height="3.6" fill="#fff"/>
<rect x="51.76" y="143.2" width="18.68" height="3.6" fill="#111"/>
<rect x="70.44" y="143.2" width="18.68" height="3.6" fill="#fff"/>
<rect x="89.12" y="143.2" width="18.68" height="3.6" fill="#111"/>
</g>
<g id="pd">
<g fill="none" stroke="#797e82" stroke-linecap="round" stroke-linejoin="round"><path d="M423.6 103.9L426.9 103.7M423.6 103.9L422.7 99.4M423.6 94.5L426.8 94.3M423.6 94.5L422.7 99.4M423.6 94.5L422.8 89.9M429 98.9L434 98.8M429 98.9L426.9 103.7M429 98.9L426.8 94.3M436.9 103.4L442.2 103.3M436.9 103.4L434 98.8M423.7 85.1L426.7 84.9M423.7 85.1L422.8 89.9M423.7 85.1L422.9 80.5M428.8 89.5L433.8 89.4M428.8 89.5L426.8 94.3M428.8 89.5L426.7 84.9M436.6 94L442 93.9M436.6 94L434 98.8M436.6 94L433.8 89.4M444.5 98.5L448.6 98.3M444.5 98.5L442.2 103.3M444.5 98.5L442 93.9M450.1 102.9L448.6 98.3M423.7 75.7L426.6 75.5M423.7 75.7L422.9 80.5M423.7 75.7L423.1 71.1M428.7 80.1L433.6 79.9M428.7 80.1L426.7 84.9M428.7 80.1L426.6 75.5M436.4 84.6L441.8 84.4M436.4 84.6L433.8 89.4M436.4 84.6L433.6 79.9M444.4 89.1L448.5 88.9M444.4 89.1L442 93.9M444.4 89.1L441.8 84.4M450.1 93.5L451.8 93.3M450.1 93.5L448.6 98.3M450.1 93.5L448.5 88.9M423.8 66.2L426.5 66M423.8 66.2L423.1 71.1M423.8 66.2L423.2 61.6M428.5 70.6L433.4 70.5M428.5 70.6L426.6 75.5M428.5 70.6L426.5 66M436.1 75.1L441.5 75M436.1 75.1L433.6 79.9M436.1 75.1L433.4 70.5M444.2 79.6L448.5 79.5M444.2 79.6L441.8 84.4M444.2 79.6L441.5 75M450.1 84.1L451.9 83.8M450.1 84.1L448.5 88.9M450.1 84.1L448.5 79.5M423.9 56.8L426.5 56.6M423.9 56.8L423.2 61.6M423.9 56.8L423.4 52.2M428.4 61.2L433.1 61M428.4 61.2L426.5 66M428.4 61.2L426.5 56.6M435.9 65.7L441.3 65.6M435.9 65.7L433.4 70.5M435.9 65.7L433.1 61M444 70.2L448.4 70M444 70.2L441.5 75M444 70.2L441.3 65.6M450.1 74.6L452.1 74.4M450.1 74.6L448.5 79.5M450.1 74.6L448.4 70M424 47.4L426.4 47.2M424 47.4L423.4 52.2M428.3 51.8L432.9 51.6M428.3 51.8L426.5 56.6M428.3 51.8L426.4 47.2M435.7 56.3L441.1 56.1M435.7 56.3L433.1 61M435.7 56.3L432.9 51.6M443.8 60.8L448.3 60.6M443.8 60.8L441.3 65.6M443.8 60.8L441.1 56.1M450.1 65.2L452.2 65M450.1 65.2L448.4 70M450.1 65.2L448.3 60.6M424.1 38L426.4 37.7M428.2 42.3L432.7 42.2M428.2 42.3L426.4 47.2M428.2 42.3L426.4 37.7M435.4 46.8L440.8 46.7M435.4 46.8L432.9 51.6M435.4 46.8L432.7 42.2M443.6 51.3L448.2 51.2M443.6 51.3L441.1 56.1M443.6 51.3L440.8 46.7M450 55.8L452.4 55.6M450 55.8L448.3 60.6M450 55.8L448.2 51.2M424.3 28.5L426.3 28.3M428.1 32.9L432.5 32.7M428.1 32.9L426.4 37.7M428.1 32.9L426.3 28.3M435.2 37.4L440.6 37.2M435.2 37.4L432.7 42.2M435.2 37.4L432.5 32.7M443.3 41.9L448 41.7M443.3 41.9L440.8 46.7M443.3 41.9L440.6 37.2M450 46.3L452.5 46.1M450 46.3L448.2 51.2M450 46.3L448 41.7M424.4 19.5L426.3 19.1M428 23.5L432.3 23.3M428 23.5L426.3 28.3M428 23.5L426.3 19.1M434.9 27.9L440.3 27.8M434.9 27.9L432.5 32.7M434.9 27.9L432.3 23.3M443.1 32.5L447.9 32.3M443.1 32.5L440.6 37.2M443.1 32.5L440.3 27.8M449.9 36.9L452.6 36.7M449.9 36.9L448 41.7M449.9 36.9L447.9 32.3M453.1 41.3L452.5 46.1M453.1 41.3L452.6 36.7M428.2 15L432.3 14.4M428.2 15L426.3 19.1M428.2 15L427.5 12.3M434.7 18.6L440.1 18.4M434.7 18.6L432.3 23.3M434.7 18.6L432.3 14.4M442.9 23L447.8 22.9M442.9 23L440.3 27.8M442.9 23L440.1 18.4M449.8 27.5L452.7 27.3M449.8 27.5L447.9 32.3M449.8 27.5L447.8 22.9M453.3 31.9L452.6 36.7M453.3 31.9L452.7 27.3M429.9 9.4L433.3 8.2M429.9 9.4L427.5 12.3M434.9 10.4L439.8 10.2M434.9 10.4L432.3 14.4M434.9 10.4L433.3 8.2M442.5 13.9L447.2 14.2M442.5 13.9L440.1 18.4M442.5 13.9L439.8 10.2M449.7 18.4L452.6 18.6M449.7 18.4L447.8 22.9M449.7 18.4L447.2 14.2M453.5 22.4L452.7 27.3M453.5 22.4L452.6 18.6M435.7 6.5L439.4 6.2M435.7 6.5L433.3 8.2M441.7 7.6L445.6 8.3M441.7 7.6L439.8 10.2M441.7 7.6L439.4 6.2M448.3 11.1L450.9 12.3M448.3 11.1L447.2 14.2M448.3 11.1L445.6 8.3M452.7 15.6L452.6 18.6M452.7 15.6L450.9 12.3M424.7 99.4L423.2 103.9M424.7 99.4L423.6 94.5M425.2 90L423.6 94.5M425.2 90L424.1 85.1M422.9 75.4L424.5 75.7M450.8 101.8L450 96.9M423.2 65.9L425 66.3M451.2 92.4L450 96.9M451.2 92.4L450.4 87.5M423.5 56.5L425.5 56.9M451.6 83L450.4 87.5M451.6 83L450.9 78.1M423.9 47.1L426.1 47.4M452 73.5L450.9 78.1M452 73.5L451.4 68.7M424.3 37.7L426.6 38M452.4 64.1L451.4 68.7M452.4 64.1L451.8 59.3M424.6 28.3L424.2 23.4M452.7 54.7L451.8 59.3M452.7 54.7L452.2 49.8M425.1 19.2L424.2 23.4M453 45.3L452.2 49.8M453 45.3L452.6 40.4M426.8 12.8L429.2 11.9M450.6 30.6L453 31M453.3 35.9L452.6 40.4M453.3 35.9L453 31M432 8.8L436 8.3M432 8.8L429.2 11.9M451.2 21.2L453.4 21.6M438.6 6.5L442.6 6.9M438.6 6.5L436 8.3M444.9 9.2L448.5 10.4M444.9 9.2L442.6 6.9M450.8 13.8L448.5 10.4" stroke-width="1.75"/><path d="M422.7 99.4h0M423.6 103.9h0M426.9 103.7h0M422.8 89.9h0M423.6 94.5h0M426.8 94.3h0M429 98.9h0M434 98.8h0M436.9 103.4h0M442.2 103.3h0M422.9 80.5h0M423.7 85.1h0M426.7 84.9h0M428.8 89.5h0M433.8 89.4h0M436.6 94h0M442 93.9h0M444.5 98.5h0M448.6 98.3h0M450.1 102.9h0M423.1 71.1h0M423.7 75.7h0M426.6 75.5h0M428.7 80.1h0M433.6 79.9h0M436.4 84.6h0M441.8 84.4h0M444.4 89.1h0M448.5 88.9h0M450.1 93.5h0M451.8 93.3h0M423.2 61.6h0M423.8 66.2h0M426.5 66h0M428.5 70.6h0M433.4 70.5h0M436.1 75.1h0M441.5 75h0M444.2 79.6h0M448.5 79.5h0M450.1 84.1h0M451.9 83.8h0M423.4 52.2h0M423.9 56.8h0M426.5 56.6h0M428.4 61.2h0M433.1 61h0M435.9 65.7h0M441.3 65.6h0M444 70.2h0M448.4 70h0M450.1 74.6h0M452.1 74.4h0M424 47.4h0M426.4 47.2h0M428.3 51.8h0M432.9 51.6h0M435.7 56.3h0M441.1 56.1h0M443.8 60.8h0M448.3 60.6h0M450.1 65.2h0M452.2 65h0M424.1 38h0M426.4 37.7h0M428.2 42.3h0M432.7 42.2h0M435.4 46.8h0M440.8 46.7h0M443.6 51.3h0M448.2 51.2h0M450 55.8h0M452.4 55.6h0M424.3 28.5h0M426.3 28.3h0M428.1 32.9h0M432.5 32.7h0M435.2 37.4h0M440.6 37.2h0M443.3 41.9h0M448 41.7h0M450 46.3h0M452.5 46.1h0M424.4 19.5h0M426.3 19.1h0M428 23.5h0M432.3 23.3h0M434.9 27.9h0M440.3 27.8h0M443.1 32.5h0M447.9 32.3h0M449.9 36.9h0M452.6 36.7h0M453.1 41.3h0M427.5 12.3h0M428.2 15h0M432.3 14.4h0M434.7 18.6h0M440.1 18.4h0M442.9 23h0M447.8 22.9h0M449.8 27.5h0M452.7 27.3h0M453.3 31.9h0M429.9 9.4h0M433.3 8.2h0M434.9 10.4h0M439.8 10.2h0M442.5 13.9h0M447.2 14.2h0M449.7 18.4h0M452.6 18.6h0M453.5 22.4h0M435.7 6.5h0M439.4 6.2h0M441.7 7.6h0M445.6 8.3h0M448.3 11.1h0M450.9 12.3h0M452.7 15.6h0M423.2 103.9h0M423.6 94.5h0M424.7 99.4h0M424.1 85.1h0M425.2 90h0M422.9 75.4h0M424.5 75.7h0M450 96.9h0M450.8 101.8h0M423.2 65.9h0M425 66.3h0M450.4 87.5h0M451.2 92.4h0M423.5 56.5h0M425.5 56.9h0M450.9 78.1h0M451.6 83h0M423.9 47.1h0M426.1 47.4h0M451.4 68.7h0M452 73.5h0M424.3 37.7h0M426.6 38h0M451.8 59.3h0M452.4 64.1h0M424.2 23.4h0M424.6 28.3h0M452.2 49.8h0M452.7 54.7h0M425.1 19.2h0M452.6 40.4h0M453 45.3h0M426.8 12.8h0M429.2 11.9h0M450.6 30.6h0M453 31h0M453.3 35.9h0M432 8.8h0M436 8.3h0M451.2 21.2h0M453.4 21.6h0M438.6 6.5h0M442.6 6.9h0M444.9 9.2h0M448.5 10.4h0M450.8 13.8h0" stroke-width="3.8"/></g>
<ellipse cx="438.1" cy="117.7" rx="18.1" ry="16.8" fill="#c9521f"/><g fill="url(#o)" stroke="#7a3011" stroke-width=".6"><circle cx="447.2" cy="128.2" r="4.3"/><circle cx="448.1" cy="103.9" r="4.3"/><circle cx="429.1" cy="101.6" r="4.3"/><circle cx="435.8" cy="129.9" r="4.3"/><circle cx="420.1" cy="117.2" r="4.3"/><circle cx="456" cy="114" r="4.3"/><circle cx="443.6" cy="101" r="4.3"/><circle cx="428.9" cy="114.3" r="4.3"/><circle cx="447.3" cy="133" r="4.3"/><circle cx="453.7" cy="122.3" r="4.3"/><circle cx="430.4" cy="134.4" r="4.3"/><circle cx="436.4" cy="116" r="4.3"/><circle cx="443.2" cy="124.8" r="4.3"/><circle cx="420.2" cy="121.5" r="4.3"/><circle cx="420.8" cy="111.7" r="4.3"/><circle cx="453.4" cy="115.5" r="4.3"/><circle cx="426" cy="105" r="4.3"/><circle cx="434.9" cy="102.9" r="4.3"/><circle cx="447.7" cy="109.2" r="4.3"/><circle cx="434.4" cy="126.9" r="4.3"/><circle cx="440.6" cy="132.6" r="4.3"/><circle cx="425.1" cy="127.7" r="4.3"/><circle cx="427.4" cy="117" r="4.3"/><circle cx="440.3" cy="109.5" r="4.3"/></g><g fill="url(#gy)" stroke="#5d6266" stroke-width=".35"><circle cx="417.4" cy="119.6" r="1.9"/><circle cx="455.3" cy="108.4" r="1.9"/><circle cx="453.4" cy="105.9" r="1.9"/><circle cx="449.9" cy="112.8" r="1.9"/><circle cx="430.2" cy="120.3" r="1.9"/><circle cx="427.8" cy="122.2" r="1.9"/><circle cx="433.3" cy="132.9" r="1.9"/><circle cx="433" cy="136" r="1.9"/><circle cx="445.6" cy="106.1" r="1.9"/><circle cx="446.3" cy="109.1" r="1.9"/><circle cx="438.4" cy="135.5" r="1.9"/><circle cx="435.6" cy="136.8" r="1.9"/><circle cx="432.2" cy="99" r="1.9"/><circle cx="431.5" cy="102.1" r="1.9"/><circle cx="425.6" cy="109.7" r="1.9"/><circle cx="426.3" cy="106.7" r="1.9"/></g><g fill="url(#o)" stroke="#7a3011" stroke-width=".6"><circle cx="447.2" cy="117.4" r="4.3"/><circle cx="431.1" cy="109.9" r="4.3"/><circle cx="439.2" cy="117.9" r="4.3"/></g><g fill="url(#o)" stroke="#7a3011" stroke-width=".6"><circle cx="434.6" cy="104" r="4.3"/><circle cx="440.1" cy="102" r="4.3"/><circle cx="445.6" cy="104.5" r="4.3"/></g>
<path d="M440 102.6L436.6 100.8L437.3 97.2L441.2 96.8L442.8 100.1ZM440 102.6l0.3 2.3M436.6 100.8l-2.2 1M437.3 97.2l-1.6 -1.7M441.2 96.8l1.2 -2M442.8 100.1l2.4 0.4" fill="none" stroke="#1f72b8" stroke-width="1.9" stroke-linejoin="round" stroke-linecap="round"/>
<g fill="none" stroke="#797e82" stroke-linecap="round" stroke-linejoin="round"><path d="M479.6 103.7L483 103.4M479.6 103.7L478.5 99.1M479.4 94.2L482.7 94M479.4 94.2L478.5 99.1M479.4 94.2L478.4 89.7M485 98.6L490.1 98.3M485 98.6L483 103.4M485 98.6L482.7 94M493 102.9L498.3 102.7M493 102.9L490.1 98.3M479.3 84.8L482.4 84.6M479.3 84.8L478.4 89.7M479.3 84.8L478.4 80.2M484.7 89.1L489.7 88.9M484.7 89.1L482.7 94M484.7 89.1L482.4 84.6M492.6 93.5L497.9 93.3M492.6 93.5L490.1 98.3M492.6 93.5L489.7 88.9M500.5 97.9L504.5 97.6M500.5 97.9L498.3 102.7M500.5 97.9L497.9 93.3M506 102.2L504.5 97.6M479.2 75.4L482.1 75.1M479.2 75.4L478.4 80.2M479.2 75.4L478.4 70.8M484.3 79.7L489.3 79.5M484.3 79.7L482.4 84.6M484.3 79.7L482.1 75.1M492.2 84.1L497.5 83.8M492.2 84.1L489.7 88.9M492.2 84.1L489.3 79.5M500.2 88.4L504.3 88.2M500.2 88.4L497.9 93.3M500.2 88.4L497.5 83.8M505.9 92.8L507.4 92.5M505.9 92.8L504.5 97.6M505.9 92.8L504.3 88.2M479.1 66L481.9 65.7M479.1 66L478.4 70.8M479.1 66L478.4 61.4M484 70.3L488.9 70M484 70.3L482.1 75.1M484 70.3L481.9 65.7M491.8 74.6L497.1 74.4M491.8 74.6L489.3 79.5M491.8 74.6L488.9 70M499.8 79L504.1 78.8M499.8 79L497.5 83.8M499.8 79L497.1 74.4M505.7 83.3L507.4 83.1M505.7 83.3L504.3 88.2M505.7 83.3L504.1 78.8M479 56.5L481.6 56.3M479 56.5L478.4 61.4M479 56.5L478.4 52M483.7 60.9L488.5 60.6M483.7 60.9L481.9 65.7M483.7 60.9L481.6 56.3M491.4 65.2L496.8 65M491.4 65.2L488.9 70M491.4 65.2L488.5 60.6M499.5 69.6L503.8 69.3M499.5 69.6L497.1 74.4M499.5 69.6L496.8 65M505.5 73.9L507.4 73.6M505.5 73.9L504.1 78.8M505.5 73.9L503.8 69.3M478.9 47.1L481.4 46.8M478.9 47.1L478.4 52M483.4 51.4L488.1 51.2M483.4 51.4L481.6 56.3M483.4 51.4L481.4 46.8M490.9 55.8L496.4 55.5M490.9 55.8L488.5 60.6M490.9 55.8L488.1 51.2M499.1 60.1L503.6 59.9M499.1 60.1L496.8 65M499.1 60.1L496.4 55.5M505.4 64.5L507.4 64.2M505.4 64.5L503.8 69.3M505.4 64.5L503.6 59.9M478.9 37.7L481.2 37.4M483.1 42L487.7 41.8M483.1 42L481.4 46.8M483.1 42L481.2 37.4M490.5 46.4L496 46.1M490.5 46.4L488.1 51.2M490.5 46.4L487.7 41.8M498.7 50.7L503.3 50.5M498.7 50.7L496.4 55.5M498.7 50.7L496 46.1M505.2 55.1L507.4 54.8M505.2 55.1L503.6 59.9M505.2 55.1L503.3 50.5M478.8 28.3L481 28M482.9 32.6L487.4 32.3M482.9 32.6L481.2 37.4M482.9 32.6L481 28M490.1 36.9L495.5 36.7M490.1 36.9L487.7 41.8M490.1 36.9L487.4 32.3M498.4 41.3L503 41M498.4 41.3L496 46.1M498.4 41.3L495.5 36.7M505 45.6L507.4 45.4M505 45.6L503.3 50.5M505 45.6L503 41M478.9 19.4L480.9 18.9M482.6 23.1L487 22.9M482.6 23.1L481 28M482.6 23.1L480.9 18.9M489.7 27.5L495.1 27.3M489.7 27.5L487.4 32.3M489.7 27.5L487 22.9M498 31.8L502.7 31.6M498 31.8L495.5 36.7M498 31.8L495.1 27.3M504.7 36.2L507.3 35.9M504.7 36.2L503 41M504.7 36.2L502.7 31.6M507.9 40.5L507.4 45.4M507.9 40.5L507.3 35.9M482.8 14.8L486.9 14M482.8 14.8L480.9 18.9M482.8 14.8L482 12.1M489.4 18.1L494.7 17.8M489.4 18.1L487 22.9M489.4 18.1L486.9 14M497.6 22.4L502.4 22.2M497.6 22.4L495.1 27.3M497.6 22.4L494.7 17.8M504.5 26.8L507.2 26.5M504.5 26.8L502.7 31.6M504.5 26.8L502.4 22.2M507.9 31.1L507.3 35.9M507.9 31.1L507.2 26.5M484.4 9.3L487.7 8M484.4 9.3L482 12.1M489.4 10.1L494.2 9.8M489.4 10.1L486.9 14M489.4 10.1L487.7 8M497 13.4L501.6 13.7M497 13.4L494.7 17.8M497 13.4L494.2 9.8M504.2 17.8L507 18M504.2 17.8L502.4 22.2M504.2 17.8L501.6 13.7M507.9 21.7L507.2 26.5M507.9 21.7L507 18M496.1 7.3L499.9 8M496.1 7.3L494.2 9.8M502.6 10.7L505.1 11.9M502.6 10.7L501.6 13.7M502.6 10.7L499.9 8M480.2 98.5L478.8 103.1M480.2 98.5L479.1 93.7M480.5 89.1L479.1 93.7M480.5 89.1L479.4 84.2M478.1 74.5L479.7 74.8M480.9 79.7L479.4 84.2M480.9 79.7L479.7 74.8M506.5 100.5L505.4 95.6M478.3 65.1L480 65.4M506.7 91.1L505.4 95.6M506.7 91.1L505.8 86.2M478.4 55.7L480.3 56M506.9 81.6L505.8 86.2M506.9 81.6L506.1 76.8M478.6 46.2L480.6 46.5M507.2 72.2L506.1 76.8M507.2 72.2L506.4 67.3M478.8 36.8L481 37.1M507.4 62.8L506.4 67.3M507.4 62.8L506.6 57.9M479 27.4L481.4 27.7M479 27.4L478.6 22.5M507.6 53.3L506.6 57.9M507.6 53.3L506.9 48.5M479.3 18.7L478.6 22.5M507.7 43.9L506.9 48.5M507.7 43.9L507.2 39.1M507.9 34.5L507.2 39.1M507.9 34.5L507.4 29.6M486.1 8.5L489.9 7.9M486.1 8.5L483.3 11.4M505.3 20L507.6 20.4M492.4 6.2L496.2 6.5M492.4 6.2L489.9 7.9M498.6 8.4L502.2 9.6M498.6 8.4L496.2 6.5M504.6 12.8L502.2 9.6" stroke-width="1.75"/><path d="M478.5 99.1h0M479.6 103.7h0M483 103.4h0M478.4 89.7h0M479.4 94.2h0M482.7 94h0M485 98.6h0M490.1 98.3h0M493 102.9h0M498.3 102.7h0M478.4 80.2h0M479.3 84.8h0M482.4 84.6h0M484.7 89.1h0M489.7 88.9h0M492.6 93.5h0M497.9 93.3h0M500.5 97.9h0M504.5 97.6h0M506 102.2h0M478.4 70.8h0M479.2 75.4h0M482.1 75.1h0M484.3 79.7h0M489.3 79.5h0M492.2 84.1h0M497.5 83.8h0M500.2 88.4h0M504.3 88.2h0M505.9 92.8h0M507.4 92.5h0M478.4 61.4h0M479.1 66h0M481.9 65.7h0M484 70.3h0M488.9 70h0M491.8 74.6h0M497.1 74.4h0M499.8 79h0M504.1 78.8h0M505.7 83.3h0M507.4 83.1h0M478.4 52h0M479 56.5h0M481.6 56.3h0M483.7 60.9h0M488.5 60.6h0M491.4 65.2h0M496.8 65h0M499.5 69.6h0M503.8 69.3h0M505.5 73.9h0M507.4 73.6h0M478.9 47.1h0M481.4 46.8h0M483.4 51.4h0M488.1 51.2h0M490.9 55.8h0M496.4 55.5h0M499.1 60.1h0M503.6 59.9h0M505.4 64.5h0M507.4 64.2h0M478.9 37.7h0M481.2 37.4h0M483.1 42h0M487.7 41.8h0M490.5 46.4h0M496 46.1h0M498.7 50.7h0M503.3 50.5h0M505.2 55.1h0M507.4 54.8h0M478.8 28.3h0M481 28h0M482.9 32.6h0M487.4 32.3h0M490.1 36.9h0M495.5 36.7h0M498.4 41.3h0M503 41h0M505 45.6h0M507.4 45.4h0M478.9 19.4h0M480.9 18.9h0M482.6 23.1h0M487 22.9h0M489.7 27.5h0M495.1 27.3h0M498 31.8h0M502.7 31.6h0M504.7 36.2h0M507.3 35.9h0M507.9 40.5h0M482 12.1h0M482.8 14.8h0M486.9 14h0M489.4 18.1h0M494.7 17.8h0M497.6 22.4h0M502.4 22.2h0M504.5 26.8h0M507.2 26.5h0M507.9 31.1h0M484.4 9.3h0M487.7 8h0M489.4 10.1h0M494.2 9.8h0M497 13.4h0M501.6 13.7h0M504.2 17.8h0M507 18h0M507.9 21.7h0M496.1 7.3h0M499.9 8h0M502.6 10.7h0M505.1 11.9h0M478.8 103.1h0M479.1 93.7h0M480.2 98.5h0M479.4 84.2h0M480.5 89.1h0M478.1 74.5h0M479.7 74.8h0M480.9 79.7h0M505.4 95.6h0M506.5 100.5h0M478.3 65.1h0M480 65.4h0M505.8 86.2h0M506.7 91.1h0M478.4 55.7h0M480.3 56h0M506.1 76.8h0M506.9 81.6h0M478.6 46.2h0M480.6 46.5h0M506.4 67.3h0M507.2 72.2h0M478.8 36.8h0M481 37.1h0M506.6 57.9h0M507.4 62.8h0M478.6 22.5h0M479 27.4h0M481.4 27.7h0M506.9 48.5h0M507.6 53.3h0M479.3 18.7h0M507.2 39.1h0M507.7 43.9h0M483.3 11.4h0M507.4 29.6h0M507.9 34.5h0M486.1 8.5h0M489.9 7.9h0M505.3 20h0M507.6 20.4h0M492.4 6.2h0M496.2 6.5h0M498.6 8.4h0M502.2 9.6h0M504.6 12.8h0" stroke-width="3.8"/></g>
<ellipse cx="497.4" cy="117.5" rx="15.9" ry="17" fill="#c9521f"/><g fill="url(#o)" stroke="#7a3011" stroke-width=".6"><circle cx="511.6" cy="124.2" r="4.3"/><circle cx="483" cy="125.9" r="4.3"/><circle cx="494.8" cy="105.5" r="4.3"/><circle cx="504" cy="110.7" r="4.3"/><circle cx="483.1" cy="107.8" r="4.3"/><circle cx="513.1" cy="127" r="4.3"/><circle cx="484.2" cy="117.8" r="4.3"/><circle cx="504.9" cy="131" r="4.3"/><circle cx="504.1" cy="100.6" r="4.3"/><circle cx="495.7" cy="134.4" r="4.3"/><circle cx="506.4" cy="119.2" r="4.3"/><circle cx="510.5" cy="107.6" r="4.3"/><circle cx="492" cy="102.6" r="4.3"/><circle cx="489.4" cy="127.8" r="4.3"/><circle cx="481.6" cy="121.9" r="4.3"/><circle cx="509" cy="127.9" r="4.3"/><circle cx="487.6" cy="108.9" r="4.3"/><circle cx="500.1" cy="126" r="4.3"/><circle cx="488.9" cy="117.8" r="4.3"/><circle cx="501.8" cy="106.3" r="4.3"/><circle cx="512.2" cy="115.4" r="4.3"/></g><g fill="url(#gy)" stroke="#5d6266" stroke-width=".35"><circle cx="486.7" cy="102.4" r="1.9"/><circle cx="485.6" cy="105.3" r="1.9"/><circle cx="496.4" cy="107" r="1.9"/><circle cx="491.2" cy="122.6" r="1.9"/><circle cx="502" cy="120" r="1.9"/><circle cx="501.5" cy="123" r="1.9"/><circle cx="507.3" cy="109.3" r="1.9"/><circle cx="509.8" cy="111.2" r="1.9"/><circle cx="494.1" cy="116.3" r="1.9"/><circle cx="494" cy="119.4" r="1.9"/><circle cx="488.4" cy="134.1" r="1.9"/><circle cx="492.7" cy="136.7" r="1.9"/><circle cx="513" cy="119.4" r="1.9"/><circle cx="514.9" cy="116.9" r="1.9"/><circle cx="501.5" cy="135.9" r="1.9"/></g><g fill="url(#o)" stroke="#7a3011" stroke-width=".6"><circle cx="504.3" cy="117.4" r="4.3"/><circle cx="496.3" cy="122.7" r="4.3"/><circle cx="495.7" cy="113.3" r="4.3"/></g><g fill="url(#o)" stroke="#7a3011" stroke-width=".6"><circle cx="487.7" cy="104.5" r="4.3"/><circle cx="493.2" cy="102.5" r="4.3"/><circle cx="498.7" cy="105" r="4.3"/></g>
<path d="M492.1 103.1L489.4 100.4L491.3 97.2L495.1 97.8L495.6 101.5ZM492.1 103.1l-0.4 2.2M489.4 100.4l-2.4 0.3M491.3 97.2l-1.1 -2M495.1 97.8l1.7 -1.6M495.6 101.5l2.1 1.1" fill="none" stroke="#1f72b8" stroke-width="1.9" stroke-linejoin="round" stroke-linecap="round"/>
<g fill="none" stroke="#797e82" stroke-linecap="round" stroke-linejoin="round"><path d="M539.7 102.2L543.7 101.7M539.7 102.2L537.9 97.7M539 92.8L542.9 92.3M539 92.8L537.9 97.7M539 92.8L537.3 88.3M545.8 96.8L551 96.3M545.8 96.8L543.7 101.7M545.8 96.8L542.9 92.3M554.2 100.7L559.2 100.2M554.2 100.7L551 96.3M538.3 83.4L542.1 82.9M538.3 83.4L537.3 88.3M538.3 83.4L536.7 78.9M544.9 87.4L550.1 86.9M544.9 87.4L542.9 92.3M544.9 87.4L542.1 82.9M553.3 91.3L558.4 90.8M553.3 91.3L551 96.3M553.3 91.3L550.1 86.9M561 95.3L564.3 94.8M561 95.3L559.2 100.2M561 95.3L558.4 90.8M565.6 99.4L564.3 94.8M537.6 74L541.3 73.5M537.6 74L536.7 78.9M537.6 74L536.1 69.5M544 78L549.2 77.5M544 78L542.1 82.9M544 78L541.3 73.5M552.4 81.9L557.5 81.4M552.4 81.9L550.1 86.9M552.4 81.9L549.2 77.5M560.2 85.9L563.6 85.4M560.2 85.9L558.4 90.8M560.2 85.9L557.5 81.4M565 90L564.3 94.8M565 90L563.6 85.4M537 64.6L540.5 64.1M537 64.6L536.1 69.5M537 64.6L535.5 60.1M543.2 68.6L548.3 68.1M543.2 68.6L541.3 73.5M543.2 68.6L540.5 64.1M551.5 72.5L556.7 72M551.5 72.5L549.2 77.5M551.5 72.5L548.3 68.1M559.4 76.5L563 76M559.4 76.5L557.5 81.4M559.4 76.5L556.7 72M564.4 80.5L563.6 85.4M564.4 80.5L563 76M536.3 55.2L539.7 54.7M536.3 55.2L535.5 60.1M536.3 55.2L535 50.7M542.3 59.2L547.4 58.7M542.3 59.2L540.5 64.1M542.3 59.2L539.7 54.7M550.6 63.1L555.8 62.6M550.6 63.1L548.3 68.1M550.6 63.1L547.4 58.7M558.6 67.1L562.3 66.6M558.6 67.1L556.7 72M558.6 67.1L555.8 62.6M563.8 71.1L563 76M563.8 71.1L562.3 66.6M535.7 45.8L538.9 45.3M535.7 45.8L535 50.7M535.7 45.8L534.4 41.2M541.5 49.8L546.5 49.3M541.5 49.8L539.7 54.7M541.5 49.8L538.9 45.3M549.7 53.7L555 53.2M549.7 53.7L547.4 58.7M549.7 53.7L546.5 49.3M557.8 57.7L561.6 57.2M557.8 57.7L555.8 62.6M557.8 57.7L555 53.2M563.2 61.7L562.3 66.6M563.2 61.7L561.6 57.2M535.1 36.4L538.1 35.9M535.1 36.4L534.4 41.2M535.1 36.4L533.9 31.8M540.7 40.4L545.6 39.9M540.7 40.4L538.9 45.3M540.7 40.4L538.1 35.9M548.8 44.3L554.1 43.8M548.8 44.3L546.5 49.3M548.8 44.3L545.6 39.9M556.9 48.3L560.9 47.8M556.9 48.3L555 53.2M556.9 48.3L554.1 43.8M562.6 52.3L561.6 57.2M562.6 52.3L560.9 47.8M534.5 27L537.4 26.5M534.5 27L533.9 31.8M534.5 27L533.4 22.4M539.8 31L544.7 30.5M539.8 31L538.1 35.9M539.8 31L537.4 26.5M547.9 34.9L553.2 34.4M547.9 34.9L545.6 39.9M547.9 34.9L544.7 30.5M556.1 38.9L560.2 38.4M556.1 38.9L554.1 43.8M556.1 38.9L553.2 34.4M562 42.9L563.5 42.6M562 42.9L560.9 47.8M562 42.9L560.2 38.4M534.1 18.5L536.8 17.7M534.1 18.5L533.4 22.4M539 21.6L543.9 21.1M539 21.6L537.4 26.5M539 21.6L536.8 17.7M547 25.5L552.3 25M547 25.5L544.7 30.5M547 25.5L543.9 21.1M555.3 29.5L559.5 29M555.3 29.5L553.2 34.4M555.3 29.5L552.3 25M561.4 33.5L563.1 33.1M561.4 33.5L560.2 38.4M561.4 33.5L559.5 29M538.9 13.4L543.3 12.5M538.9 13.4L536.8 17.7M538.9 13.4L537.7 11.1M546.1 16.2L551.4 15.8M546.1 16.2L543.9 21.1M546.1 16.2L543.3 12.5M554.4 20.1L558.7 19.7M554.4 20.1L552.3 25M554.4 20.1L551.4 15.8M560.7 24.1L562.6 23.7M560.7 24.1L559.5 29M560.7 24.1L558.7 19.7M540.1 8.4L543.6 7.2M540.1 8.4L537.7 11.1M545.6 8.9L550.2 8.6M545.6 8.9L543.3 12.5M545.6 8.9L543.6 7.2M553.2 11.7L557.2 12M553.2 11.7L551.4 15.8M553.2 11.7L550.2 8.6M559.8 15.7L561.7 16.1M559.8 15.7L558.7 19.7M559.8 15.7L557.2 12M551.4 6.8L550.2 8.6M557.4 9.8L557.2 12M536.7 97.3L538.8 97.4M536.4 87.8L538.7 88M536.1 78.4L538.5 78.6M536.1 78.4L535.4 73.6M566 102.8L565.1 98M535.9 69L535.4 73.6M535.9 69L535.1 64.2M565.7 93.4L565.1 98M565.7 93.4L564.9 88.6M535.6 59.6L535.1 64.2M535.6 59.6L534.8 54.7M565.3 84L564.9 88.6M565.3 84L564.6 79.2M535.4 50.1L534.8 54.7M535.4 50.1L534.4 45.3M562 69.6L564.3 69.7M535.1 40.7L534.4 45.3M535.1 40.7L534.1 35.9M561.9 60.1L564 60.3M534.9 31.3L534.1 35.9M534.9 31.3L533.9 26.5M561.7 50.7L563.7 50.9M534.7 21.9L533.9 26.5M534.7 21.9L533.9 18.2M561.6 41.3L563.4 41.5M535.5 14.5L533.9 18.2M561.4 31.8L563.1 32.1M541.3 10.1L540.4 8.4M561.2 22.4L559.7 18M548.1 7.1L552.3 7.5M554.9 10.2L558.3 11.3M554.9 10.2L552.3 7.5M560.5 14.8L559.7 18M560.5 14.8L558.3 11.3" stroke-width="1.75"/><path d="M537.9 97.7h0M539.7 102.2h0M543.7 101.7h0M537.3 88.3h0M539 92.8h0M542.9 92.3h0M545.8 96.8h0M551 96.3h0M554.2 100.7h0M559.2 100.2h0M536.7 78.9h0M538.3 83.4h0M542.1 82.9h0M544.9 87.4h0M550.1 86.9h0M553.3 91.3h0M558.4 90.8h0M561 95.3h0M564.3 94.8h0M565.6 99.4h0M536.1 69.5h0M537.6 74h0M541.3 73.5h0M544 78h0M549.2 77.5h0M552.4 81.9h0M557.5 81.4h0M560.2 85.9h0M563.6 85.4h0M565 90h0M535.5 60.1h0M537 64.6h0M540.5 64.1h0M543.2 68.6h0M548.3 68.1h0M551.5 72.5h0M556.7 72h0M559.4 76.5h0M563 76h0M564.4 80.5h0M535 50.7h0M536.3 55.2h0M539.7 54.7h0M542.3 59.2h0M547.4 58.7h0M550.6 63.1h0M555.8 62.6h0M558.6 67.1h0M562.3 66.6h0M563.8 71.1h0M534.4 41.2h0M535.7 45.8h0M538.9 45.3h0M541.5 49.8h0M546.5 49.3h0M549.7 53.7h0M555 53.2h0M557.8 57.7h0M561.6 57.2h0M563.2 61.7h0M533.9 31.8h0M535.1 36.4h0M538.1 35.9h0M540.7 40.4h0M545.6 39.9h0M548.8 44.3h0M554.1 43.8h0M556.9 48.3h0M560.9 47.8h0M562.6 52.3h0M533.4 22.4h0M534.5 27h0M537.4 26.5h0M539.8 31h0M544.7 30.5h0M547.9 34.9h0M553.2 34.4h0M556.1 38.9h0M560.2 38.4h0M562 42.9h0M563.5 42.6h0M534.1 18.5h0M536.8 17.7h0M539 21.6h0M543.9 21.1h0M547 25.5h0M552.3 25h0M555.3 29.5h0M559.5 29h0M561.4 33.5h0M563.1 33.1h0M537.7 11.1h0M538.9 13.4h0M543.3 12.5h0M546.1 16.2h0M551.4 15.8h0M554.4 20.1h0M558.7 19.7h0M560.7 24.1h0M562.6 23.7h0M540.1 8.4h0M543.6 7.2h0M545.6 8.9h0M550.2 8.6h0M553.2 11.7h0M557.2 12h0M559.8 15.7h0M561.7 16.1h0M551.4 6.8h0M557.4 9.8h0M536.7 97.3h0M538.8 97.4h0M536.4 87.8h0M538.7 88h0M535.4 73.6h0M536.1 78.4h0M538.5 78.6h0M565.1 98h0M566 102.8h0M535.1 64.2h0M535.9 69h0M564.9 88.6h0M565.7 93.4h0M534.8 54.7h0M535.6 59.6h0M564.6 79.2h0M565.3 84h0M534.4 45.3h0M535.4 50.1h0M562 69.6h0M564.3 69.7h0M534.1 35.9h0M535.1 40.7h0M561.9 60.1h0M564 60.3h0M533.9 26.5h0M534.9 31.3h0M561.7 50.7h0M563.7 50.9h0M533.9 18.2h0M534.7 21.9h0M561.6 41.3h0M563.4 41.5h0M535.5 14.5h0M561.4 31.8h0M563.1 32.1h0M540.4 8.4h0M541.3 10.1h0M559.7 18h0M561.2 22.4h0M548.1 7.1h0M552.3 7.5h0M554.9 10.2h0M558.3 11.3h0M560.5 14.8h0" stroke-width="3.8"/></g>
<ellipse cx="549.5" cy="116.3" rx="17.4" ry="14.1" fill="#c9521f"/><g fill="url(#o)" stroke="#7a3011" stroke-width=".6"><circle cx="537.4" cy="106.5" r="4.3"/><circle cx="561.1" cy="126.8" r="4.3"/><circle cx="541.1" cy="127.4" r="4.3"/><circle cx="555.4" cy="105.2" r="4.3"/><circle cx="563.9" cy="114.2" r="4.3"/><circle cx="532.1" cy="122.8" r="4.3"/><circle cx="553.5" cy="129.5" r="4.3"/><circle cx="542.6" cy="117.5" r="4.3"/><circle cx="563" cy="106.7" r="4.3"/><circle cx="555.2" cy="116.4" r="4.3"/><circle cx="542.5" cy="103.5" r="4.3"/><circle cx="540.2" cy="130.4" r="4.3"/><circle cx="566" cy="122.6" r="4.3"/><circle cx="549.6" cy="122.7" r="4.3"/><circle cx="551" cy="102.3" r="4.3"/><circle cx="536.5" cy="118.3" r="4.3"/><circle cx="556.7" cy="130.1" r="4.3"/><circle cx="566.8" cy="114.1" r="4.3"/><circle cx="535.1" cy="110.4" r="4.3"/><circle cx="558.8" cy="109.7" r="4.3"/><circle cx="546" cy="128.2" r="4.3"/><circle cx="536.9" cy="126" r="4.3"/><circle cx="546.3" cy="109.3" r="4.3"/><circle cx="558.3" cy="124.4" r="4.3"/><circle cx="561.7" cy="116.2" r="4.3"/></g><g fill="url(#gy)" stroke="#5d6266" stroke-width=".35"><circle cx="530.8" cy="115.7" r="1.9"/><circle cx="562.7" cy="126.8" r="1.9"/><circle cx="553" cy="124.8" r="1.9"/><circle cx="558.6" cy="113.9" r="1.9"/><circle cx="550" cy="105.4" r="1.9"/><circle cx="552.8" cy="104.1" r="1.9"/><circle cx="546.8" cy="113.9" r="1.9"/><circle cx="544.7" cy="111.6" r="1.9"/><circle cx="538.7" cy="101.9" r="1.9"/><circle cx="539.3" cy="104.9" r="1.9"/><circle cx="542.6" cy="125.2" r="1.9"/><circle cx="542.9" cy="128.3" r="1.9"/><circle cx="569.5" cy="116.6" r="1.9"/><circle cx="566.6" cy="117.4" r="1.9"/><circle cx="551.4" cy="119.2" r="1.9"/><circle cx="549.9" cy="121.9" r="1.9"/></g><g fill="url(#o)" stroke="#7a3011" stroke-width=".6"><circle cx="539.6" cy="114.5" r="4.3"/><circle cx="545" cy="120.9" r="4.3"/><circle cx="553.2" cy="114.5" r="4.3"/></g><g fill="url(#o)" stroke="#7a3011" stroke-width=".6"><circle cx="544.6" cy="104" r="4.3"/><circle cx="550.1" cy="102" r="4.3"/><circle cx="555.6" cy="104.5" r="4.3"/></g>
<path d="M548.1 102.3L546.3 99L549.1 96.4L552.5 98.1L551.9 101.7ZM548.1 102.3l-1.1 2M546.3 99l-2.4 -0.4M549.1 96.4l-0.4 -2.3M552.5 98.1l2.1 -1M551.9 101.7l1.7 1.6" fill="none" stroke="#1f72b8" stroke-width="1.9" stroke-linejoin="round" stroke-linecap="round"/>
<g fill="none" stroke="#797e82" stroke-linecap="round" stroke-linejoin="round"><path d="M591.3 101.8L595.3 101.6M591.3 101.8L589.8 97.2M591.1 92.4L595 92.1M591.1 92.4L589.8 97.2M591.1 92.4L589.7 87.8M597.5 96.7L602.8 96.5M597.5 96.7L595.3 101.6M597.5 96.7L595 92.1M605.8 101.1L610.8 100.9M605.8 101.1L602.8 96.5M590.9 83L594.6 82.7M590.9 83L589.7 87.8M590.9 83L589.6 78.4M597.2 87.3L602.4 87.1M597.2 87.3L595 92.1M597.2 87.3L594.6 82.7M605.4 91.7L610.5 91.4M605.4 91.7L602.8 96.5M605.4 91.7L602.4 87.1M612.9 96L616.2 95.8M612.9 96L610.8 100.9M612.9 96L610.5 91.4M617.3 100.3L616.2 95.8M590.7 73.5L594.3 73.3M590.7 73.5L589.6 78.4M590.7 73.5L589.5 69M596.8 77.9L602 77.6M596.8 77.9L594.6 82.7M596.8 77.9L594.3 73.3M604.9 82.2L610.1 82M604.9 82.2L602.4 87.1M604.9 82.2L602 77.6M612.6 86.6L616.1 86.3M612.6 86.6L610.5 91.4M612.6 86.6L610.1 82M617.3 90.9L616.2 95.8M617.3 90.9L616.1 86.3M590.6 64.1L594 63.9M590.6 64.1L589.5 69M590.6 64.1L589.4 59.5M596.4 68.4L601.6 68.2M596.4 68.4L594.3 73.3M596.4 68.4L594 63.9M604.5 72.8L609.8 72.6M604.5 72.8L602 77.6M604.5 72.8L601.6 68.2M612.3 77.2L615.9 76.9M612.3 77.2L610.1 82M612.3 77.2L609.8 72.6M617.2 81.5L616.1 86.3M617.2 81.5L615.9 76.9M590.4 54.7L593.7 54.4M590.4 54.7L589.4 59.5M590.4 54.7L589.3 50.1M596.1 59L601.2 58.8M596.1 59L594 63.9M596.1 59L593.7 54.4M604.1 63.4L609.4 63.1M604.1 63.4L601.6 68.2M604.1 63.4L601.2 58.8M611.9 67.7L615.7 67.5M611.9 67.7L609.8 72.6M611.9 67.7L609.4 63.1M617.1 72.1L615.9 76.9M617.1 72.1L615.7 67.5M590.3 45.3L593.5 45M590.3 45.3L589.3 50.1M590.3 45.3L589.3 40.7M595.8 49.6L600.8 49.3M595.8 49.6L593.7 54.4M595.8 49.6L593.5 45M603.7 53.9L609 53.7M603.7 53.9L601.2 58.8M603.7 53.9L600.8 49.3M611.6 58.3L615.5 58M611.6 58.3L609.4 63.1M611.6 58.3L609 53.7M617 62.6L615.7 67.5M617 62.6L615.5 58M590.1 35.8L593.2 35.6M590.1 35.8L589.3 40.7M590.1 35.8L589.3 31.2M595.4 40.2L600.4 39.9M595.4 40.2L593.5 45M595.4 40.2L593.2 35.6M603.3 44.5L608.6 44.3M603.3 44.5L600.8 49.3M603.3 44.5L600.4 39.9M611.3 48.9L615.3 48.6M611.3 48.9L609 53.7M611.3 48.9L608.6 44.3M616.8 53.2L615.5 58M616.8 53.2L615.3 48.6M590 26.4L592.9 26.1M590 26.4L589.3 31.2M590 26.4L589.3 21.8M595.1 30.7L600 30.5M595.1 30.7L593.2 35.6M595.1 30.7L592.9 26.1M602.9 35.1L608.3 34.8M602.9 35.1L600.4 39.9M602.9 35.1L600 30.5M610.9 39.4L615.1 39.2M610.9 39.4L608.6 44.3M610.9 39.4L608.3 34.8M616.7 43.8L618.3 43.5M616.7 43.8L615.3 48.6M616.7 43.8L615.1 39.2M590.1 17.9L592.8 17.2M590.1 17.9L589.3 21.8M594.8 21.3L599.6 21.1M594.8 21.3L592.9 26.1M594.8 21.3L592.8 17.2M602.5 25.6L607.9 25.4M602.5 25.6L600 30.5M602.5 25.6L599.6 21.1M610.6 30L614.8 29.8M610.6 30L608.3 34.8M610.6 30L607.9 25.4M616.5 34.3L618.3 34.1M616.5 34.3L615.1 39.2M616.5 34.3L614.8 29.8M595 13.1L599.5 12.3M595 13.1L592.8 17.2M595 13.1L594 10.6M602.1 16.3L607.4 16.1M602.1 16.3L599.6 21.1M602.1 16.3L599.5 12.3M610.2 20.6L614.6 20.4M610.2 20.6L607.9 25.4M610.2 20.6L607.4 16.1M616.4 24.9L618.3 24.6M616.4 24.9L614.8 29.8M616.4 24.9L614.6 20.4M596.5 8.1L600.1 7M596.5 8.1L594 10.6M602 8.8L606.6 8.8M602 8.8L599.5 12.3M602 8.8L600.1 7M609.4 12.1L613.5 12.6M609.4 12.1L607.4 16.1M609.4 12.1L606.6 8.8M615.9 16.4L617.9 16.9M615.9 16.4L614.6 20.4M615.9 16.4L613.5 12.6M608 7L606.6 8.8M613.9 10.3L613.5 12.6M588.6 102.8L590.5 103.1M588.7 93.4L590.9 93.7M588.9 84L591.2 84.3M589.2 74.5L588.7 69.7M617.7 100.5L617.1 95.6M589.4 65.1L588.7 69.7M589.4 65.1L588.8 60.2M617.8 91.1L617.1 95.6M617.8 91.1L617.3 86.2M589.6 55.7L588.8 60.2M589.6 55.7L589 50.8M618 81.6L617.3 86.2M618 81.6L617.5 76.8M589.9 46.3L589 50.8M589.9 46.3L589.2 41.4M615.5 67L617.8 67.4M590.2 36.8L589.2 41.4M590.2 36.8L589.4 32M615.9 57.6L618 57.9M590.4 27.4L589.4 32M590.4 27.4L589.6 22.5M616.2 48.2L618.1 48.5M590.8 18.5L589.6 22.5M590.8 18.5L590.5 15.2M616.5 38.8L618.3 39.1M592.6 11.9L595.5 11M592.6 11.9L590.5 15.2M616.9 29.4L618.4 29.7M598.4 8.1L602.5 7.7M598.4 8.1L595.5 11M617.1 20.1L615.6 16M604.8 6.2L608.5 6.9M604.8 6.2L602.5 7.7M611 8.9L614 10.3M611 8.9L608.5 6.9M616.2 13.4L615.6 16M616.2 13.4L614 10.3" stroke-width="1.75"/><path d="M589.8 97.2h0M591.3 101.8h0M595.3 101.6h0M589.7 87.8h0M591.1 92.4h0M595 92.1h0M597.5 96.7h0M602.8 96.5h0M605.8 101.1h0M610.8 100.9h0M589.6 78.4h0M590.9 83h0M594.6 82.7h0M597.2 87.3h0M602.4 87.1h0M605.4 91.7h0M610.5 91.4h0M612.9 96h0M616.2 95.8h0M617.3 100.3h0M589.5 69h0M590.7 73.5h0M594.3 73.3h0M596.8 77.9h0M602 77.6h0M604.9 82.2h0M610.1 82h0M612.6 86.6h0M616.1 86.3h0M617.3 90.9h0M589.4 59.5h0M590.6 64.1h0M594 63.9h0M596.4 68.4h0M601.6 68.2h0M604.5 72.8h0M609.8 72.6h0M612.3 77.2h0M615.9 76.9h0M617.2 81.5h0M589.3 50.1h0M590.4 54.7h0M593.7 54.4h0M596.1 59h0M601.2 58.8h0M604.1 63.4h0M609.4 63.1h0M611.9 67.7h0M615.7 67.5h0M617.1 72.1h0M589.3 40.7h0M590.3 45.3h0M593.5 45h0M595.8 49.6h0M600.8 49.3h0M603.7 53.9h0M609 53.7h0M611.6 58.3h0M615.5 58h0M617 62.6h0M589.3 31.2h0M590.1 35.8h0M593.2 35.6h0M595.4 40.2h0M600.4 39.9h0M603.3 44.5h0M608.6 44.3h0M611.3 48.9h0M615.3 48.6h0M616.8 53.2h0M589.3 21.8h0M590 26.4h0M592.9 26.1h0M595.1 30.7h0M600 30.5h0M602.9 35.1h0M608.3 34.8h0M610.9 39.4h0M615.1 39.2h0M616.7 43.8h0M618.3 43.5h0M590.1 17.9h0M592.8 17.2h0M594.8 21.3h0M599.6 21.1h0M602.5 25.6h0M607.9 25.4h0M610.6 30h0M614.8 29.8h0M616.5 34.3h0M618.3 34.1h0M594 10.6h0M595 13.1h0M599.5 12.3h0M602.1 16.3h0M607.4 16.1h0M610.2 20.6h0M614.6 20.4h0M616.4 24.9h0M618.3 24.6h0M596.5 8.1h0M600.1 7h0M602 8.8h0M606.6 8.8h0M609.4 12.1h0M613.5 12.6h0M615.9 16.4h0M617.9 16.9h0M608 7h0M613.9 10.3h0M588.6 102.8h0M590.5 103.1h0M588.7 93.4h0M590.9 93.7h0M588.9 84h0M591.2 84.3h0M588.7 69.7h0M589.2 74.5h0M617.1 95.6h0M617.7 100.5h0M588.8 60.2h0M589.4 65.1h0M617.3 86.2h0M617.8 91.1h0M589 50.8h0M589.6 55.7h0M617.5 76.8h0M618 81.6h0M589.2 41.4h0M589.9 46.3h0M615.5 67h0M617.8 67.4h0M589.4 32h0M590.2 36.8h0M615.9 57.6h0M618 57.9h0M589.6 22.5h0M590.4 27.4h0M616.2 48.2h0M618.1 48.5h0M590.5 15.2h0M590.8 18.5h0M616.5 38.8h0M618.3 39.1h0M592.6 11.9h0M595.5 11h0M616.9 29.4h0M618.4 29.7h0M598.4 8.1h0M602.5 7.7h0M615.6 16h0M617.1 20.1h0M604.8 6.2h0M608.5 6.9h0M611 8.9h0M614 10.3h0M616.2 13.4h0" stroke-width="3.8"/></g>
<ellipse cx="606.3" cy="118.5" rx="16.2" ry="17" fill="#c9521f"/><g fill="url(#o)" stroke="#7a3011" stroke-width=".6"><circle cx="601.9" cy="114.4" r="4.3"/><circle cx="595.4" cy="111.3" r="4.3"/><circle cx="612.6" cy="115.2" r="4.3"/><circle cx="596.6" cy="127.3" r="4.3"/><circle cx="622.4" cy="114" r="4.3"/><circle cx="606.5" cy="135.4" r="4.3"/><circle cx="622.2" cy="122.1" r="4.3"/><circle cx="610.3" cy="101.6" r="4.3"/><circle cx="598.7" cy="109.9" r="4.3"/><circle cx="590.2" cy="113.6" r="4.3"/><circle cx="615.3" cy="114.3" r="4.3"/><circle cx="605.2" cy="114.3" r="4.3"/><circle cx="594.6" cy="125" r="4.3"/><circle cx="610.6" cy="135" r="4.3"/><circle cx="602.6" cy="130.9" r="4.3"/><circle cx="617.8" cy="130.9" r="4.3"/><circle cx="606.6" cy="107.1" r="4.3"/><circle cx="619.6" cy="108.5" r="4.3"/><circle cx="612.9" cy="102.1" r="4.3"/><circle cx="598.3" cy="103.6" r="4.3"/><circle cx="619.8" cy="116.9" r="4.3"/><circle cx="592.6" cy="119" r="4.3"/><circle cx="601" cy="125" r="4.3"/><circle cx="599" cy="114.2" r="4.3"/><circle cx="617" cy="122.4" r="4.3"/><circle cx="603.7" cy="105.9" r="4.3"/></g><g fill="url(#gy)" stroke="#5d6266" stroke-width=".35"><circle cx="594.1" cy="114.9" r="1.9"/><circle cx="592.5" cy="117.5" r="1.9"/><circle cx="597.2" cy="129.5" r="1.9"/><circle cx="600.2" cy="130.2" r="1.9"/><circle cx="602.4" cy="118.5" r="1.9"/><circle cx="588" cy="122.6" r="1.9"/><circle cx="611.6" cy="115.9" r="1.9"/><circle cx="592.4" cy="128" r="1.9"/><circle cx="593.7" cy="125.1" r="1.9"/><circle cx="589.9" cy="109.2" r="1.9"/><circle cx="591.2" cy="112" r="1.9"/><circle cx="605.3" cy="129.3" r="1.9"/><circle cx="615.4" cy="109.6" r="1.9"/><circle cx="602.1" cy="101.1" r="1.9"/><circle cx="614.6" cy="135.5" r="1.9"/></g><g fill="url(#o)" stroke="#7a3011" stroke-width=".6"><circle cx="612.8" cy="107.6" r="4.3"/><circle cx="612.1" cy="130.2" r="4.3"/><circle cx="608.6" cy="118.8" r="4.3"/></g><g fill="url(#o)" stroke="#7a3011" stroke-width=".6"><circle cx="599" cy="104.5" r="4.3"/><circle cx="604.5" cy="102.5" r="4.3"/><circle cx="610" cy="105" r="4.3"/></g>
<path d="M601.7 102.2L601 98.6L604.5 96.9L607.3 99.5L605.5 102.8ZM601.7 102.2l-1.7 1.6M601 98.6l-2.1 -1M604.5 96.9l0.4 -2.3M607.3 99.5l2.4 -0.4M605.5 102.8l1.1 2" fill="none" stroke="#1f72b8" stroke-width="1.9" stroke-linejoin="round" stroke-linecap="round"/>
</g>
<text class="t" x="435.6" y="152.3" text-anchor="middle">476.03 ns</text>
<text class="t" x="494.9" y="152.3" text-anchor="middle">477.87 ns</text>
<text class="t" x="549.1" y="152.3" text-anchor="middle">478.57 ns</text>
<text class="t" x="606.1" y="152.3" text-anchor="middle">479.48 ns</text>
<g id="pe">
<g fill="none" stroke="#797e82" stroke-linecap="round" stroke-linejoin="round"><path d="M398.8 209.7L402.6 209.4M398.8 209.7L397.4 205.1M398.5 200.3L402.2 200M398.5 200.3L397.4 205.1M398.5 200.3L397.3 195.7M404.7 204.6L409.9 204.3M404.7 204.6L402.6 209.4M404.7 204.6L402.2 200M412.9 208.8L418 208.6M412.9 208.8L409.9 204.3M398.3 190.8L401.8 190.6M398.3 190.8L397.3 195.7M398.3 190.8L397.1 186.3M404.3 195.1L409.4 194.8M404.3 195.1L402.2 200M404.3 195.1L401.8 190.6M412.4 199.4L417.6 199.1M412.4 199.4L409.9 204.3M412.4 199.4L409.4 194.8M420.1 203.7L423.6 203.4M420.1 203.7L418 208.6M420.1 203.7L417.6 199.1M424.8 208L423.6 203.4M398.1 181.4L401.4 181.1M398.1 181.4L397.1 186.3M398.1 181.4L397 176.9M403.8 185.7L409 185.4M403.8 185.7L401.8 190.6M403.8 185.7L401.4 181.1M411.9 190L417.2 189.7M411.9 190L409.4 194.8M411.9 190L409 185.4M419.7 194.3L423.4 194M419.7 194.3L417.6 199.1M419.7 194.3L417.2 189.7M424.7 198.6L423.6 203.4M424.7 198.6L423.4 194M398 172.7L401.1 172.1M398 172.7L397 176.9M398 172.7L397.6 169.9M403.4 176.3L408.5 176M403.4 176.3L401.4 181.1M403.4 176.3L401.1 172.1M411.4 180.6L416.7 180.3M411.4 180.6L409 185.4M411.4 180.6L408.5 176M419.3 184.9L423.1 184.6M419.3 184.9L417.2 189.7M419.3 184.9L416.7 180.3M424.5 189.1L423.4 194M424.5 189.1L423.1 184.6M399.4 166.6L402.1 165.1M399.4 166.6L397.6 169.9M403.4 167.8L408.2 167.1M403.4 167.8L401.1 172.1M403.4 167.8L402.1 165.1M410.9 171.2L416.2 171M410.9 171.2L408.5 176M410.9 171.2L408.2 167.1M418.9 175.4L422.8 175.2M418.9 175.4L416.7 180.3M418.9 175.4L416.2 171M424.3 179.7L423.1 184.6M424.3 179.7L422.8 175.2M404.6 162.5L408.3 161.6M404.6 162.5L402.1 165.1M410.5 163.6L415.1 163.7M410.5 163.6L408.2 167.1M410.5 163.6L408.3 161.6M418 167L421.7 167.6M418 167L416.2 171M418 167L415.1 163.7M423.8 171.3L422.8 175.2M423.8 171.3L421.7 167.6M416.2 162L415.1 163.7M421.7 165.5L421.7 167.6M398.3 204.6L397.1 209.1M398.3 204.6L397.2 199.7M398.5 195.1L397.2 199.7M398.5 195.1L397.4 190.3M398.8 185.7L397.4 190.3M398.8 185.7L397.6 180.9M424.5 206.3L423.3 201.4M399 176.3L397.6 180.9M399 176.3L398 172.2M424.7 196.9L423.3 201.4M424.7 196.9L423.6 192M400 168.4L398 172.2M400 168.4L399.9 166.1M424.8 187.4L423.6 192M424.8 187.4L423.8 182.6M406.6 164.4L405.4 162.3M425 178L423.8 182.6M425 178L424 173.6M413.6 162L417.5 162.9M420 165.8L422.8 167.1M420 165.8L417.5 162.9M424.5 170.5L424 173.6M424.5 170.5L422.8 167.1" stroke-width="1.75"/><path d="M397.4 205.1h0M398.8 209.7h0M402.6 209.4h0M397.3 195.7h0M398.5 200.3h0M402.2 200h0M404.7 204.6h0M409.9 204.3h0M412.9 208.8h0M418 208.6h0M397.1 186.3h0M398.3 190.8h0M401.8 190.6h0M404.3 195.1h0M409.4 194.8h0M412.4 199.4h0M417.6 199.1h0M420.1 203.7h0M423.6 203.4h0M424.8 208h0M397 176.9h0M398.1 181.4h0M401.4 181.1h0M403.8 185.7h0M409 185.4h0M411.9 190h0M417.2 189.7h0M419.7 194.3h0M423.4 194h0M424.7 198.6h0M397.6 169.9h0M398 172.7h0M401.1 172.1h0M403.4 176.3h0M408.5 176h0M411.4 180.6h0M416.7 180.3h0M419.3 184.9h0M423.1 184.6h0M424.5 189.1h0M399.4 166.6h0M402.1 165.1h0M403.4 167.8h0M408.2 167.1h0M410.9 171.2h0M416.2 171h0M418.9 175.4h0M422.8 175.2h0M424.3 179.7h0M404.6 162.5h0M408.3 161.6h0M410.5 163.6h0M415.1 163.7h0M418 167h0M421.7 167.6h0M423.8 171.3h0M416.2 162h0M421.7 165.5h0M397.1 209.1h0M397.2 199.7h0M398.3 204.6h0M397.4 190.3h0M398.5 195.1h0M397.6 180.9h0M398.8 185.7h0M423.3 201.4h0M424.5 206.3h0M398 172.2h0M399 176.3h0M423.6 192h0M424.7 196.9h0M399.9 166.1h0M400 168.4h0M423.8 182.6h0M424.8 187.4h0M405.4 162.3h0M406.6 164.4h0M424 173.6h0M425 178h0M413.6 162h0M417.5 162.9h0M420 165.8h0M422.8 167.1h0M424.5 170.5h0" stroke-width="3.8"/></g>
<ellipse cx="405.2" cy="215.1" rx="18.3" ry="17.2" fill="#c9521f"/><g fill="url(#o)" stroke="#7a3011" stroke-width=".6"><circle cx="405.8" cy="226.9" r="4.3"/><circle cx="391.5" cy="204" r="4.3"/><circle cx="387.1" cy="210.6" r="4.3"/><circle cx="413.2" cy="219.3" r="4.3"/><circle cx="409.7" cy="198.7" r="4.3"/><circle cx="423.4" cy="221" r="4.3"/><circle cx="399.8" cy="204" r="4.3"/><circle cx="406.9" cy="212.1" r="4.3"/><circle cx="388.8" cy="223.6" r="4.3"/><circle cx="405.6" cy="224.5" r="4.3"/><circle cx="400.5" cy="198" r="4.3"/><circle cx="405.9" cy="232.2" r="4.3"/><circle cx="390.2" cy="214.3" r="4.3"/><circle cx="417.1" cy="222.5" r="4.3"/><circle cx="422" cy="212.1" r="4.3"/><circle cx="418.1" cy="203.1" r="4.3"/><circle cx="387" cy="208.1" r="4.3"/><circle cx="399.6" cy="220.5" r="4.3"/><circle cx="392.7" cy="201.5" r="4.3"/><circle cx="410.5" cy="211.2" r="4.3"/><circle cx="393" cy="227.3" r="4.3"/><circle cx="413" cy="228.7" r="4.3"/><circle cx="397.8" cy="208.2" r="4.3"/><circle cx="389.6" cy="219.3" r="4.3"/><circle cx="403.2" cy="227.7" r="4.3"/><circle cx="420.6" cy="220.2" r="4.3"/><circle cx="402.5" cy="201.9" r="4.3"/><circle cx="410.5" cy="201.1" r="4.3"/><circle cx="405" cy="216.5" r="4.3"/><circle cx="415.2" cy="211.5" r="4.3"/></g><g fill="url(#gy)" stroke="#5d6266" stroke-width=".35"><circle cx="410.6" cy="233.9" r="1.9"/><circle cx="426.5" cy="214.8" r="1.9"/><circle cx="421.5" cy="203.3" r="1.9"/><circle cx="419.8" cy="229" r="1.9"/><circle cx="390.7" cy="205.8" r="1.9"/><circle cx="387.6" cy="205.6" r="1.9"/><circle cx="401.6" cy="215.2" r="1.9"/><circle cx="401.6" cy="212.1" r="1.9"/><circle cx="399.4" cy="228.5" r="1.9"/><circle cx="407.6" cy="199.4" r="1.9"/><circle cx="394.2" cy="218.1" r="1.9"/><circle cx="413.3" cy="198.5" r="1.9"/><circle cx="413.5" cy="224.9" r="1.9"/></g><g fill="url(#o)" stroke="#7a3011" stroke-width=".6"><circle cx="397" cy="222.9" r="4.3"/><circle cx="411.4" cy="221.8" r="4.3"/><circle cx="394.2" cy="211.1" r="4.3"/><circle cx="406" cy="208.8" r="4.3"/></g><g fill="url(#o)" stroke="#7a3011" stroke-width=".6"><circle cx="398.5" cy="206.1" r="4.3"/><circle cx="403.5" cy="202.1" r="4.3"/><circle cx="412.6" cy="204.5" r="4.3"/><circle cx="407.6" cy="209.3" r="4.3"/><circle cx="418.1" cy="209.5" r="4.3"/></g>
<path d="M401.5 205.3L398.9 202.2L399.4 197.9L402.6 195.7L406.1 197.1L407.3 201.2L405.3 204.8ZM401.5 205.3l-0.8 2.7M398.9 202.2l-2.4 0.9M399.4 197.9l-2.1 -1.6M402.6 195.7l-0.3 -2.9M406.1 197.1l1.8 -2M407.3 201.2l2.5 0.3M405.3 204.8l1.3 2.4" fill="none" stroke="#1e9a48" stroke-width="1.9" stroke-linejoin="round" stroke-linecap="round"/>
<path d="M409.8 205.8L408.8 201.7L412.3 199.4L415.6 202.1L414 206ZM409.8 205.8l-1.7 2.1M408.8 201.7l-2.5 -1M412.3 199.4l0.2 -2.7M415.6 202.1l2.6 -0.7M414 206l1.4 2.3" fill="none" stroke="#1f72b8" stroke-width="1.9" stroke-linejoin="round" stroke-linecap="round"/>
<g fill="none" stroke="#797e82" stroke-linecap="round" stroke-linejoin="round"><path d="M453.8 201.3L457.7 201M453.8 201.3L452.5 206.2M453.8 201.3L452.3 196.7M460.4 205.6L465.7 205.3M460.4 205.6L458.2 210.4M460.4 205.6L457.7 201M468.7 209.9L473.6 209.6M468.7 209.9L465.7 205.3M453.5 191.9L457.3 191.6M453.5 191.9L452.3 196.7M453.5 191.9L452.1 187.3M459.9 196.2L465.2 195.9M459.9 196.2L457.7 201M459.9 196.2L457.3 191.6M468.2 200.4L473.2 200.2M468.2 200.4L465.7 205.3M468.2 200.4L465.2 195.9M475.6 204.7L478.7 204.4M475.6 204.7L473.6 209.6M475.6 204.7L473.2 200.2M479.7 209L478.7 204.4M453.2 182.5L456.9 182.2M453.2 182.5L452.1 187.3M453.2 182.5L451.9 177.9M459.5 186.7L464.7 186.5M459.5 186.7L457.3 191.6M459.5 186.7L456.9 182.2M467.7 191L472.8 190.7M467.7 191L465.2 195.9M467.7 191L464.7 186.5M475.2 195.3L478.5 195M475.2 195.3L473.2 200.2M475.2 195.3L472.8 190.7M479.6 199.6L478.7 204.4M479.6 199.6L478.5 195M453 173.4L456.6 172.9M453 173.4L451.9 177.9M453 173.4L452.3 170.3M459 177.3L464.2 177M459 177.3L456.9 182.2M459 177.3L456.6 172.9M467.2 181.6L472.4 181.3M467.2 181.6L464.7 186.5M467.2 181.6L464.2 177M474.8 185.9L478.3 185.6M474.8 185.9L472.8 190.7M474.8 185.9L472.4 181.3M479.4 190.2L478.5 195M479.4 190.2L478.3 185.6M454.1 166.8L457.2 165.5M454.1 166.8L452.3 170.3M458.9 168.5L463.8 168M458.9 168.5L456.6 172.9M458.9 168.5L457.2 165.5M466.7 172.2L471.9 172M466.7 172.2L464.2 177M466.7 172.2L463.8 168M474.4 176.5L478 176.2M474.4 176.5L472.4 181.3M474.4 176.5L471.9 172M479.3 180.7L478.3 185.6M479.3 180.7L478 176.2M459.7 162.6L463.7 161.9M459.7 162.6L457.2 165.5M466.1 164.2L470.7 164.4M466.1 164.2L463.8 168M466.1 164.2L463.7 161.9M473.6 168L477 168.5M473.6 168L471.9 172M473.6 168L470.7 164.4M478.9 172.2L478 176.2M478.9 172.2L477 168.5M471.8 162.5L470.7 164.4M453 208L451.9 203.2M453.3 198.6L451.9 203.2M453.3 198.6L452.1 193.7M453.6 189.2L452.1 193.7M453.6 189.2L452.3 184.3M479.2 209.7L478.1 204.9M451 174.8L452.5 175M479.3 200.3L478.1 204.9M479.3 200.3L478.4 195.5M454.4 171L452.5 175M454.4 171L453.8 167.8M479.5 190.9L478.4 195.5M479.5 190.9L478.6 186M456.3 164.7L459.8 163.8M456.3 164.7L453.8 167.8M479.6 181.5L478.6 186M479.6 181.5L478.8 176.6M462.5 161.5L466.5 161.4M462.5 161.5L459.8 163.8M468.8 163.8L473 164.6M468.8 163.8L466.5 161.4M475.4 168.2L478.2 169.3M475.4 168.2L473 164.6M479.6 173L478.8 176.6M479.6 173L478.2 169.3" stroke-width="1.75"/><path d="M452.5 206.2h0M458.2 210.4h0M452.3 196.7h0M453.8 201.3h0M457.7 201h0M460.4 205.6h0M465.7 205.3h0M468.7 209.9h0M473.6 209.6h0M452.1 187.3h0M453.5 191.9h0M457.3 191.6h0M459.9 196.2h0M465.2 195.9h0M468.2 200.4h0M473.2 200.2h0M475.6 204.7h0M478.7 204.4h0M479.7 209h0M451.9 177.9h0M453.2 182.5h0M456.9 182.2h0M459.5 186.7h0M464.7 186.5h0M467.7 191h0M472.8 190.7h0M475.2 195.3h0M478.5 195h0M479.6 199.6h0M452.3 170.3h0M453 173.4h0M456.6 172.9h0M459 177.3h0M464.2 177h0M467.2 181.6h0M472.4 181.3h0M474.8 185.9h0M478.3 185.6h0M479.4 190.2h0M454.1 166.8h0M457.2 165.5h0M458.9 168.5h0M463.8 168h0M466.7 172.2h0M471.9 172h0M474.4 176.5h0M478 176.2h0M479.3 180.7h0M459.7 162.6h0M463.7 161.9h0M466.1 164.2h0M470.7 164.4h0M473.6 168h0M477 168.5h0M478.9 172.2h0M471.8 162.5h0M451.9 203.2h0M453 208h0M452.1 193.7h0M453.3 198.6h0M452.3 184.3h0M453.6 189.2h0M478.1 204.9h0M479.2 209.7h0M451 174.8h0M452.5 175h0M478.4 195.5h0M479.3 200.3h0M453.8 167.8h0M454.4 171h0M478.6 186h0M479.5 190.9h0M456.3 164.7h0M459.8 163.8h0M478.8 176.6h0M479.6 181.5h0M462.5 161.5h0M466.5 161.4h0M468.8 163.8h0M473 164.6h0M475.4 168.2h0M478.2 169.3h0M479.6 173h0" stroke-width="3.8"/></g>
<ellipse cx="460.2" cy="216.7" rx="17.2" ry="15.6" fill="#c9521f"/><g fill="url(#o)" stroke="#7a3011" stroke-width=".6"><circle cx="450.3" cy="202.5" r="4.3"/><circle cx="475" cy="207.8" r="4.3"/><circle cx="458.9" cy="231.9" r="4.3"/><circle cx="466.6" cy="230.4" r="4.3"/><circle cx="449.4" cy="230.3" r="4.3"/><circle cx="470.6" cy="223.7" r="4.3"/><circle cx="443.1" cy="223.8" r="4.3"/><circle cx="458" cy="201.2" r="4.3"/><circle cx="459" cy="225.1" r="4.3"/><circle cx="445.6" cy="215.2" r="4.3"/><circle cx="477.4" cy="216.3" r="4.3"/><circle cx="447.5" cy="204.5" r="4.3"/><circle cx="456" cy="232.2" r="4.3"/><circle cx="449.8" cy="223.2" r="4.3"/><circle cx="464.8" cy="203" r="4.3"/><circle cx="473.8" cy="222.5" r="4.3"/><circle cx="456.1" cy="204.5" r="4.3"/><circle cx="453.8" cy="212.7" r="4.3"/><circle cx="446.2" cy="210.2" r="4.3"/><circle cx="466.5" cy="225.1" r="4.3"/><circle cx="444.7" cy="219.2" r="4.3"/><circle cx="473.6" cy="215.3" r="4.3"/><circle cx="459.7" cy="211.2" r="4.3"/><circle cx="453.4" cy="224.2" r="4.3"/></g><g fill="url(#gy)" stroke="#5d6266" stroke-width=".35"><circle cx="458.9" cy="216.1" r="1.9"/><circle cx="460.8" cy="218.6" r="1.9"/><circle cx="464.6" cy="215.1" r="1.9"/><circle cx="462.1" cy="216.9" r="1.9"/><circle cx="473.1" cy="228.5" r="1.9"/><circle cx="472.1" cy="225.5" r="1.9"/><circle cx="475.4" cy="204.6" r="1.9"/><circle cx="478.7" cy="211.4" r="1.9"/><circle cx="460.7" cy="199.4" r="1.9"/><circle cx="461.9" cy="208.6" r="1.9"/><circle cx="441.1" cy="211.3" r="1.9"/><circle cx="454.4" cy="227.6" r="1.9"/><circle cx="452.8" cy="224.9" r="1.9"/></g><g fill="url(#o)" stroke="#7a3011" stroke-width=".6"><circle cx="467.6" cy="209.4" r="4.3"/><circle cx="449.9" cy="214.9" r="4.3"/><circle cx="463.1" cy="219.6" r="4.3"/></g><g fill="url(#o)" stroke="#7a3011" stroke-width=".6"><circle cx="452" cy="204.5" r="4.3"/><circle cx="457" cy="200.5" r="4.3"/><circle cx="467.5" cy="204.5" r="4.3"/><circle cx="461.8" cy="208.5" r="4.3"/><circle cx="473" cy="209.5" r="4.3"/></g>
<path d="M454.3 203.2L452.2 199.6L453.4 195.6L456.9 194.1L460.1 196.3L460.6 200.6L458 203.6ZM454.3 203.2l-1.3 2.5M452.2 199.6l-2.5 0.4M453.4 195.6l-1.8 -2M456.9 194.1l0.2 -2.9M460.1 196.3l2.1 -1.6M460.6 200.6l2.4 0.9M458 203.6l0.9 2.7" fill="none" stroke="#1e9a48" stroke-width="1.9" stroke-linejoin="round" stroke-linecap="round"/>
<path d="M463.8 204.7L464.4 200.5L468.6 199.8L470.6 203.5L467.6 206.6ZM463.8 204.7l-2.4 1.2M464.4 200.5l-1.9 -1.9M468.6 199.8l1.2 -2.4M470.6 203.5l2.7 0.4M467.6 206.6l0.4 2.7" fill="none" stroke="#1f72b8" stroke-width="1.9" stroke-linejoin="round" stroke-linecap="round"/>
<g fill="none" stroke="#797e82" stroke-linecap="round" stroke-linejoin="round"><path d="M509 207.4L512.2 207.1M509 207.4L507.9 202.8M508.7 197.9L511.9 197.7M508.7 197.9L507.9 202.8M508.7 197.9L507.8 193.4M514.2 202.2L519.2 201.9M514.2 202.2L512.2 207.1M514.2 202.2L511.9 197.7M522.2 206.5L527.5 206.2M522.2 206.5L519.2 201.9M508.5 188.5L511.5 188.2M508.5 188.5L507.8 193.4M508.5 188.5L507.7 184M513.8 192.8L518.8 192.5M513.8 192.8L511.9 197.7M513.8 192.8L511.5 188.2M521.7 197.1L527 196.8M521.7 197.1L519.2 201.9M521.7 197.1L518.8 192.5M529.7 201.4L533.7 201.1M529.7 201.4L527.5 206.2M529.7 201.4L527 196.8M535.2 205.7L533.7 201.1M508.4 179.1L511.2 178.8M508.4 179.1L507.7 184M508.4 179.1L507.6 174.8M513.4 183.4L518.3 183.1M513.4 183.4L511.5 188.2M513.4 183.4L511.2 178.8M521.2 187.7L526.6 187.4M521.2 187.7L518.8 192.5M521.2 187.7L518.3 183.1M529.3 192L533.4 191.7M529.3 192L527 196.8M529.3 192L526.6 187.4M535 196.2L533.7 201.1M535 196.2L533.4 191.7M508.6 171.1L511.2 170.2M508.6 171.1L507.6 174.8M513 174.1L517.8 173.7M513 174.1L511.2 178.8M513 174.1L511.2 170.2M520.7 178.2L526.1 178M520.7 178.2L518.3 183.1M520.7 178.2L517.8 173.7M528.8 182.5L533.1 182.2M528.8 182.5L526.6 187.4M528.8 182.5L526.1 178M534.8 186.8L536.5 186.5M534.8 186.8L533.4 191.7M534.8 186.8L533.1 182.2M513.5 166.3L517.8 165.5M513.5 166.3L511.2 170.2M513.5 166.3L512.7 164.4M520.3 169L525.5 168.8M520.3 169L517.8 173.7M520.3 169L517.8 165.5M528.4 173.2L532.7 173.1M528.4 173.2L526.1 178M528.4 173.2L525.5 168.8M534.5 177.4L536.4 177.1M534.5 177.4L533.1 182.2M534.5 177.4L532.7 173.1M520.2 162.4L524.5 162.3M520.2 162.4L517.8 165.5M520.2 162.4L518.4 161.3M527.3 165.2L531.2 165.8M527.3 165.2L525.5 168.8M527.3 165.2L524.5 162.3M533.7 169.4L535.6 170.1M533.7 169.4L532.7 173.1M533.7 169.4L531.2 165.8M509.2 206.8L508.2 202M509.4 197.4L508.2 202M509.4 197.4L508.4 192.5M509.7 188L508.4 192.5M509.7 188L508.6 183.1M535.4 208.5L534.3 203.7M510 178.6L508.6 183.1M510 178.6L508.8 174M535.6 199.1L534.3 203.7M535.6 199.1L534.5 194.3M510.6 170.2L508.8 174M510.6 170.2L510.3 167.3M535.8 189.7L534.5 194.3M535.8 189.7L534.8 184.8M512.7 164.3L516 163.3M512.7 164.3L510.3 167.3M535.9 180.3L534.8 184.8M535.9 180.3L535 175.4M518.7 161.3L522.5 161.1M518.7 161.3L516 163.3M524.7 163L528.8 163.8M524.7 163L522.5 161.1M531.3 167.2L534.3 168.4M531.3 167.2L528.8 163.8M535.8 172.1L535 175.4M535.8 172.1L534.3 168.4" stroke-width="1.75"/><path d="M507.9 202.8h0M509 207.4h0M512.2 207.1h0M507.8 193.4h0M508.7 197.9h0M511.9 197.7h0M514.2 202.2h0M519.2 201.9h0M522.2 206.5h0M527.5 206.2h0M507.7 184h0M508.5 188.5h0M511.5 188.2h0M513.8 192.8h0M518.8 192.5h0M521.7 197.1h0M527 196.8h0M529.7 201.4h0M533.7 201.1h0M535.2 205.7h0M507.6 174.8h0M508.4 179.1h0M511.2 178.8h0M513.4 183.4h0M518.3 183.1h0M521.2 187.7h0M526.6 187.4h0M529.3 192h0M533.4 191.7h0M535 196.2h0M508.6 171.1h0M511.2 170.2h0M513 174.1h0M517.8 173.7h0M520.7 178.2h0M526.1 178h0M528.8 182.5h0M533.1 182.2h0M534.8 186.8h0M536.5 186.5h0M512.7 164.4h0M513.5 166.3h0M517.8 165.5h0M520.3 169h0M525.5 168.8h0M528.4 173.2h0M532.7 173.1h0M534.5 177.4h0M536.4 177.1h0M518.4 161.3h0M520.2 162.4h0M524.5 162.3h0M527.3 165.2h0M531.2 165.8h0M533.7 169.4h0M535.6 170.1h0M508.2 202h0M509.2 206.8h0M508.4 192.5h0M509.4 197.4h0M508.6 183.1h0M509.7 188h0M534.3 203.7h0M535.4 208.5h0M508.8 174h0M510 178.6h0M534.5 194.3h0M535.6 199.1h0M510.3 167.3h0M510.6 170.2h0M534.8 184.8h0M535.8 189.7h0M512.7 164.3h0M516 163.3h0M535 175.4h0M535.9 180.3h0M518.7 161.3h0M522.5 161.1h0M524.7 163h0M528.8 163.8h0M531.3 167.2h0M534.3 168.4h0M535.8 172.1h0" stroke-width="3.8"/></g>
<ellipse cx="514.2" cy="216.9" rx="18.3" ry="16.4" fill="#c9521f"/><g fill="url(#o)" stroke="#7a3011" stroke-width=".6"><circle cx="501.9" cy="222.2" r="4.3"/><circle cx="527.9" cy="205.6" r="4.3"/><circle cx="511.5" cy="205.6" r="4.3"/><circle cx="521.5" cy="230.9" r="4.3"/><circle cx="527.7" cy="223.2" r="4.3"/><circle cx="531.2" cy="212.8" r="4.3"/><circle cx="496" cy="219" r="4.3"/><circle cx="498.5" cy="210.7" r="4.3"/><circle cx="506.9" cy="225.8" r="4.3"/><circle cx="514.3" cy="233.2" r="4.3"/><circle cx="518.2" cy="200.6" r="4.3"/><circle cx="525.5" cy="216.6" r="4.3"/><circle cx="517" cy="213.9" r="4.3"/><circle cx="503.8" cy="203.1" r="4.3"/><circle cx="498.7" cy="224.3" r="4.3"/><circle cx="532.4" cy="221.4" r="4.3"/><circle cx="519.7" cy="228" r="4.3"/><circle cx="523.1" cy="207.2" r="4.3"/><circle cx="506.1" cy="219.4" r="4.3"/><circle cx="497.4" cy="215.7" r="4.3"/><circle cx="508.2" cy="208.8" r="4.3"/><circle cx="505" cy="228.6" r="4.3"/><circle cx="531.4" cy="215.3" r="4.3"/><circle cx="514.2" cy="202.5" r="4.3"/><circle cx="524.8" cy="224.5" r="4.3"/><circle cx="515.4" cy="228.1" r="4.3"/><circle cx="506" cy="216.8" r="4.3"/><circle cx="518.4" cy="217.3" r="4.3"/></g><g fill="url(#gy)" stroke="#5d6266" stroke-width=".35"><circle cx="525.8" cy="211.3" r="1.9"/><circle cx="500.4" cy="231.2" r="1.9"/><circle cx="503.4" cy="232.1" r="1.9"/><circle cx="504.7" cy="222.7" r="1.9"/><circle cx="499.9" cy="204.2" r="1.9"/><circle cx="502.8" cy="203" r="1.9"/><circle cx="518.4" cy="210.2" r="1.9"/><circle cx="521" cy="204.6" r="1.9"/><circle cx="524.1" cy="204.7" r="1.9"/><circle cx="501.2" cy="212.5" r="1.9"/><circle cx="513.2" cy="223.6" r="1.9"/><circle cx="514.7" cy="226.3" r="1.9"/><circle cx="526.3" cy="227.6" r="1.9"/><circle cx="523.6" cy="226" r="1.9"/></g><g fill="url(#o)" stroke="#7a3011" stroke-width=".6"><circle cx="522.9" cy="209.7" r="4.3"/><circle cx="508.7" cy="223.8" r="4.3"/><circle cx="512.7" cy="209.5" r="4.3"/><circle cx="512.3" cy="216.8" r="4.3"/></g><g fill="url(#o)" stroke="#7a3011" stroke-width=".6"><circle cx="508.1" cy="202.5" r="4.3"/><circle cx="513.1" cy="198.5" r="4.3"/><circle cx="521.9" cy="203.5" r="4.3"/><circle cx="517" cy="207" r="4.3"/><circle cx="527.4" cy="208.5" r="4.3"/></g>
<path d="M509.7 200.6L508.3 196.6L510.2 192.9L513.9 192.3L516.6 195.2L516.3 199.5L513.2 201.9ZM509.7 200.6l-1.7 2.1M508.3 196.6l-2.5 -0.2M510.2 192.9l-1.4 -2.4M513.9 192.3l0.7 -2.7M516.6 195.2l2.3 -1.1M516.3 199.5l2.2 1.4M513.2 201.9l0.4 2.8" fill="none" stroke="#1e9a48" stroke-width="1.9" stroke-linejoin="round" stroke-linecap="round"/>
<path d="M517.8 202.3L520 198.7L524.1 199.7L524.5 203.9L520.6 205.5ZM517.8 202.3l-2.7 0.2M520 198.7l-1 -2.5M524.1 199.7l2.1 -1.8M524.5 203.9l2.3 1.4M520.6 205.5l-0.6 2.6" fill="none" stroke="#1f72b8" stroke-width="1.9" stroke-linejoin="round" stroke-linecap="round"/>
<g fill="none" stroke="#797e82" stroke-linecap="round" stroke-linejoin="round"><path d="M562.8 207.5L566.6 207.4M562.8 207.5L561.6 202.9M563 198.1L566.7 198M563 198.1L561.6 202.9M563 198.1L562 193.5M569 202.7L574.3 202.7M569 202.7L566.6 207.4M569 202.7L566.7 198M577 207.4L582.1 207.4M577 207.4L574.3 202.7M563.3 188.7L566.8 188.6M563.3 188.7L562 193.5M563.3 188.7L562.3 184M569.1 193.3L574.3 193.2M569.1 193.3L566.7 198M569.1 193.3L566.8 188.6M577 198L582.2 197.9M577 198L574.3 202.7M577 198L574.3 193.2M584.4 202.6L587.9 202.5M584.4 202.6L582.1 207.4M584.4 202.6L582.2 197.9M588.9 207.2L587.9 202.5M563.5 179.2L566.9 179.1M563.5 179.2L562.3 184M563.5 179.2L562.6 174.6M569.1 183.8L574.3 183.8M569.1 183.8L566.8 188.6M569.1 183.8L566.9 179.1M577 188.5L582.2 188.5M577 188.5L574.3 193.2M577 188.5L574.3 183.8M584.5 193.2L588.2 193.1M584.5 193.2L582.2 197.9M584.5 193.2L582.2 188.5M589.2 197.7L587.9 202.5M589.2 197.7L588.2 193.1M564 170.8L567.2 170.3M564 170.8L562.6 174.6M564 170.8L563.9 168.3M569.2 174.4L574.3 174.4M569.2 174.4L566.9 179.1M569.2 174.4L567.2 170.3M577 179.1L582.3 179.1M577 179.1L574.3 183.8M577 179.1L574.3 174.4M584.6 183.8L588.4 183.7M584.6 183.8L582.2 188.5M584.6 183.8L582.3 179.1M589.5 188.3L588.2 193.1M589.5 188.3L588.4 183.7M569.8 166.3L574.5 165.8M569.8 166.3L567.2 170.3M569.8 166.3L568.7 163.9M577 169.8L582.1 169.9M577 169.8L574.3 174.4M577 169.8L574.5 165.8M584.7 174.4L588.6 174.5M584.7 174.4L582.3 179.1M584.7 174.4L582.1 169.9M589.8 178.9L588.4 183.7M589.8 178.9L588.6 174.5M571.3 161.8L574.9 161.1M571.3 161.8L568.7 163.9M576.9 162.8L581.3 163.1M576.9 162.8L574.5 165.8M576.9 162.8L574.9 161.1M584 166.3L587.5 167.2M584 166.3L582.1 169.9M584 166.3L581.3 163.1M589.5 170.9L588.6 174.5M589.5 170.9L587.5 167.2M560.9 202.4L562.9 202.8M561.5 193L563.7 193.4M562.1 183.6L561.9 178.7M589.2 210.7L588.9 205.8M562.7 174.3L561.9 178.7M589.8 201.3L588.9 205.8M589.8 201.3L589.5 196.4M564.4 167.8L566.8 167M587.8 186.6L590.1 187M569.7 163.8L573.8 163.5M569.7 163.8L566.8 167M588.6 177.2L590.7 177.6M576.5 161.4L580.5 161.9M576.5 161.4L573.8 163.5M582.8 164.5L586.5 165.8M582.8 164.5L580.5 161.9M588.6 169.5L586.5 165.8" stroke-width="1.75"/><path d="M561.6 202.9h0M562.8 207.5h0M566.6 207.4h0M562 193.5h0M563 198.1h0M566.7 198h0M569 202.7h0M574.3 202.7h0M577 207.4h0M582.1 207.4h0M562.3 184h0M563.3 188.7h0M566.8 188.6h0M569.1 193.3h0M574.3 193.2h0M577 198h0M582.2 197.9h0M584.4 202.6h0M587.9 202.5h0M588.9 207.2h0M562.6 174.6h0M563.5 179.2h0M566.9 179.1h0M569.1 183.8h0M574.3 183.8h0M577 188.5h0M582.2 188.5h0M584.5 193.2h0M588.2 193.1h0M589.2 197.7h0M563.9 168.3h0M564 170.8h0M567.2 170.3h0M569.2 174.4h0M574.3 174.4h0M577 179.1h0M582.3 179.1h0M584.6 183.8h0M588.4 183.7h0M589.5 188.3h0M568.7 163.9h0M569.8 166.3h0M574.5 165.8h0M577 169.8h0M582.1 169.9h0M584.7 174.4h0M588.6 174.5h0M589.8 178.9h0M571.3 161.8h0M574.9 161.1h0M576.9 162.8h0M581.3 163.1h0M584 166.3h0M587.5 167.2h0M589.5 170.9h0M560.9 202.4h0M562.9 202.8h0M561.5 193h0M563.7 193.4h0M561.9 178.7h0M562.1 183.6h0M588.9 205.8h0M589.2 210.7h0M562.7 174.3h0M589.5 196.4h0M589.8 201.3h0M564.4 167.8h0M566.8 167h0M587.8 186.6h0M590.1 187h0M569.7 163.8h0M573.8 163.5h0M588.6 177.2h0M590.7 177.6h0M576.5 161.4h0M580.5 161.9h0M582.8 164.5h0M586.5 165.8h0M588.6 169.5h0" stroke-width="3.8"/></g>
<ellipse cx="571.6" cy="218.8" rx="18.2" ry="16.7" fill="#c9521f"/><g fill="url(#o)" stroke="#7a3011" stroke-width=".6"><circle cx="580.3" cy="205.3" r="4.3"/><circle cx="557.5" cy="229.2" r="4.3"/><circle cx="566.1" cy="212.5" r="4.3"/><circle cx="569.4" cy="202.2" r="4.3"/><circle cx="583.6" cy="229.5" r="4.3"/><circle cx="553.5" cy="220.8" r="4.3"/><circle cx="570.6" cy="224.4" r="4.3"/><circle cx="589.8" cy="223.2" r="4.3"/><circle cx="588.9" cy="212.9" r="4.3"/><circle cx="559.7" cy="206" r="4.3"/><circle cx="582.4" cy="218.3" r="4.3"/><circle cx="576.2" cy="202.6" r="4.3"/><circle cx="570.4" cy="234.8" r="4.3"/><circle cx="560.5" cy="228.5" r="4.3"/><circle cx="558.8" cy="213.5" r="4.3"/><circle cx="572.5" cy="210.4" r="4.3"/><circle cx="580" cy="226.8" r="4.3"/><circle cx="587.8" cy="226.6" r="4.3"/><circle cx="554.5" cy="224.9" r="4.3"/><circle cx="562.5" cy="220.4" r="4.3"/><circle cx="578.4" cy="235.4" r="4.3"/><circle cx="563.9" cy="204.2" r="4.3"/><circle cx="564.2" cy="233.8" r="4.3"/><circle cx="571.2" cy="228.6" r="4.3"/><circle cx="575.9" cy="219.4" r="4.3"/><circle cx="585.4" cy="217.4" r="4.3"/><circle cx="580.8" cy="209.5" r="4.3"/><circle cx="563.2" cy="212.7" r="4.3"/><circle cx="570.8" cy="206.2" r="4.3"/><circle cx="557" cy="218.6" r="4.3"/><circle cx="563.1" cy="226" r="4.3"/></g><g fill="url(#gy)" stroke="#5d6266" stroke-width=".35"><circle cx="582.6" cy="206" r="1.9"/><circle cx="578.3" cy="214.3" r="1.9"/><circle cx="555.5" cy="207.2" r="1.9"/><circle cx="558.4" cy="234" r="1.9"/><circle cx="552.9" cy="214.6" r="1.9"/><circle cx="580.5" cy="221" r="1.9"/><circle cx="567.3" cy="208.9" r="1.9"/><circle cx="573.5" cy="232.6" r="1.9"/><circle cx="576" cy="234.4" r="1.9"/><circle cx="560.4" cy="216.3" r="1.9"/><circle cx="573.2" cy="199.7" r="1.9"/><circle cx="561.2" cy="210.1" r="1.9"/><circle cx="560.9" cy="207" r="1.9"/></g><g fill="url(#o)" stroke="#7a3011" stroke-width=".6"><circle cx="569.1" cy="231.4" r="4.3"/><circle cx="577.6" cy="224.5" r="4.3"/><circle cx="575.1" cy="215.4" r="4.3"/><circle cx="568.9" cy="221" r="4.3"/></g><g fill="url(#o)" stroke="#7a3011" stroke-width=".6"><circle cx="565.5" cy="202" r="4.3"/><circle cx="570.5" cy="198" r="4.3"/><circle cx="579" cy="203" r="4.3"/><circle cx="574.2" cy="206.5" r="4.3"/><circle cx="584.5" cy="208" r="4.3"/></g>
<path d="M566.5 199.4L565.9 195.2L568.3 191.9L572.1 192.2L574.2 195.6L573.2 199.8L569.8 201.4ZM566.5 199.4l-2 1.7M565.9 195.2l-2.4 -0.8M568.3 191.9l-1 -2.6M572.1 192.2l1.2 -2.5M574.2 195.6l2.5 -0.5M573.2 199.8l1.9 1.9M569.8 201.4l-0.1 2.9" fill="none" stroke="#1e9a48" stroke-width="1.9" stroke-linejoin="round" stroke-linecap="round"/>
<path d="M575.1 200.4L578.5 197.9L581.9 200.4L580.6 204.4L576.4 204.4ZM575.1 200.4l-2.6 -0.9M578.5 197.9l0 -2.7M581.9 200.4l2.6 -0.8M580.6 204.4l1.6 2.2M576.4 204.4l-1.6 2.2" fill="none" stroke="#1f72b8" stroke-width="1.9" stroke-linejoin="round" stroke-linecap="round"/>
<g fill="none" stroke="#797e82" stroke-linecap="round" stroke-linejoin="round"><path d="M619.5 208.4L623.1 208.1M619.5 208.4L618.2 203.8M619.3 199L622.7 198.7M619.3 199L618.2 203.8M619.3 199L618.1 194.4M625.2 203.3L630.4 203M625.2 203.3L623.1 208.1M625.2 203.3L622.7 198.7M633.4 207.6L638.6 207.3M633.4 207.6L630.4 203M619 189.6L622.4 189.3M619 189.6L618.1 194.4M619 189.6L617.9 185M624.8 193.8L629.9 193.6M624.8 193.8L622.7 198.7M624.8 193.8L622.4 189.3M632.9 198.1L638.1 197.8M632.9 198.1L630.4 203M632.9 198.1L629.9 193.6M640.7 202.4L644.3 202.1M640.7 202.4L638.6 207.3M640.7 202.4L638.1 197.8M645.7 206.7L644.3 202.1M618.8 180.1L622 179.9M618.8 180.1L617.9 185M618.8 180.1L617.8 175.6M624.4 184.4L629.4 184.1M624.4 184.4L622.4 189.3M624.4 184.4L622 179.9M632.4 188.7L637.7 188.4M632.4 188.7L629.9 193.6M632.4 188.7L629.4 184.1M640.3 193L644.1 192.7M640.3 193L638.1 197.8M640.3 193L637.7 188.4M645.5 197.3L644.3 202.1M645.5 197.3L644.1 192.7M618.9 171.7L621.9 171M618.9 171.7L617.8 175.6M623.9 175L628.9 174.7M623.9 175L622 179.9M623.9 175L621.9 171M631.9 179.3L637.2 179M631.9 179.3L629.4 184.1M631.9 179.3L628.9 174.7M639.9 183.6L643.8 183.3M639.9 183.6L637.7 188.4M639.9 183.6L637.2 179M645.3 187.9L644.1 192.7M645.3 187.9L643.8 183.3M624.2 166.9L628.7 166.1M624.2 166.9L621.9 171M624.2 166.9L623 164.6M631.4 170L636.6 169.8M631.4 170L628.9 174.7M631.4 170L628.7 166.1M639.4 174.2L643.5 174M639.4 174.2L637.2 179M639.4 174.2L636.6 169.8M645.1 178.4L643.8 183.3M645.1 178.4L643.5 174M625.5 162.3L629.1 161.3M625.5 162.3L623 164.6M631.1 162.9L635.5 162.9M631.1 162.9L628.7 166.1M631.1 162.9L629.1 161.3M638.4 166L642.1 166.7M638.4 166L636.6 169.8M638.4 166L635.5 162.9M644.4 170.3L643.5 174M644.4 170.3L642.1 166.7M636.7 161.6L635.5 162.9M619.1 207.5L618.1 202.6M619.3 198L618.1 202.6M619.3 198L618.3 193.2M619.5 188.6L618.3 193.2M619.5 188.6L618.4 183.7M645.3 209.2L644.1 204.3M619.8 179.2L618.4 183.7M619.8 179.2L618.6 174.5M645.5 199.7L644.1 204.3M645.5 199.7L644.4 194.9M620.4 170.7L618.6 174.5M620.4 170.7L620 167.7M645.7 190.3L644.4 194.9M645.7 190.3L644.6 185.5M622.4 164.6L625.6 163.6M622.4 164.6L620 167.7M645.8 180.9L644.6 185.5M645.8 180.9L644.9 176M628.4 161.5L632.3 161.2M628.4 161.5L625.6 163.6M634.4 163.4L638.7 164.1M634.4 163.4L632.3 161.2M641.2 167.6L644.3 168.7M641.2 167.6L638.7 164.1M645.8 172.5L644.9 176M645.8 172.5L644.3 168.7" stroke-width="1.75"/><path d="M618.2 203.8h0M619.5 208.4h0M623.1 208.1h0M618.1 194.4h0M619.3 199h0M622.7 198.7h0M625.2 203.3h0M630.4 203h0M633.4 207.6h0M638.6 207.3h0M617.9 185h0M619 189.6h0M622.4 189.3h0M624.8 193.8h0M629.9 193.6h0M632.9 198.1h0M638.1 197.8h0M640.7 202.4h0M644.3 202.1h0M645.7 206.7h0M617.8 175.6h0M618.8 180.1h0M622 179.9h0M624.4 184.4h0M629.4 184.1h0M632.4 188.7h0M637.7 188.4h0M640.3 193h0M644.1 192.7h0M645.5 197.3h0M618.9 171.7h0M621.9 171h0M623.9 175h0M628.9 174.7h0M631.9 179.3h0M637.2 179h0M639.9 183.6h0M643.8 183.3h0M645.3 187.9h0M623 164.6h0M624.2 166.9h0M628.7 166.1h0M631.4 170h0M636.6 169.8h0M639.4 174.2h0M643.5 174h0M645.1 178.4h0M625.5 162.3h0M629.1 161.3h0M631.1 162.9h0M635.5 162.9h0M638.4 166h0M642.1 166.7h0M644.4 170.3h0M636.7 161.6h0M618.1 202.6h0M619.1 207.5h0M618.3 193.2h0M619.3 198h0M618.4 183.7h0M619.5 188.6h0M644.1 204.3h0M645.3 209.2h0M618.6 174.5h0M619.8 179.2h0M644.4 194.9h0M645.5 199.7h0M620 167.7h0M620.4 170.7h0M644.6 185.5h0M645.7 190.3h0M622.4 164.6h0M625.6 163.6h0M644.9 176h0M645.8 180.9h0M628.4 161.5h0M632.3 161.2h0M634.4 163.4h0M638.7 164.1h0M641.2 167.6h0M644.3 168.7h0M645.8 172.5h0" stroke-width="3.8"/></g>
<ellipse cx="624.5" cy="216.6" rx="18.2" ry="14.5" fill="#c9521f"/><g fill="url(#o)" stroke="#7a3011" stroke-width=".6"><circle cx="632.8" cy="205.2" r="4.3"/><circle cx="641.3" cy="221.5" r="4.3"/><circle cx="623.6" cy="209.8" r="4.3"/><circle cx="611" cy="225.1" r="4.3"/><circle cx="606.4" cy="217" r="4.3"/><circle cx="642" cy="212.5" r="4.3"/><circle cx="624.6" cy="202.2" r="4.3"/><circle cx="616.8" cy="209.1" r="4.3"/><circle cx="637" cy="205.6" r="4.3"/><circle cx="628" cy="231.1" r="4.3"/><circle cx="636.3" cy="227.1" r="4.3"/><circle cx="626.6" cy="209.9" r="4.3"/><circle cx="642.7" cy="219" r="4.3"/><circle cx="610.2" cy="210.5" r="4.3"/><circle cx="616.4" cy="229.9" r="4.3"/><circle cx="611.6" cy="219.7" r="4.3"/><circle cx="634.4" cy="215.1" r="4.3"/><circle cx="619.6" cy="221.7" r="4.3"/><circle cx="625.2" cy="228.4" r="4.3"/><circle cx="620.6" cy="210.7" r="4.3"/><circle cx="632.8" cy="208.4" r="4.3"/><circle cx="632.8" cy="224.9" r="4.3"/></g><g fill="url(#gy)" stroke="#5d6266" stroke-width=".35"><circle cx="614.2" cy="222" r="1.9"/><circle cx="611.1" cy="222.3" r="1.9"/><circle cx="640.6" cy="225" r="1.9"/><circle cx="634.3" cy="211.2" r="1.9"/><circle cx="621.9" cy="205.1" r="1.9"/><circle cx="634.2" cy="202.4" r="1.9"/><circle cx="606.2" cy="213" r="1.9"/><circle cx="605.2" cy="215.9" r="1.9"/><circle cx="606" cy="223.9" r="1.9"/><circle cx="605.8" cy="220.9" r="1.9"/><circle cx="633" cy="219" r="1.9"/><circle cx="628.2" cy="212.7" r="1.9"/><circle cx="629.9" cy="210.1" r="1.9"/></g><g fill="url(#o)" stroke="#7a3011" stroke-width=".6"><circle cx="613.7" cy="217.1" r="4.3"/><circle cx="630.4" cy="216.7" r="4.3"/><circle cx="622.3" cy="218.4" r="4.3"/></g><g fill="url(#o)" stroke="#7a3011" stroke-width=".6"><circle cx="621" cy="203" r="4.3"/><circle cx="626" cy="199" r="4.3"/><circle cx="635" cy="202.5" r="4.3"/><circle cx="630" cy="206.8" r="4.3"/><circle cx="640.5" cy="207.5" r="4.3"/></g>
<path d="M621.6 199.5L621.7 195.2L624.6 192.7L628.3 193.7L629.8 197.6L628.1 201.4L624.4 202.3ZM621.6 199.5l-2.3 1.2M621.7 195.2l-2.2 -1.3M624.6 192.7l-0.5 -2.8M628.3 193.7l1.6 -2.2M629.8 197.6l2.5 0.1M628.1 201.4l1.5 2.3M624.4 202.3l-0.6 2.8" fill="none" stroke="#1e9a48" stroke-width="1.9" stroke-linejoin="round" stroke-linecap="round"/>
<path d="M631.8 198.6L635.9 197.7L638.1 201.3L635.3 204.5L631.4 202.8ZM631.8 198.6l-2 -1.8M635.9 197.7l1.1 -2.5M638.1 201.3l2.7 0.3M635.3 204.5l0.6 2.6M631.4 202.8l-2.3 1.4" fill="none" stroke="#1f72b8" stroke-width="1.9" stroke-linejoin="round" stroke-linecap="round"/>
</g>
<text class="t" x="403.7" y="252" text-anchor="middle">207.64 ns</text>
<text class="t" x="460.7" y="252" text-anchor="middle">209.49 ns</text>
<text class="t" x="515.4" y="252" text-anchor="middle">209.52 ns</text>
<text class="t" x="571.5" y="252" text-anchor="middle">209.53 ns</text>
<text class="t" x="626.1" y="252" text-anchor="middle">210.07 ns</text>
<g id="pb">
<clipPath id="cb"><rect x="81.9" y="276.1" width="209.3" height="147.7"/></clipPath>
<g clip-path="url(#cb)" fill="none" stroke-linejoin="round">
<path d="M84.4 422.3L85.8 408.3L87.3 397.2L88.7 386.4L90.2 375.9L91.6 365.6L93.1 359.4L94.5 360.1L96 363.7L97.4 365.9L98.9 368.1L100.3 368.8L101.8 369.5L103.2 370.3L104.7 370.6L106.1 371L107.6 371.4L109 371.9L110.4 372.4L111.9 374.1L113.3 375.7L114.8 376.1L116.2 376.5L117.7 376.8L119.1 376.7L120.6 376.5L122 376.3L123.5 376.2L124.9 376.5L126.4 376.8L127.8 377.2L129.3 377.5L130.7 377.9L132.2 378.2L133.6 377.2L135 374.8L136.5 372.4L137.9 372L139.4 371.6L140.8 371.1L142.3 370.7L143.7 370.3L145.2 369.9L146.6 369.5L148.1 369.2L149.5 368.5L151 367.6L152.4 366.8L153.9 367.5L155.3 368.3L156.8 369L158.2 369.6L159.6 370.3L161.1 370.3L162.5 369.4L164 368.4L165.4 367.5L166.9 367.9L168.3 368.8L169.8 369.7L171.2 370.7L172.7 370.2L174.1 369.7L175.6 369.2L177 368.7L178.5 368.9L179.9 369.5L181.3 370L182.8 370.6L184.2 371.1L185.7 371.7L187.1 372.3L188.6 372.5L190 372.1L191.5 371.6L192.9 371.1L194.4 370.6L195.8 370.4L197.3 370.9L198.7 371.5L200.2 372L201.6 372.6L203.1 373L204.5 371.8L205.9 370.6L207.4 369.7L208.8 370.4L210.3 371.1L211.7 371.8L213.2 372.5L214.6 372L216.1 371.1L217.5 370.3L219 369.5L220.4 369.1L221.9 369.6L223.3 370.1L224.8 370.6L226.2 371.1L227.7 370.8L229.1 370.5L230.5 370.1L232 369.8L233.4 369.5L234.9 369.2L236.3 369L237.8 368.9L239.2 368.7L240.7 368.6L242.1 369.2L243.6 370.2L245 371.1L246.5 372.1L247.9 372.6L249.4 372.4L250.8 372.2L252.3 372L253.7 371.8L255.1 371.3L256.6 370.8L258 370.3L259.5 369.8L260.9 369.8L262.4 370L263.8 370.3L265.3 370.5L266.7 370.8L268.2 371.1L269.6 371.3L271.1 371.6L272.5 371.8L274 372.1L275.4 372.4L276.9 372.6L278.3 371.7L279.7 370.7L281.2 369.6L282.6 368.6L284.1 368.5L285.5 369.4L287 370.3L288.4 370.7L289.9 370.7L291.3 370.7L291.3 390.8L289.9 390.8L288.4 390.8L287 390.5L285.5 389.8L284.1 389.1L282.6 389.1L281.2 390L279.7 390.8L278.3 391.6L276.9 392.3L275.4 392.1L274 391.9L272.5 391.7L271.1 391.5L269.6 391.3L268.2 391.1L266.7 390.9L265.3 390.7L263.8 390.5L262.4 390.3L260.9 390.1L259.5 390.1L258 390.5L256.6 390.9L255.1 391.3L253.7 391.6L252.3 391.8L250.8 392L249.4 392.1L247.9 392.3L246.5 391.9L245 391.1L243.6 390.4L242.1 389.6L240.7 389.1L239.2 389.2L237.8 389.3L236.3 389.5L234.9 389.6L233.4 389.8L232 390.1L230.5 390.4L229.1 390.6L227.7 390.9L226.2 391.1L224.8 390.7L223.3 390.4L221.9 390L220.4 389.6L219 389.8L217.5 390.5L216.1 391.1L214.6 391.8L213.2 392.2L211.7 391.7L210.3 391.1L208.8 390.6L207.4 390L205.9 390.7L204.5 391.6L203.1 392.6L201.6 392.3L200.2 391.8L198.7 391.4L197.3 391L195.8 390.5L194.4 390.7L192.9 391.1L191.5 391.5L190 391.9L188.6 392.2L187.1 392L185.7 391.6L184.2 391.1L182.8 390.7L181.3 390.3L179.9 389.8L178.5 389.4L177 389.2L175.6 389.6L174.1 390L172.7 390.4L171.2 390.8L169.8 390.1L168.3 389.3L166.9 388.6L165.4 388.3L164 389L162.5 389.8L161.1 390.5L159.6 390.5L158.2 390L156.8 389.4L155.3 388.9L153.9 388.3L152.4 387.7L151 388.4L149.5 389.1L148.1 389.6L146.6 389.9L145.2 390.2L143.7 390.5L142.3 390.8L140.8 391.1L139.4 391.5L137.9 391.8L136.5 392.2L135 394L133.6 395.8L132.2 396.6L130.7 396.4L129.3 396.1L127.8 395.8L126.4 395.6L124.9 395.3L123.5 395.1L122 395.2L120.6 395.3L119.1 395.4L117.7 395.6L116.2 395.3L114.8 395L113.3 394.7L111.9 393.4L110.4 392.2L109 391.7L107.6 391.3L106.1 391L104.7 390.7L103.2 390.4L101.8 389.9L100.3 389.3L98.9 388.7L97.4 387L96 385.3L94.5 382.4L93.1 381.8L91.6 386.8L90.2 394.9L88.7 402.8L87.3 410.5L85.8 417.8L84.4 422.3Z" fill="#cfe0f4" stroke="none" opacity=".75"/>
<path d="M84.4 422.3L85.8 422.3L87.3 422.3L88.7 422.3L90.2 419.2L91.6 417.3L93.1 405.8L94.5 395.7L96 383.7L97.4 377.3L98.9 376.2L100.3 376.1L101.8 376L103.2 374.6L104.7 373.2L106.1 370.9L107.6 368.6L109 369.7L110.4 369L111.9 366.4L113.3 364.8L114.8 364.1L116.2 363.4L117.7 363.2L119.1 362.9L120.6 360.8L122 360.7L123.5 365.2L124.9 366.7L126.4 365.3L127.8 366.3L129.3 369.8L130.7 371.3L132.2 374.4L133.6 379L135 386L136.5 388.1L137.9 385.1L139.4 387.6L140.8 395.7L142.3 397.6L143.7 398.9L145.2 399.4L146.6 401L148.1 402.7L149.5 401.7L151 402.5L152.4 404.2L153.9 405.8L155.3 407.5L156.8 409.1L158.2 410.5L159.6 411.3L161.1 407.2L162.5 403.2L164 400.3L165.4 401.3L166.9 402.3L168.3 402.2L169.8 400L171.2 397.7L172.7 396.4L174.1 397.4L175.6 398.3L177 400.1L178.5 403.1L179.9 406.2L181.3 409.4L182.8 408.3L184.2 406.1L185.7 403.9L187.1 401.8L188.6 399.7L190 400.3L191.5 402.7L192.9 403.5L194.4 401.6L195.8 399.8L197.3 398L198.7 396.7L200.2 395.5L201.6 394.4L203.1 393.2L204.5 394.1L205.9 398.1L207.4 402.1L208.8 403.1L210.3 400.9L211.7 398.7L213.2 399L214.6 401.8L216.1 404.6L217.5 404.6L219 402.6L220.4 402.2L221.9 404.2L223.3 406.2L224.8 408.3L226.2 407.6L227.7 406.3L229.1 405L230.5 403.7L232 404.1L233.4 407.2L234.9 410.1L236.3 410.5L237.8 410.9L239.2 411.3L240.7 411.7L242.1 410.2L243.6 408.1L245 406L246.5 404.1L247.9 402.6L249.4 401.2L250.8 399.7L252.3 399.5L253.7 400.9L255.1 402.4L256.6 403.9L258 403.6L259.5 402.8L260.9 402.1L262.4 401.5L263.8 402.7L265.3 403.9L266.7 405.2L268.2 405.2L269.6 404L271.1 402.8L272.5 401.6L274 399.8L275.4 397.8L276.9 397.3L278.3 403.4L279.7 406.8L281.2 406.2L282.6 405.5L284.1 404.9L285.5 404.2L287 405.7L288.4 407.2L289.9 408.7L291.3 410.2L291.3 421.3L289.9 420.6L288.4 420L287 419.3L285.5 418.5L284.1 418.9L282.6 419.2L281.2 419.5L279.7 419.8L278.3 418.1L276.9 414.8L275.4 415L274 416.2L272.5 417.2L271.1 417.8L269.6 418.4L268.2 419L266.7 419L265.3 418.4L263.8 417.8L262.4 417.1L260.9 417.4L259.5 417.8L258 418.2L256.6 418.4L255.1 417.6L253.7 416.8L252.3 416L250.8 416.1L249.4 416.9L247.9 417.7L246.5 418.5L245 419.4L243.6 420.4L242.1 421.3L240.7 421.9L239.2 421.7L237.8 421.6L236.3 421.4L234.9 421.3L233.4 420L232 418.5L230.5 418.3L229.1 418.9L227.7 419.6L226.2 420.2L224.8 420.5L223.3 419.5L221.9 418.5L220.4 417.5L219 417.7L217.5 418.7L216.1 418.7L214.6 417.3L213.2 415.7L211.7 415.6L210.3 416.8L208.8 418L207.4 417.4L205.9 415.2L204.5 412.9L203.1 412.3L201.6 413L200.2 413.7L198.7 414.4L197.3 415.2L195.8 416.2L194.4 417.2L192.9 418.1L191.5 417.8L190 416.5L188.6 416.1L187.1 417.3L185.7 418.4L184.2 419.4L182.8 420.5L181.3 421L179.9 419.5L178.5 418L177 416.3L175.6 415.3L174.1 414.8L172.7 414.3L171.2 415L169.8 416.3L168.3 417.5L166.9 417.5L165.4 417L164 416.5L162.5 418L161.1 420L159.6 421.7L158.2 421.4L156.8 420.8L155.3 420.1L153.9 419.3L152.4 418.5L151 417.7L149.5 417.2L148.1 417.7L146.6 416.9L145.2 415.9L143.7 415.7L142.3 415L140.8 413.8L139.4 408.9L137.9 407.3L136.5 409.2L135 407.8L133.6 403.2L132.2 400L130.7 397.9L129.3 396.8L127.8 394.3L126.4 393.6L124.9 394.7L123.5 393.6L122 390.3L120.6 390.4L119.1 391.9L117.7 392.1L116.2 392.3L114.8 392.8L113.3 393.3L111.9 394.5L110.4 396.2L109 396.8L107.6 396L106.1 397.6L104.7 399.2L103.2 400.2L101.8 401.1L100.3 401.2L98.9 401.3L97.4 402L96 406.3L94.5 413.8L93.1 419.3L91.6 422.3L90.2 422.3L88.7 422.3L87.3 422.3L85.8 422.3L84.4 422.3Z" fill="#fde4c4" stroke="none" opacity=".75"/>
<path d="M84.4 422.3L85.8 422.3L87.3 422.3L88.7 422.3L90.2 422.3L91.6 422.3L93.1 422.3L94.5 418.1L96 415.8L97.4 413.4L98.9 411.3L100.3 409.7L101.8 408.2L103.2 406.7L104.7 404.4L106.1 402.3L107.6 400.4L109 398.9L110.4 401.2L111.9 401.6L113.3 400.1L114.8 397.5L116.2 395.1L117.7 394.6L119.1 395.9L120.6 395.2L122 392.5L123.5 390.1L124.9 388.1L126.4 385.8L127.8 383.2L129.3 377.2L130.7 372.9L132.2 372.5L133.6 380.8L135 396L136.5 403.4L137.9 405.4L139.4 403.8L140.8 403.1L142.3 403.4L143.7 403.7L145.2 404L146.6 404.2L148.1 405.5L149.5 406.9L151 408.3L152.4 409.8L153.9 411.4L155.3 413.1L156.8 412.2L158.2 411.3L159.6 410.4L161.1 409.6L162.5 410L164 411.3L165.4 412.7L166.9 411.9L168.3 410.3L169.8 408.8L171.2 407.3L172.7 408L174.1 408.6L175.6 409.4L177 410.6L178.5 411.9L179.9 413.3L181.3 414.7L182.8 414L184.2 412.9L185.7 411.8L187.1 410.7L188.6 409.7L190 409.7L191.5 410.4L192.9 411.1L194.4 411.9L195.8 412.7L197.3 412.4L198.7 411L200.2 409.7L201.6 408.4L203.1 407.3L204.5 407.8L205.9 408.2L207.4 408.7L208.8 409.1L210.3 408.5L211.7 407.5L213.2 406.6L214.6 407.2L216.1 408.2L217.5 409.2L219 410.3L220.4 410.5L221.9 409.5L223.3 408.5L224.8 407.5L226.2 408.8L227.7 410.7L229.1 412.7L230.5 412.2L232 411.2L233.4 410.1L234.9 409.5L236.3 412.4L237.8 415.6L239.2 418.5L240.7 417.5L242.1 416.7L243.6 415.9L245 415.1L246.5 414.2L247.9 413.3L249.4 412.3L250.8 411.5L252.3 410.8L253.7 410.5L255.1 410.2L256.6 409.9L258 409.6L259.5 409.4L260.9 409.4L262.4 409.7L263.8 410L265.3 410.3L266.7 410.6L268.2 410.8L269.6 411.2L271.1 411.5L272.5 411.9L274 412.3L275.4 412.7L276.9 413L278.3 413.5L279.7 414L281.2 414.6L282.6 415.1L284.1 415.7L285.5 416.2L287 416L288.4 415.7L289.9 415.5L291.3 415.2L291.3 422.3L289.9 422.3L288.4 422.3L287 422.3L285.5 422.3L284.1 422.3L282.6 422.3L281.2 422.3L279.7 422.3L278.3 422.3L276.9 422.3L275.4 422.3L274 422.3L272.5 422.3L271.1 422.3L269.6 422.3L268.2 422.3L266.7 422.3L265.3 422.3L263.8 422.3L262.4 422.3L260.9 422.3L259.5 422.3L258 422.3L256.6 422.3L255.1 422.3L253.7 422.3L252.3 422.3L250.8 422.3L249.4 422.3L247.9 422.3L246.5 422.3L245 422.3L243.6 422.3L242.1 422.3L240.7 422.3L239.2 422.3L237.8 422.3L236.3 422.3L234.9 422.3L233.4 422.3L232 422.3L230.5 422.3L229.1 422.3L227.7 422.3L226.2 422.3L224.8 422.3L223.3 422.3L221.9 422.3L220.4 422.3L219 422.3L217.5 422.3L216.1 422.3L214.6 422.3L213.2 422.3L211.7 422.3L210.3 422.3L208.8 422.3L207.4 422.3L205.9 422.3L204.5 422.3L203.1 422.3L201.6 422.3L200.2 422.3L198.7 422.3L197.3 422.3L195.8 422.3L194.4 422.3L192.9 422.3L191.5 422.3L190 422.3L188.6 422.3L187.1 422.3L185.7 422.3L184.2 422.3L182.8 422.3L181.3 422.3L179.9 422.3L178.5 422.3L177 422.3L175.6 422.3L174.1 422.3L172.7 422.3L171.2 422.3L169.8 422.3L168.3 422.3L166.9 422.3L165.4 422.3L164 422.3L162.5 422.3L161.1 422.3L159.6 422.3L158.2 422.3L156.8 422.3L155.3 422.3L153.9 422.3L152.4 422.3L151 422.3L149.5 422.3L148.1 422.3L146.6 422.3L145.2 422.3L143.7 422.3L142.3 422.3L140.8 422.3L139.4 422.3L137.9 422.3L136.5 422.3L135 420.4L133.6 413.4L132.2 409L130.7 409.2L129.3 411.5L127.8 414.6L126.4 415.9L124.9 417L123.5 417.9L122 418.9L120.6 420.1L119.1 420.4L117.7 419.8L116.2 420L114.8 421L113.3 421.9L111.9 422.3L110.4 422.3L109 421.5L107.6 422L106.1 422.3L104.7 422.3L103.2 422.3L101.8 422.3L100.3 422.3L98.9 422.3L97.4 422.3L96 422.3L94.5 422.3L93.1 422.3L91.6 422.3L90.2 422.3L88.7 422.3L87.3 422.3L85.8 422.3L84.4 422.3Z" fill="#f6d0c9" stroke="none" opacity=".75"/>
<path d="M84.4 422.3L84.7 420.3L85 418.4L85.3 416.4L85.6 416.4L85.8 412.5L86.1 410.6L86.4 416.4L86.7 402.8L87 402.8L87.3 406.7L87.6 402.8L87.9 396.9L88.2 398.9L88.5 396.9L88.7 402.8L89 389.1L89.3 391.1L89.6 387.2L89.9 396.9L90.2 375.5L90.5 383.3L90.8 383.3L91.1 365.7L91.3 377.4L91.6 385.2L91.9 377.4L92.2 389.1L92.5 363.8L92.8 373.5L93.1 375.5L93.4 361.8L93.7 381.3L94 365.7L94.2 385.2L94.5 375.5L94.8 381.3L95.1 361.8L95.4 359.9L95.7 375.5L96 369.6L96.3 375.5L96.6 371.6L96.8 381.3L97.1 387.2L97.4 389.1L97.7 373.5L98 361.8L98.3 375.5L98.6 381.3L98.9 365.7L99.2 377.4L99.4 377.4L99.7 377.4L100 379.4L100.3 381.3L100.6 389.1L100.9 375.5L101.2 379.4L101.5 371.6L101.8 381.3L102.1 393L102.3 381.3L102.6 369.6L102.9 383.3L103.2 385.2L103.5 389.1L103.8 387.2L104.1 383.3L104.4 389.1L104.7 371.6L104.9 383.3L105.2 379.4L105.5 371.6L105.8 371.6L106.1 383.3L106.4 379.4L106.7 375.5L107 383.3L107.3 393L107.6 377.4L107.8 375.5L108.1 379.4L108.4 387.2L108.7 383.3L109 385.2L109.3 383.3L109.6 373.5L109.9 371.6L110.2 377.4L110.4 379.4L110.7 377.4L111 383.3L111.3 383.3L111.6 387.2L111.9 383.3L112.2 369.6L112.5 379.4L112.8 387.2L113.1 387.2L113.3 391.1L113.6 383.3L113.9 383.3L114.2 395L114.5 383.3L114.8 389.1L115.1 377.4L115.4 385.2L115.7 375.5L115.9 389.1L116.2 387.2L116.5 383.3L116.8 379.4L117.1 383.3L117.4 393L117.7 385.2L118 385.2L118.3 389.1L118.5 389.1L118.8 375.5L119.1 389.1L119.4 391.1L119.7 381.3L120 385.2L120.3 387.2L120.6 381.3L120.9 383.3L121.2 383.3L121.4 379.4L121.7 383.3L122 389.1L122.3 387.2L122.6 389.1L122.9 385.2L123.2 393L123.5 396.9L123.8 385.2L124 393L124.3 396.9L124.6 383.3L124.9 391.1L125.2 383.3L125.5 389.1L125.8 393L126.1 393L126.4 389.1L126.7 387.2L126.9 391.1L127.2 387.2L127.5 395L127.8 387.2L128.1 396.9L128.4 387.2L128.7 383.3L129 379.4L129.3 377.4L129.5 396.9L129.8 383.3L130.1 379.4L130.4 381.3L130.7 393L131 385.2L131.3 375.5L131.6 396.9L131.9 385.2L132.2 381.3L132.4 391.1L132.7 383.3L133 393L133.3 391.1L133.6 391.1L133.9 385.2L134.2 387.2L134.5 379.4L134.8 391.1L135 385.2L135.3 377.4L135.6 379.4L135.9 391.1L136.2 379.4L136.5 385.2L136.8 379.4L137.1 379.4L137.4 373.5L137.6 381.3L137.9 393L138.2 391.1L138.5 377.4L138.8 383.3L139.1 373.5L139.4 379.4L139.7 387.2L140 373.5L140.3 387.2L140.5 395L140.8 367.7L141.1 393L141.4 377.4L141.7 375.5L142 379.4L142.3 391.1L142.6 373.5L142.9 389.1L143.1 389.1L143.4 383.3L143.7 375.5L144 377.4L144.3 375.5L144.6 383.3L144.9 381.3L145.2 387.2L145.5 381.3L145.8 375.5L146 381.3L146.3 377.4L146.6 383.3L146.9 383.3L147.2 379.4L147.5 381.3L147.8 375.5L148.1 377.4L148.4 367.7L148.6 381.3L148.9 381.3L149.2 385.2L149.5 379.4L149.8 373.5L150.1 383.3L150.4 379.4L150.7 373.5L151 379.4L151.3 381.3L151.5 371.6L151.8 377.4L152.1 375.5L152.4 369.6L152.7 369.6L153 379.4L153.3 381.3L153.6 375.5L153.9 379.4L154.1 391.1L154.4 369.6L154.7 377.4L155 373.5L155.3 387.2L155.6 369.6L155.9 383.3L156.2 379.4L156.5 389.1L156.8 379.4L157 381.3L157.3 381.3L157.6 377.4L157.9 379.4L158.2 373.5L158.5 383.3L158.8 387.2L159.1 379.4L159.4 375.5L159.6 371.6L159.9 375.5L160.2 393L160.5 377.4L160.8 371.6L161.1 379.4L161.4 383.3L161.7 377.4L162 383.3L162.2 375.5L162.5 379.4L162.8 369.6L163.1 375.5L163.4 383.3L163.7 375.5L164 371.6L164.3 383.3L164.6 381.3L164.9 393L165.1 371.6L165.4 381.3L165.7 391.1L166 389.1L166.3 379.4L166.6 373.5L166.9 379.4L167.2 375.5L167.5 385.2L167.7 387.2L168 373.5L168.3 375.5L168.6 379.4L168.9 371.6L169.2 385.2L169.5 383.3L169.8 373.5L170.1 367.7L170.4 379.4L170.6 369.6L170.9 385.2L171.2 379.4L171.5 381.3L171.8 391.1L172.1 379.4L172.4 373.5L172.7 381.3L173 381.3L173.2 371.6L173.5 389.1L173.8 389.1L174.1 383.3L174.4 387.2L174.7 371.6L175 377.4L175.3 385.2L175.6 383.3L175.9 359.9L176.1 383.3L176.4 383.3L176.7 377.4L177 375.5L177.3 377.4L177.6 385.2L177.9 387.2L178.2 375.5L178.5 379.4L178.7 389.1L179 371.6L179.3 373.5L179.6 381.3L179.9 381.3L180.2 377.4L180.5 385.2L180.8 389.1L181.1 377.4L181.3 389.1L181.6 377.4L181.9 389.1L182.2 381.3L182.5 381.3L182.8 369.6L183.1 387.2L183.4 389.1L183.7 385.2L184 389.1L184.2 385.2L184.5 379.4L184.8 375.5L185.1 371.6L185.4 387.2L185.7 363.8L186 369.6L186.3 383.3L186.6 396.9L186.8 383.3L187.1 381.3L187.4 396.9L187.7 381.3L188 383.3L188.3 387.2L188.6 377.4L188.9 375.5L189.2 385.2L189.5 381.3L189.7 387.2L190 387.2L190.3 381.3L190.6 379.4L190.9 385.2L191.2 395L191.5 377.4L191.8 391.1L192.1 381.3L192.3 369.6L192.6 381.3L192.9 389.1L193.2 391.1L193.5 373.5L193.8 381.3L194.1 377.4L194.4 375.5L194.7 381.3L195 383.3L195.2 387.2L195.5 400.8L195.8 391.1L196.1 381.3L196.4 381.3L196.7 377.4L197 381.3L197.3 379.4L197.6 375.5L197.8 387.2L198.1 383.3L198.4 391.1L198.7 375.5L199 381.3L199.3 379.4L199.6 371.6L199.9 375.5L200.2 383.3L200.4 377.4L200.7 391.1L201 379.4L201.3 381.3L201.6 393L201.9 373.5L202.2 387.2L202.5 379.4L202.8 385.2L203.1 377.4L203.3 373.5L203.6 387.2L203.9 391.1L204.2 383.3L204.5 375.5L204.8 383.3L205.1 385.2L205.4 377.4L205.7 398.9L205.9 385.2L206.2 389.1L206.5 377.4L206.8 385.2L207.1 387.2L207.4 381.3L207.7 389.1L208 379.4L208.3 385.2L208.6 383.3L208.8 385.2L209.1 375.5L209.4 381.3L209.7 377.4L210 377.4L210.3 387.2L210.6 377.4L210.9 379.4L211.2 379.4L211.4 383.3L211.7 385.2L212 377.4L212.3 367.7L212.6 387.2L212.9 379.4L213.2 385.2L213.5 377.4L213.8 379.4L214.1 375.5L214.3 400.8L214.6 385.2L214.9 387.2L215.2 381.3L215.5 385.2L215.8 385.2L216.1 377.4L216.4 369.6L216.7 398.9L216.9 383.3L217.2 379.4L217.5 381.3L217.8 383.3L218.1 389.1L218.4 385.2L218.7 375.5L219 373.5L219.3 379.4L219.5 385.2L219.8 379.4L220.1 381.3L220.4 375.5L220.7 379.4L221 383.3L221.3 377.4L221.6 387.2L221.9 373.5L222.2 371.6L222.4 387.2L222.7 377.4L223 387.2L223.3 373.5L223.6 373.5L223.9 381.3L224.2 373.5L224.5 383.3L224.8 385.2L225 385.2L225.3 381.3L225.6 383.3L225.9 379.4L226.2 385.2L226.5 375.5L226.8 373.5L227.1 383.3L227.4 391.1L227.7 375.5L227.9 373.5L228.2 381.3L228.5 389.1L228.8 379.4L229.1 371.6L229.4 393L229.7 377.4L230 383.3L230.3 385.2L230.5 377.4L230.8 389.1L231.1 377.4L231.4 371.6L231.7 379.4L232 385.2L232.3 391.1L232.6 389.1L232.9 391.1L233.2 369.6L233.4 381.3L233.7 387.2L234 387.2L234.3 387.2L234.6 381.3L234.9 387.2L235.2 367.7L235.5 383.3L235.8 385.2L236 377.4L236.3 369.6L236.6 369.6L236.9 383.3L237.2 377.4L237.5 377.4L237.8 375.5L238.1 377.4L238.4 385.2L238.7 387.2L238.9 377.4L239.2 387.2L239.5 369.6L239.8 379.4L240.1 385.2L240.4 381.3L240.7 381.3L241 379.4L241.3 373.5L241.5 389.1L241.8 391.1L242.1 377.4L242.4 381.3L242.7 379.4L243 377.4L243.3 381.3L243.6 375.5L243.9 387.2L244.1 379.4L244.4 385.2L244.7 389.1L245 377.4L245.3 377.4L245.6 393L245.9 389.1L246.2 379.4L246.5 375.5L246.8 387.2L247 383.3L247.3 391.1L247.6 365.7L247.9 379.4L248.2 377.4L248.5 377.4L248.8 375.5L249.1 379.4L249.4 385.2L249.6 377.4L249.9 381.3L250.2 373.5L250.5 387.2L250.8 385.2L251.1 377.4L251.4 373.5L251.7 381.3L252 387.2L252.3 383.3L252.5 385.2L252.8 369.6L253.1 375.5L253.4 373.5L253.7 379.4L254 385.2L254.3 373.5L254.6 371.6L254.9 377.4L255.1 381.3L255.4 373.5L255.7 383.3L256 375.5L256.3 385.2L256.6 387.2L256.9 377.4L257.2 379.4L257.5 367.7L257.8 381.3L258 379.4L258.3 387.2L258.6 393L258.9 391.1L259.2 377.4L259.5 387.2L259.8 371.6L260.1 369.6L260.4 381.3L260.6 369.6L260.9 379.4L261.2 373.5L261.5 381.3L261.8 373.5L262.1 387.2L262.4 375.5L262.7 383.3L263 381.3L263.2 375.5L263.5 379.4L263.8 381.3L264.1 375.5L264.4 375.5L264.7 389.1L265 377.4L265.3 375.5L265.6 385.2L265.9 377.4L266.1 389.1L266.4 371.6L266.7 383.3L267 381.3L267.3 373.5L267.6 381.3L267.9 377.4L268.2 387.2L268.5 385.2L268.7 391.1L269 383.3L269.3 375.5L269.6 379.4L269.9 375.5L270.2 387.2L270.5 387.2L270.8 385.2L271.1 377.4L271.4 379.4L271.6 381.3L271.9 377.4L272.2 383.3L272.5 381.3L272.8 373.5L273.1 385.2L273.4 381.3L273.7 371.6L274 381.3L274.2 377.4L274.5 385.2L274.8 369.6L275.1 396.9L275.4 389.1L275.7 389.1L276 371.6L276.3 379.4L276.6 383.3L276.9 391.1L277.1 379.4L277.4 381.3L277.7 387.2L278 391.1L278.3 389.1L278.6 379.4L278.9 379.4L279.2 381.3L279.5 381.3L279.7 393L280 379.4L280.3 387.2L280.6 379.4L280.9 377.4L281.2 383.3L281.5 387.2L281.8 373.5L282.1 377.4L282.3 383.3L282.6 398.9L282.9 379.4L283.2 373.5L283.5 371.6L283.8 383.3L284.1 383.3L284.4 381.3L284.7 373.5L285 387.2L285.2 379.4L285.5 385.2L285.8 377.4L286.1 391.1L286.4 377.4L286.7 383.3L287 381.3L287.3 377.4L287.6 373.5L287.8 391.1L288.1 373.5L288.4 377.4L288.7 383.3L289 371.6L289.3 379.4L289.6 371.6L289.9 385.2L290.2 387.2L290.5 373.5L290.7 367.7L291 377.4L291.3 375.5" stroke="#b3cdee" stroke-width=".7" opacity=".9"/>
<path d="M84.4 422.3L84.7 422.3L85 422.3L85.3 422.3L85.6 422.3L85.8 422.3L86.1 422.3L86.4 422.3L86.7 422.3L87 422.3L87.3 422.3L87.6 422.3L87.9 422.3L88.2 422.3L88.5 422.3L88.7 422.3L89 422.3L89.3 422.3L89.6 420.3L89.9 420.3L90.2 422.3L90.5 422.3L90.8 420.3L91.1 420.3L91.3 420.3L91.6 422.3L91.9 416.4L92.2 420.3L92.5 422.3L92.8 416.4L93.1 410.6L93.4 400.8L93.7 410.6L94 414.5L94.2 395L94.5 404.7L94.8 404.7L95.1 408.6L95.4 404.7L95.7 387.2L96 396.9L96.3 396.9L96.6 395L96.8 377.4L97.1 395L97.4 385.2L97.7 387.2L98 387.2L98.3 396.9L98.6 383.3L98.9 375.5L99.2 389.1L99.4 396.9L99.7 398.9L100 387.2L100.3 391.1L100.6 389.1L100.9 389.1L101.2 400.8L101.5 381.3L101.8 387.2L102.1 389.1L102.3 385.2L102.6 379.4L102.9 387.2L103.2 395L103.5 377.4L103.8 391.1L104.1 393L104.4 398.9L104.7 385.2L104.9 395L105.2 389.1L105.5 381.3L105.8 385.2L106.1 375.5L106.4 381.3L106.7 387.2L107 385.2L107.3 387.2L107.6 377.4L107.8 381.3L108.1 387.2L108.4 375.5L108.7 381.3L109 387.2L109.3 396.9L109.6 379.4L109.9 381.3L110.2 383.3L110.4 387.2L110.7 389.1L111 383.3L111.3 379.4L111.6 381.3L111.9 381.3L112.2 385.2L112.5 377.4L112.8 377.4L113.1 385.2L113.3 371.6L113.6 371.6L113.9 371.6L114.2 379.4L114.5 381.3L114.8 389.1L115.1 371.6L115.4 398.9L115.7 381.3L115.9 381.3L116.2 369.6L116.5 377.4L116.8 387.2L117.1 391.1L117.4 385.2L117.7 377.4L118 377.4L118.3 379.4L118.5 383.3L118.8 379.4L119.1 367.7L119.4 387.2L119.7 375.5L120 361.8L120.3 371.6L120.6 379.4L120.9 369.6L121.2 381.3L121.4 373.5L121.7 359.9L122 357.9L122.3 393L122.6 369.6L122.9 359.9L123.2 383.3L123.5 377.4L123.8 365.7L124 385.2L124.3 377.4L124.6 381.3L124.9 398.9L125.2 377.4L125.5 381.3L125.8 371.6L126.1 359.9L126.4 373.5L126.7 383.3L126.9 375.5L127.2 377.4L127.5 369.6L127.8 393L128.1 391.1L128.4 398.9L128.7 377.4L129 383.3L129.3 389.1L129.5 389.1L129.8 389.1L130.1 393L130.4 387.2L130.7 389.1L131 373.5L131.3 383.3L131.6 393L131.9 391.1L132.2 377.4L132.4 385.2L132.7 387.2L133 383.3L133.3 377.4L133.6 400.8L133.9 398.9L134.2 406.7L134.5 391.1L134.8 398.9L135 400.8L135.3 402.8L135.6 395L135.9 400.8L136.2 402.8L136.5 391.1L136.8 404.7L137.1 406.7L137.4 379.4L137.6 398.9L137.9 400.8L138.2 400.8L138.5 396.9L138.8 389.1L139.1 391.1L139.4 395L139.7 400.8L140 410.6L140.3 400.8L140.5 395L140.8 398.9L141.1 406.7L141.4 400.8L141.7 408.6L142 406.7L142.3 412.5L142.6 408.6L142.9 406.7L143.1 408.6L143.4 402.8L143.7 396.9L144 400.8L144.3 408.6L144.6 410.6L144.9 410.6L145.2 412.5L145.5 408.6L145.8 406.7L146 406.7L146.3 408.6L146.6 408.6L146.9 410.6L147.2 412.5L147.5 400.8L147.8 404.7L148.1 414.5L148.4 414.5L148.6 412.5L148.9 408.6L149.2 402.8L149.5 404.7L149.8 404.7L150.1 404.7L150.4 404.7L150.7 406.7L151 408.6L151.3 410.6L151.5 418.4L151.8 410.6L152.1 402.8L152.4 414.5L152.7 414.5L153 406.7L153.3 412.5L153.6 414.5L153.9 406.7L154.1 410.6L154.4 410.6L154.7 416.4L155 410.6L155.3 412.5L155.6 410.6L155.9 410.6L156.2 410.6L156.5 414.5L156.8 412.5L157 420.3L157.3 412.5L157.6 412.5L157.9 416.4L158.2 418.4L158.5 416.4L158.8 420.3L159.1 414.5L159.4 416.4L159.6 420.3L159.9 416.4L160.2 410.6L160.5 410.6L160.8 410.6L161.1 414.5L161.4 414.5L161.7 414.5L162 408.6L162.2 400.8L162.5 404.7L162.8 402.8L163.1 402.8L163.4 416.4L163.7 408.6L164 410.6L164.3 402.8L164.6 400.8L164.9 412.5L165.1 408.6L165.4 406.7L165.7 412.5L166 412.5L166.3 412.5L166.6 404.7L166.9 414.5L167.2 404.7L167.5 410.6L167.7 406.7L168 402.8L168.3 412.5L168.6 414.5L168.9 406.7L169.2 414.5L169.5 412.5L169.8 408.6L170.1 406.7L170.4 414.5L170.6 408.6L170.9 402.8L171.2 398.9L171.5 416.4L171.8 398.9L172.1 400.8L172.4 410.6L172.7 414.5L173 402.8L173.2 408.6L173.5 404.7L173.8 400.8L174.1 408.6L174.4 404.7L174.7 402.8L175 400.8L175.3 396.9L175.6 396.9L175.9 404.7L176.1 408.6L176.4 395L176.7 404.7L177 406.7L177.3 414.5L177.6 404.7L177.9 412.5L178.2 412.5L178.5 416.4L178.7 412.5L179 410.6L179.3 418.4L179.6 416.4L179.9 412.5L180.2 418.4L180.5 418.4L180.8 418.4L181.1 420.3L181.3 412.5L181.6 418.4L181.9 412.5L182.2 410.6L182.5 418.4L182.8 414.5L183.1 416.4L183.4 418.4L183.7 414.5L184 414.5L184.2 410.6L184.5 408.6L184.8 416.4L185.1 414.5L185.4 408.6L185.7 404.7L186 422.3L186.3 404.7L186.6 410.6L186.8 402.8L187.1 412.5L187.4 412.5L187.7 408.6L188 402.8L188.3 408.6L188.6 420.3L188.9 404.7L189.2 416.4L189.5 412.5L189.7 414.5L190 418.4L190.3 414.5L190.6 414.5L190.9 412.5L191.2 410.6L191.5 412.5L191.8 418.4L192.1 412.5L192.3 406.7L192.6 406.7L192.9 410.6L193.2 406.7L193.5 406.7L193.8 402.8L194.1 400.8L194.4 410.6L194.7 410.6L195 400.8L195.2 400.8L195.5 400.8L195.8 420.3L196.1 408.6L196.4 422.3L196.7 402.8L197 406.7L197.3 406.7L197.6 406.7L197.8 398.9L198.1 406.7L198.4 400.8L198.7 402.8L199 402.8L199.3 402.8L199.6 404.7L199.9 410.6L200.2 400.8L200.4 400.8L200.7 404.7L201 398.9L201.3 398.9L201.6 410.6L201.9 404.7L202.2 406.7L202.5 408.6L202.8 400.8L203.1 408.6L203.3 404.7L203.6 400.8L203.9 400.8L204.2 400.8L204.5 389.1L204.8 406.7L205.1 402.8L205.4 412.5L205.7 402.8L205.9 400.8L206.2 400.8L206.5 410.6L206.8 410.6L207.1 402.8L207.4 410.6L207.7 406.7L208 416.4L208.3 404.7L208.6 406.7L208.8 408.6L209.1 414.5L209.4 410.6L209.7 408.6L210 408.6L210.3 408.6L210.6 410.6L210.9 406.7L211.2 400.8L211.4 418.4L211.7 414.5L212 414.5L212.3 410.6L212.6 416.4L212.9 404.7L213.2 406.7L213.5 408.6L213.8 412.5L214.1 408.6L214.3 408.6L214.6 408.6L214.9 414.5L215.2 406.7L215.5 418.4L215.8 404.7L216.1 422.3L216.4 414.5L216.7 418.4L216.9 408.6L217.2 418.4L217.5 402.8L217.8 418.4L218.1 400.8L218.4 408.6L218.7 410.6L219 408.6L219.3 398.9L219.5 404.7L219.8 420.3L220.1 402.8L220.4 408.6L220.7 418.4L221 406.7L221.3 416.4L221.6 410.6L221.9 410.6L222.2 414.5L222.4 408.6L222.7 416.4L223 412.5L223.3 414.5L223.6 414.5L223.9 404.7L224.2 412.5L224.5 418.4L224.8 414.5L225 418.4L225.3 414.5L225.6 414.5L225.9 414.5L226.2 414.5L226.5 416.4L226.8 412.5L227.1 408.6L227.4 416.4L227.7 412.5L227.9 412.5L228.2 406.7L228.5 406.7L228.8 414.5L229.1 412.5L229.4 418.4L229.7 416.4L230 410.6L230.3 408.6L230.5 406.7L230.8 412.5L231.1 416.4L231.4 408.6L231.7 412.5L232 408.6L232.3 410.6L232.6 408.6L232.9 410.6L233.2 408.6L233.4 416.4L233.7 410.6L234 416.4L234.3 414.5L234.6 408.6L234.9 414.5L235.2 420.3L235.5 410.6L235.8 412.5L236 412.5L236.3 414.5L236.6 414.5L236.9 416.4L237.2 418.4L237.5 410.6L237.8 418.4L238.1 418.4L238.4 418.4L238.7 410.6L238.9 412.5L239.2 418.4L239.5 416.4L239.8 414.5L240.1 414.5L240.4 422.3L240.7 414.5L241 418.4L241.3 418.4L241.5 418.4L241.8 412.5L242.1 408.6L242.4 414.5L242.7 412.5L243 418.4L243.3 412.5L243.6 410.6L243.9 420.3L244.1 416.4L244.4 410.6L244.7 420.3L245 414.5L245.3 410.6L245.6 420.3L245.9 414.5L246.2 410.6L246.5 406.7L246.8 416.4L247 404.7L247.3 408.6L247.6 404.7L247.9 404.7L248.2 408.6L248.5 406.7L248.8 418.4L249.1 416.4L249.4 414.5L249.6 410.6L249.9 404.7L250.2 418.4L250.5 410.6L250.8 414.5L251.1 416.4L251.4 398.9L251.7 406.7L252 398.9L252.3 400.8L252.5 412.5L252.8 418.4L253.1 396.9L253.4 410.6L253.7 414.5L254 404.7L254.3 408.6L254.6 412.5L254.9 410.6L255.1 408.6L255.4 410.6L255.7 406.7L256 412.5L256.3 412.5L256.6 408.6L256.9 410.6L257.2 406.7L257.5 412.5L257.8 410.6L258 416.4L258.3 402.8L258.6 416.4L258.9 408.6L259.2 414.5L259.5 408.6L259.8 406.7L260.1 418.4L260.4 410.6L260.6 418.4L260.9 402.8L261.2 412.5L261.5 416.4L261.8 412.5L262.1 402.8L262.4 402.8L262.7 402.8L263 414.5L263.2 410.6L263.5 402.8L263.8 414.5L264.1 412.5L264.4 414.5L264.7 416.4L265 404.7L265.3 408.6L265.6 408.6L265.9 408.6L266.1 406.7L266.4 404.7L266.7 412.5L267 414.5L267.3 416.4L267.6 408.6L267.9 414.5L268.2 418.4L268.5 412.5L268.7 412.5L269 408.6L269.3 406.7L269.6 414.5L269.9 414.5L270.2 412.5L270.5 416.4L270.8 410.6L271.1 408.6L271.4 410.6L271.6 418.4L271.9 416.4L272.2 402.8L272.5 414.5L272.8 404.7L273.1 404.7L273.4 410.6L273.7 412.5L274 406.7L274.2 412.5L274.5 408.6L274.8 406.7L275.1 410.6L275.4 406.7L275.7 408.6L276 412.5L276.3 406.7L276.6 408.6L276.9 416.4L277.1 408.6L277.4 408.6L277.7 412.5L278 420.3L278.3 406.7L278.6 408.6L278.9 410.6L279.2 412.5L279.5 418.4L279.7 412.5L280 416.4L280.3 404.7L280.6 414.5L280.9 410.6L281.2 420.3L281.5 418.4L281.8 414.5L282.1 408.6L282.3 410.6L282.6 410.6L282.9 420.3L283.2 406.7L283.5 416.4L283.8 404.7L284.1 402.8L284.4 408.6L284.7 406.7L285 416.4L285.2 398.9L285.5 410.6L285.8 406.7L286.1 416.4L286.4 412.5L286.7 418.4L287 412.5L287.3 412.5L287.6 412.5L287.8 406.7L288.1 410.6L288.4 412.5L288.7 414.5L289 406.7L289.3 416.4L289.6 410.6L289.9 422.3L290.2 418.4L290.5 414.5L290.7 416.4L291 404.7L291.3 406.7" stroke="#fbd8a8" stroke-width=".7" opacity=".9"/>
<path d="M84.4 422.3L84.7 422.3L85 422.3L85.3 422.3L85.6 422.3L85.8 422.3L86.1 422.3L86.4 422.3L86.7 422.3L87 422.3L87.3 422.3L87.6 422.3L87.9 422.3L88.2 422.3L88.5 422.3L88.7 422.3L89 422.3L89.3 422.3L89.6 422.3L89.9 422.3L90.2 422.3L90.5 422.3L90.8 422.3L91.1 422.3L91.3 422.3L91.6 422.3L91.9 422.3L92.2 422.3L92.5 422.3L92.8 422.3L93.1 422.3L93.4 422.3L93.7 418.4L94 422.3L94.2 422.3L94.5 422.3L94.8 420.3L95.1 420.3L95.4 418.4L95.7 420.3L96 422.3L96.3 418.4L96.6 416.4L96.8 420.3L97.1 420.3L97.4 416.4L97.7 412.5L98 418.4L98.3 422.3L98.6 420.3L98.9 418.4L99.2 422.3L99.4 414.5L99.7 420.3L100 414.5L100.3 416.4L100.6 418.4L100.9 408.6L101.2 418.4L101.5 420.3L101.8 414.5L102.1 412.5L102.3 416.4L102.6 420.3L102.9 412.5L103.2 412.5L103.5 402.8L103.8 416.4L104.1 412.5L104.4 418.4L104.7 422.3L104.9 412.5L105.2 408.6L105.5 420.3L105.8 416.4L106.1 420.3L106.4 402.8L106.7 416.4L107 408.6L107.3 416.4L107.6 410.6L107.8 414.5L108.1 422.3L108.4 410.6L108.7 406.7L109 422.3L109.3 412.5L109.6 414.5L109.9 418.4L110.2 412.5L110.4 422.3L110.7 410.6L111 404.7L111.3 420.3L111.6 412.5L111.9 402.8L112.2 410.6L112.5 414.5L112.8 418.4L113.1 410.6L113.3 412.5L113.6 406.7L113.9 422.3L114.2 402.8L114.5 412.5L114.8 404.7L115.1 414.5L115.4 418.4L115.7 412.5L115.9 416.4L116.2 410.6L116.5 402.8L116.8 398.9L117.1 404.7L117.4 410.6L117.7 410.6L118 402.8L118.3 398.9L118.5 410.6L118.8 408.6L119.1 414.5L119.4 406.7L119.7 400.8L120 422.3L120.3 406.7L120.6 412.5L120.9 422.3L121.2 404.7L121.4 406.7L121.7 402.8L122 416.4L122.3 387.2L122.6 404.7L122.9 406.7L123.2 391.1L123.5 398.9L123.8 396.9L124 393L124.3 422.3L124.6 387.2L124.9 406.7L125.2 398.9L125.5 393L125.8 408.6L126.1 398.9L126.4 393L126.7 400.8L126.9 395L127.2 416.4L127.5 410.6L127.8 410.6L128.1 395L128.4 357.9L128.7 393L129 396.9L129.3 395L129.5 383.3L129.8 385.2L130.1 404.7L130.4 379.4L130.7 391.1L131 381.3L131.3 414.5L131.6 408.6L131.9 383.3L132.2 412.5L132.4 387.2L132.7 387.2L133 391.1L133.3 391.1L133.6 395L133.9 395L134.2 406.7L134.5 404.7L134.8 381.3L135 398.9L135.3 404.7L135.6 408.6L135.9 416.4L136.2 410.6L136.5 414.5L136.8 406.7L137.1 418.4L137.4 422.3L137.6 418.4L137.9 410.6L138.2 398.9L138.5 408.6L138.8 420.3L139.1 414.5L139.4 420.3L139.7 414.5L140 418.4L140.3 422.3L140.5 410.6L140.8 412.5L141.1 414.5L141.4 410.6L141.7 400.8L142 412.5L142.3 416.4L142.6 408.6L142.9 422.3L143.1 408.6L143.4 418.4L143.7 418.4L144 412.5L144.3 402.8L144.6 418.4L144.9 406.7L145.2 410.6L145.5 422.3L145.8 408.6L146 418.4L146.3 422.3L146.6 418.4L146.9 418.4L147.2 410.6L147.5 418.4L147.8 404.7L148.1 412.5L148.4 418.4L148.6 420.3L148.9 414.5L149.2 422.3L149.5 422.3L149.8 420.3L150.1 412.5L150.4 414.5L150.7 416.4L151 416.4L151.3 422.3L151.5 418.4L151.8 422.3L152.1 412.5L152.4 416.4L152.7 418.4L153 416.4L153.3 416.4L153.6 416.4L153.9 416.4L154.1 420.3L154.4 422.3L154.7 416.4L155 412.5L155.3 414.5L155.6 420.3L155.9 416.4L156.2 420.3L156.5 416.4L156.8 420.3L157 418.4L157.3 410.6L157.6 414.5L157.9 412.5L158.2 422.3L158.5 420.3L158.8 418.4L159.1 414.5L159.4 418.4L159.6 412.5L159.9 420.3L160.2 410.6L160.5 412.5L160.8 422.3L161.1 414.5L161.4 418.4L161.7 412.5L162 420.3L162.2 416.4L162.5 414.5L162.8 422.3L163.1 422.3L163.4 416.4L163.7 418.4L164 414.5L164.3 416.4L164.6 422.3L164.9 416.4L165.1 422.3L165.4 420.3L165.7 420.3L166 418.4L166.3 422.3L166.6 422.3L166.9 422.3L167.2 408.6L167.5 422.3L167.7 422.3L168 422.3L168.3 420.3L168.6 418.4L168.9 414.5L169.2 416.4L169.5 414.5L169.8 420.3L170.1 416.4L170.4 410.6L170.6 416.4L170.9 414.5L171.2 422.3L171.5 412.5L171.8 414.5L172.1 408.6L172.4 422.3L172.7 416.4L173 416.4L173.2 416.4L173.5 420.3L173.8 414.5L174.1 412.5L174.4 416.4L174.7 418.4L175 418.4L175.3 418.4L175.6 416.4L175.9 420.3L176.1 422.3L176.4 410.6L176.7 422.3L177 418.4L177.3 422.3L177.6 418.4L177.9 422.3L178.2 418.4L178.5 422.3L178.7 422.3L179 418.4L179.3 414.5L179.6 418.4L179.9 418.4L180.2 422.3L180.5 420.3L180.8 418.4L181.1 422.3L181.3 416.4L181.6 420.3L181.9 418.4L182.2 422.3L182.5 422.3L182.8 418.4L183.1 418.4L183.4 418.4L183.7 422.3L184 422.3L184.2 418.4L184.5 422.3L184.8 414.5L185.1 416.4L185.4 418.4L185.7 422.3L186 414.5L186.3 420.3L186.6 410.6L186.8 416.4L187.1 422.3L187.4 414.5L187.7 420.3L188 420.3L188.3 418.4L188.6 418.4L188.9 416.4L189.2 412.5L189.5 414.5L189.7 420.3L190 422.3L190.3 420.3L190.6 416.4L190.9 414.5L191.2 408.6L191.5 422.3L191.8 418.4L192.1 418.4L192.3 420.3L192.6 418.4L192.9 418.4L193.2 420.3L193.5 420.3L193.8 416.4L194.1 414.5L194.4 412.5L194.7 420.3L195 422.3L195.2 420.3L195.5 422.3L195.8 414.5L196.1 422.3L196.4 418.4L196.7 422.3L197 420.3L197.3 418.4L197.6 412.5L197.8 422.3L198.1 416.4L198.4 422.3L198.7 422.3L199 422.3L199.3 420.3L199.6 416.4L199.9 414.5L200.2 422.3L200.4 414.5L200.7 422.3L201 408.6L201.3 414.5L201.6 416.4L201.9 418.4L202.2 416.4L202.5 416.4L202.8 420.3L203.1 412.5L203.3 414.5L203.6 412.5L203.9 416.4L204.2 412.5L204.5 420.3L204.8 396.9L205.1 420.3L205.4 418.4L205.7 410.6L205.9 410.6L206.2 420.3L206.5 422.3L206.8 422.3L207.1 422.3L207.4 420.3L207.7 418.4L208 412.5L208.3 412.5L208.6 420.3L208.8 414.5L209.1 412.5L209.4 410.6L209.7 418.4L210 420.3L210.3 412.5L210.6 408.6L210.9 418.4L211.2 406.7L211.4 406.7L211.7 418.4L212 422.3L212.3 418.4L212.6 418.4L212.9 412.5L213.2 422.3L213.5 400.8L213.8 402.8L214.1 420.3L214.3 422.3L214.6 416.4L214.9 414.5L215.2 408.6L215.5 412.5L215.8 418.4L216.1 422.3L216.4 414.5L216.7 412.5L216.9 418.4L217.2 416.4L217.5 416.4L217.8 418.4L218.1 422.3L218.4 416.4L218.7 422.3L219 410.6L219.3 422.3L219.5 416.4L219.8 422.3L220.1 416.4L220.4 418.4L220.7 414.5L221 422.3L221.3 422.3L221.6 418.4L221.9 418.4L222.2 422.3L222.4 420.3L222.7 422.3L223 416.4L223.3 418.4L223.6 416.4L223.9 402.8L224.2 416.4L224.5 414.5L224.8 412.5L225 416.4L225.3 420.3L225.6 412.5L225.9 410.6L226.2 422.3L226.5 418.4L226.8 418.4L227.1 420.3L227.4 412.5L227.7 420.3L227.9 414.5L228.2 420.3L228.5 420.3L228.8 416.4L229.1 422.3L229.4 420.3L229.7 422.3L230 422.3L230.3 416.4L230.5 416.4L230.8 422.3L231.1 422.3L231.4 406.7L231.7 420.3L232 422.3L232.3 416.4L232.6 422.3L232.9 420.3L233.2 414.5L233.4 412.5L233.7 418.4L234 410.6L234.3 418.4L234.6 418.4L234.9 416.4L235.2 418.4L235.5 416.4L235.8 416.4L236 422.3L236.3 418.4L236.6 422.3L236.9 422.3L237.2 420.3L237.5 416.4L237.8 420.3L238.1 416.4L238.4 416.4L238.7 422.3L238.9 422.3L239.2 422.3L239.5 420.3L239.8 420.3L240.1 418.4L240.4 422.3L240.7 418.4L241 418.4L241.3 414.5L241.5 420.3L241.8 420.3L242.1 422.3L242.4 422.3L242.7 422.3L243 422.3L243.3 422.3L243.6 422.3L243.9 420.3L244.1 418.4L244.4 418.4L244.7 420.3L245 416.4L245.3 416.4L245.6 422.3L245.9 420.3L246.2 422.3L246.5 422.3L246.8 418.4L247 420.3L247.3 414.5L247.6 412.5L247.9 418.4L248.2 420.3L248.5 420.3L248.8 418.4L249.1 416.4L249.4 422.3L249.6 416.4L249.9 420.3L250.2 414.5L250.5 412.5L250.8 410.6L251.1 418.4L251.4 422.3L251.7 422.3L252 418.4L252.3 422.3L252.5 422.3L252.8 420.3L253.1 422.3L253.4 414.5L253.7 408.6L254 418.4L254.3 416.4L254.6 422.3L254.9 416.4L255.1 420.3L255.4 422.3L255.7 422.3L256 410.6L256.3 422.3L256.6 422.3L256.9 416.4L257.2 416.4L257.5 416.4L257.8 416.4L258 422.3L258.3 414.5L258.6 416.4L258.9 422.3L259.2 408.6L259.5 418.4L259.8 412.5L260.1 422.3L260.4 422.3L260.6 420.3L260.9 420.3L261.2 412.5L261.5 422.3L261.8 416.4L262.1 422.3L262.4 414.5L262.7 416.4L263 420.3L263.2 406.7L263.5 418.4L263.8 412.5L264.1 422.3L264.4 418.4L264.7 416.4L265 416.4L265.3 418.4L265.6 422.3L265.9 422.3L266.1 420.3L266.4 422.3L266.7 418.4L267 414.5L267.3 408.6L267.6 414.5L267.9 412.5L268.2 414.5L268.5 414.5L268.7 414.5L269 418.4L269.3 420.3L269.6 416.4L269.9 410.6L270.2 414.5L270.5 410.6L270.8 422.3L271.1 416.4L271.4 416.4L271.6 416.4L271.9 422.3L272.2 422.3L272.5 422.3L272.8 420.3L273.1 408.6L273.4 418.4L273.7 422.3L274 416.4L274.2 420.3L274.5 418.4L274.8 420.3L275.1 422.3L275.4 420.3L275.7 416.4L276 418.4L276.3 414.5L276.6 422.3L276.9 414.5L277.1 418.4L277.4 418.4L277.7 414.5L278 420.3L278.3 418.4L278.6 416.4L278.9 416.4L279.2 416.4L279.5 414.5L279.7 418.4L280 420.3L280.3 410.6L280.6 420.3L280.9 418.4L281.2 422.3L281.5 422.3L281.8 422.3L282.1 420.3L282.3 418.4L282.6 420.3L282.9 418.4L283.2 416.4L283.5 416.4L283.8 420.3L284.1 420.3L284.4 420.3L284.7 422.3L285 416.4L285.2 422.3L285.5 420.3L285.8 420.3L286.1 422.3L286.4 418.4L286.7 422.3L287 420.3L287.3 420.3L287.6 422.3L287.8 420.3L288.1 420.3L288.4 416.4L288.7 418.4L289 422.3L289.3 416.4L289.6 418.4L289.9 418.4L290.2 418.4L290.5 422.3L290.7 418.4L291 420.3L291.3 410.6" stroke="#efb2a8" stroke-width=".7" opacity=".9"/>
<path d="M134.5 402.8L134.8 404.7L135 408.6L135.3 410.6L135.6 406.7L135.9 404.7L136.2 408.6L136.5 408.6L136.8 408.6L137.1 406.7L137.4 404.7L137.6 408.6L137.9 406.7L138.2 406.7L138.5 408.6L138.8 408.6L139.1 404.7L139.4 406.7L139.7 404.7L140 404.7L140.3 406.7L140.5 404.7L140.8 406.7L141.1 406.7L141.4 404.7L141.7 406.7L142 408.6L142.3 402.8L142.6 404.7L142.9 406.7L143.1 408.6L143.4 404.7L143.7 404.7L144 402.8L144.3 402.8L144.6 404.7L144.9 402.8L145.2 406.7L145.5 404.7L145.8 402.8L146 404.7L146.3 404.7L146.6 402.8L146.9 402.8L147.2 400.8L147.5 404.7L147.8 400.8L148.1 404.7L148.4 404.7L148.6 404.7L148.9 402.8L149.2 402.8L149.5 400.8L149.8 402.8L150.1 398.9L150.4 400.8L150.7 402.8L151 400.8L151.3 400.8L151.5 402.8L151.8 402.8L152.1 402.8L152.4 400.8L152.7 398.9L153 398.9L153.3 400.8L153.6 398.9L153.9 400.8L154.1 398.9L154.4 396.9L154.7 396.9L155 396.9L155.3 400.8L155.6 398.9L155.9 400.8L156.2 396.9L156.5 400.8L156.8 402.8L157 400.8L157.3 398.9L157.6 404.7L157.9 402.8L158.2 398.9L158.5 398.9L158.8 400.8L159.1 402.8L159.4 396.9L159.6 398.9L159.9 398.9L160.2 402.8L160.5 398.9L160.8 398.9L161.1 400.8L161.4 400.8L161.7 400.8L162 398.9L162.2 400.8L162.5 400.8L162.8 402.8L163.1 404.7L163.4 398.9L163.7 396.9L164 398.9L164.3 396.9L164.6 400.8L164.9 400.8L165.1 398.9L165.4 400.8L165.7 396.9L166 402.8L166.3 400.8L166.6 400.8L166.9 400.8L167.2 398.9L167.5 404.7L167.7 398.9L168 398.9L168.3 398.9L168.6 396.9L168.9 395L169.2 398.9L169.5 398.9L169.8 398.9L170.1 398.9L170.4 400.8L170.6 400.8L170.9 398.9L171.2 400.8L171.5 396.9L171.8 396.9L172.1 400.8L172.4 398.9L172.7 398.9L173 398.9L173.2 396.9L173.5 398.9L173.8 396.9L174.1 402.8L174.4 396.9L174.7 400.8L175 398.9L175.3 393L175.6 393L175.9 396.9L176.1 398.9L176.4 395L176.7 396.9L177 395L177.3 398.9L177.6 393L177.9 391.1L178.2 396.9L178.5 396.9L178.7 396.9L179 393L179.3 398.9L179.6 395L179.9 396.9L180.2 396.9L180.5 395L180.8 400.8L181.1 398.9L181.3 398.9L181.6 395L181.9 396.9L182.2 398.9L182.5 396.9L182.8 398.9L183.1 398.9L183.4 398.9L183.7 396.9L184 393L184.2 400.8L184.5 398.9L184.8 398.9L185.1 398.9L185.4 395L185.7 396.9L186 396.9L186.3 400.8L186.6 400.8L186.8 398.9L187.1 398.9L187.4 400.8L187.7 398.9L188 400.8L188.3 400.8L188.6 396.9L188.9 398.9L189.2 398.9L189.5 400.8L189.7 398.9L190 400.8L190.3 396.9L190.6 398.9L190.9 398.9L191.2 396.9L191.5 398.9L191.8 400.8L192.1 396.9L192.3 398.9L192.6 396.9L192.9 398.9L193.2 396.9L193.5 400.8L193.8 402.8L194.1 402.8L194.4 398.9L194.7 402.8L195 402.8L195.2 402.8L195.5 398.9L195.8 398.9L196.1 400.8L196.4 398.9L196.7 398.9L197 396.9L197.3 396.9L197.6 400.8L197.8 398.9L198.1 398.9L198.4 398.9L198.7 398.9L199 398.9L199.3 398.9L199.6 398.9L199.9 398.9L200.2 398.9L200.4 398.9L200.7 396.9L201 396.9L201.3 396.9L201.6 398.9L201.9 398.9L202.2 398.9L202.5 398.9L202.8 402.8L203.1 400.8L203.3 396.9L203.6 398.9L203.9 404.7L204.2 398.9L204.5 398.9L204.8 402.8L205.1 395L205.4 396.9L205.7 398.9L205.9 400.8L206.2 398.9L206.5 398.9L206.8 398.9L207.1 400.8L207.4 398.9L207.7 398.9L208 398.9L208.3 402.8L208.6 398.9L208.8 400.8L209.1 400.8L209.4 400.8L209.7 402.8L210 398.9L210.3 398.9L210.6 402.8L210.9 400.8L211.2 402.8L211.4 400.8L211.7 398.9L212 398.9L212.3 396.9L212.6 400.8L212.9 402.8L213.2 400.8L213.5 404.7L213.8 396.9L214.1 400.8L214.3 398.9L214.6 400.8L214.9 402.8L215.2 400.8L215.5 400.8L215.8 400.8L216.1 398.9L216.4 402.8L216.7 396.9L216.9 402.8L217.2 398.9L217.5 400.8L217.8 402.8L218.1 398.9L218.4 398.9L218.7 400.8L219 400.8L219.3 400.8L219.5 398.9L219.8 400.8L220.1 398.9L220.4 396.9L220.7 402.8L221 400.8L221.3 400.8L221.6 400.8L221.9 402.8L222.2 400.8L222.4 398.9L222.7 398.9L223 402.8L223.3 398.9L223.6 396.9L223.9 398.9L224.2 400.8L224.5 400.8L224.8 395L225 395L225.3 398.9L225.6 400.8L225.9 396.9L226.2 398.9L226.5 395L226.8 400.8L227.1 398.9L227.4 398.9L227.7 396.9L227.9 400.8L228.2 396.9L228.5 398.9L228.8 400.8L229.1 398.9L229.4 398.9L229.7 402.8L230 398.9L230.3 398.9L230.5 398.9L230.8 395L231.1 400.8L231.4 400.8L231.7 402.8L232 402.8L232.3 400.8L232.6 400.8L232.9 400.8L233.2 398.9L233.4 398.9L233.7 398.9L234 400.8L234.3 400.8L234.6 402.8L234.9 400.8L235.2 400.8L235.5 402.8L235.8 406.7L236 402.8L236.3 395L236.6 400.8L236.9 402.8L237.2 400.8L237.5 398.9L237.8 400.8L238.1 400.8L238.4 402.8L238.7 400.8L238.9 402.8L239.2 398.9L239.5 396.9L239.8 398.9L240.1 400.8L240.4 402.8L240.7 402.8L241 398.9L241.3 398.9L241.5 398.9L241.8 398.9L242.1 402.8L242.4 404.7L242.7 398.9L243 400.8L243.3 396.9L243.6 404.7L243.9 402.8L244.1 402.8L244.4 398.9L244.7 398.9L245 400.8L245.3 398.9L245.6 402.8L245.9 400.8L246.2 402.8L246.5 400.8L246.8 400.8L247 398.9L247.3 393L247.6 402.8L247.9 400.8L248.2 398.9L248.5 400.8L248.8 398.9L249.1 402.8L249.4 398.9L249.6 402.8L249.9 398.9L250.2 400.8L250.5 400.8L250.8 402.8L251.1 404.7L251.4 402.8L251.7 400.8L252 402.8L252.3 400.8L252.5 404.7L252.8 400.8L253.1 398.9L253.4 404.7L253.7 400.8L254 396.9L254.3 402.8L254.6 398.9L254.9 400.8L255.1 398.9L255.4 400.8L255.7 402.8L256 400.8L256.3 400.8L256.6 400.8L256.9 402.8L257.2 398.9L257.5 400.8L257.8 402.8L258 402.8L258.3 398.9L258.6 404.7L258.9 398.9L259.2 398.9L259.5 396.9L259.8 400.8L260.1 400.8L260.4 398.9L260.6 398.9L260.9 396.9L261.2 400.8L261.5 400.8L261.8 402.8L262.1 400.8L262.4 400.8L262.7 398.9L263 400.8L263.2 396.9L263.5 398.9L263.8 402.8L264.1 402.8L264.4 400.8L264.7 400.8L265 402.8L265.3 398.9L265.6 398.9L265.9 398.9L266.1 400.8L266.4 400.8L266.7 400.8L267 402.8L267.3 400.8L267.6 402.8L267.9 398.9L268.2 406.7L268.5 398.9L268.7 398.9L269 400.8L269.3 400.8L269.6 400.8L269.9 398.9L270.2 396.9L270.5 400.8L270.8 396.9L271.1 400.8L271.4 398.9L271.6 398.9L271.9 402.8L272.2 398.9L272.5 400.8L272.8 398.9L273.1 400.8L273.4 402.8L273.7 402.8L274 398.9L274.2 398.9L274.5 398.9L274.8 400.8L275.1 396.9L275.4 400.8L275.7 398.9L276 396.9L276.3 398.9L276.6 402.8L276.9 396.9L277.1 398.9L277.4 398.9L277.7 396.9L278 400.8L278.3 396.9L278.6 398.9L278.9 393L279.2 402.8L279.5 398.9L279.7 396.9L280 396.9L280.3 398.9L280.6 398.9L280.9 395L281.2 398.9L281.5 396.9L281.8 398.9L282.1 396.9L282.3 400.8L282.6 398.9L282.9 398.9L283.2 398.9L283.5 395L283.8 396.9L284.1 396.9L284.4 398.9L284.7 395L285 398.9L285.2 398.9L285.5 400.8L285.8 400.8L286.1 396.9L286.4 398.9L286.7 402.8L287 398.9L287.3 398.9L287.6 400.8L287.8 398.9L288.1 398.9L288.4 398.9L288.7 396.9L289 400.8L289.3 396.9L289.6 400.8L289.9 400.8L290.2 396.9L290.5 398.9L290.7 400.8L291 400.8L291.3 398.9" stroke="#d6e4e0" stroke-width=".7" opacity=".9"/>
<path d="M84.4 422.3L84.7 422.3L85 422.3L85.3 422.3L85.6 422.3L85.8 422.3L86.1 422.3L86.4 422.3L86.7 422.3L87 422.3L87.3 422.3L87.6 422.3L87.9 422.3L88.2 422.3L88.5 422.3L88.7 422.3L89 422.3L89.3 422.3L89.6 422.3L89.9 422.3L90.2 422.3L90.5 422.3L90.8 422.3L91.1 422.3L91.3 422.3L91.6 422.3L91.9 422.3L92.2 422.3L92.5 422.3L92.8 422.3L93.1 422.3L93.4 422.3L93.7 422.3L94 422.3L94.2 422.3L94.5 422.3L94.8 422.3L95.1 422.3L95.4 422.3L95.7 422.3L96 422.3L96.3 422.3L96.6 422.3L96.8 422.3L97.1 422.3L97.4 422.3L97.7 422.3L98 422.3L98.3 422.3L98.6 422.3L98.9 422.3L99.2 422.3L99.4 422.3L99.7 422.3L100 422.3L100.3 422.3L100.6 422.3L100.9 422.3L101.2 422.3L101.5 422.3L101.8 422.3L102.1 422.3L102.3 422.3L102.6 422.3L102.9 422.3L103.2 422.3L103.5 422.3L103.8 422.3L104.1 422.3L104.4 422.3L104.7 422.3L104.9 422.3L105.2 422.3L105.5 422.3L105.8 422.3L106.1 422.3L106.4 422.3L106.7 422.3L107 422.3L107.3 422.3L107.6 422.3L107.8 422.3L108.1 422.3L108.4 422.3L108.7 422.3L109 422.3L109.3 422.3L109.6 422.3L109.9 422.3L110.2 422.3L110.4 422.3L110.7 422.3L111 422.3L111.3 422.3L111.6 422.3L111.9 422.3L112.2 422.3L112.5 422.3L112.8 422.3L113.1 422.3L113.3 422.3L113.6 422.3L113.9 422.3L114.2 422.3L114.5 422.3L114.8 422.3L115.1 422.3L115.4 422.3L115.7 422.3L115.9 422.3L116.2 422.3L116.5 422.3L116.8 422.3L117.1 422.3L117.4 422.3L117.7 422.3L118 422.3L118.3 422.3L118.5 422.3L118.8 422.3L119.1 422.3L119.4 422.3L119.7 422.3L120 422.3L120.3 422.3L120.6 422.3L120.9 422.3L121.2 422.3L121.4 422.3L121.7 422.3L122 422.3L122.3 422.3L122.6 422.3L122.9 422.3L123.2 422.3L123.5 422.3L123.8 422.3L124 422.3L124.3 422.3L124.6 422.3L124.9 422.3L125.2 422.3L125.5 422.3L125.8 422.3L126.1 422.3L126.4 422.3L126.7 422.3L126.9 422.3L127.2 422.3L127.5 422.3L127.8 422.3L128.1 422.3L128.4 422.3L128.7 422.3L129 422.3L129.3 422.3L129.5 422.3L129.8 422.3L130.1 422.3L130.4 422.3L130.7 422.3L131 422.3L131.3 420.3L131.6 422.3L131.9 422.3L132.2 420.3L132.4 420.3L132.7 418.4L133 418.4L133.3 416.4L133.6 416.4L133.9 414.5L134.2 412.5L134.5 410.6L134.8 408.6L135 406.7L135.3 404.7L135.6 402.8L135.9 406.7L136.2 402.8L136.5 402.8L136.8 404.7L137.1 406.7L137.4 400.8L137.6 402.8L137.9 400.8L138.2 402.8L138.5 402.8L138.8 404.7L139.1 402.8L139.4 404.7L139.7 402.8L140 400.8L140.3 402.8L140.5 400.8L140.8 398.9L141.1 398.9L141.4 398.9L141.7 395L142 396.9L142.3 395L142.6 396.9L142.9 393L143.1 393L143.4 395L143.7 396.9L144 393L144.3 393L144.6 393L144.9 393L145.2 389.1L145.5 391.1L145.8 391.1L146 389.1L146.3 389.1L146.6 391.1L146.9 387.2L147.2 389.1L147.5 387.2L147.8 389.1L148.1 387.2L148.4 385.2L148.6 385.2L148.9 385.2L149.2 385.2L149.5 385.2L149.8 385.2L150.1 385.2L150.4 385.2L150.7 381.3L151 387.2L151.3 383.3L151.5 387.2L151.8 383.3L152.1 381.3L152.4 387.2L152.7 379.4L153 385.2L153.3 385.2L153.6 381.3L153.9 383.3L154.1 379.4L154.4 379.4L154.7 385.2L155 383.3L155.3 381.3L155.6 377.4L155.9 381.3L156.2 379.4L156.5 375.5L156.8 379.4L157 375.5L157.3 379.4L157.6 373.5L157.9 371.6L158.2 377.4L158.5 379.4L158.8 379.4L159.1 371.6L159.4 375.5L159.6 371.6L159.9 377.4L160.2 375.5L160.5 375.5L160.8 373.5L161.1 377.4L161.4 379.4L161.7 377.4L162 377.4L162.2 377.4L162.5 379.4L162.8 379.4L163.1 379.4L163.4 385.2L163.7 379.4L164 377.4L164.3 377.4L164.6 381.3L164.9 381.3L165.1 375.5L165.4 379.4L165.7 377.4L166 375.5L166.3 377.4L166.6 377.4L166.9 373.5L167.2 379.4L167.5 373.5L167.7 377.4L168 377.4L168.3 377.4L168.6 377.4L168.9 375.5L169.2 377.4L169.5 379.4L169.8 373.5L170.1 377.4L170.4 377.4L170.6 373.5L170.9 373.5L171.2 375.5L171.5 375.5L171.8 373.5L172.1 369.6L172.4 375.5L172.7 377.4L173 375.5L173.2 371.6L173.5 373.5L173.8 375.5L174.1 371.6L174.4 371.6L174.7 373.5L175 371.6L175.3 373.5L175.6 373.5L175.9 373.5L176.1 375.5L176.4 371.6L176.7 371.6L177 371.6L177.3 369.6L177.6 369.6L177.9 371.6L178.2 369.6L178.5 369.6L178.7 363.8L179 371.6L179.3 365.7L179.6 363.8L179.9 367.7L180.2 367.7L180.5 365.7L180.8 367.7L181.1 359.9L181.3 363.8L181.6 365.7L181.9 363.8L182.2 359.9L182.5 361.8L182.8 361.8L183.1 359.9L183.4 363.8L183.7 361.8L184 359.9L184.2 363.8L184.5 361.8L184.8 363.8L185.1 356L185.4 363.8L185.7 359.9L186 365.7L186.3 365.7L186.6 363.8L186.8 363.8L187.1 363.8L187.4 363.8L187.7 359.9L188 356L188.3 356L188.6 359.9L188.9 356L189.2 356L189.5 361.8L189.7 359.9L190 357.9L190.3 352.1L190.6 357.9L190.9 357.9L191.2 354L191.5 357.9L191.8 356L192.1 354L192.3 356L192.6 361.8L192.9 357.9L193.2 352.1L193.5 357.9L193.8 350.1L194.1 354L194.4 352.1L194.7 352.1L195 357.9L195.2 354L195.5 356L195.8 352.1L196.1 348.2L196.4 354L196.7 352.1L197 357.9L197.3 354L197.6 354L197.8 352.1L198.1 350.1L198.4 348.2L198.7 352.1L199 352.1L199.3 356L199.6 350.1L199.9 352.1L200.2 357.9L200.4 352.1L200.7 356L201 350.1L201.3 352.1L201.6 354L201.9 350.1L202.2 356L202.5 356L202.8 356L203.1 356L203.3 357.9L203.6 354L203.9 356L204.2 357.9L204.5 361.8L204.8 354L205.1 352.1L205.4 352.1L205.7 352.1L205.9 348.2L206.2 352.1L206.5 348.2L206.8 352.1L207.1 354L207.4 350.1L207.7 350.1L208 348.2L208.3 342.3L208.6 346.2L208.8 344.3L209.1 340.4L209.4 340.4L209.7 346.2L210 348.2L210.3 340.4L210.6 350.1L210.9 352.1L211.2 352.1L211.4 344.3L211.7 352.1L212 348.2L212.3 348.2L212.6 344.3L212.9 350.1L213.2 346.2L213.5 344.3L213.8 340.4L214.1 346.2L214.3 344.3L214.6 344.3L214.9 340.4L215.2 340.4L215.5 344.3L215.8 340.4L216.1 346.2L216.4 340.4L216.7 344.3L216.9 342.3L217.2 336.5L217.5 332.6L217.8 338.4L218.1 338.4L218.4 340.4L218.7 336.5L219 338.4L219.3 334.5L219.5 332.6L219.8 334.5L220.1 336.5L220.4 332.6L220.7 336.5L221 340.4L221.3 330.6L221.6 328.7L221.9 328.7L222.2 334.5L222.4 344.3L222.7 336.5L223 332.6L223.3 334.5L223.6 328.7L223.9 336.5L224.2 332.6L224.5 334.5L224.8 334.5L225 338.4L225.3 334.5L225.6 334.5L225.9 336.5L226.2 338.4L226.5 336.5L226.8 338.4L227.1 334.5L227.4 332.6L227.7 334.5L227.9 334.5L228.2 336.5L228.5 334.5L228.8 340.4L229.1 334.5L229.4 332.6L229.7 336.5L230 332.6L230.3 340.4L230.5 334.5L230.8 334.5L231.1 332.6L231.4 334.5L231.7 326.7L232 344.3L232.3 338.4L232.6 334.5L232.9 330.6L233.2 332.6L233.4 332.6L233.7 334.5L234 332.6L234.3 330.6L234.6 322.8L234.9 328.7L235.2 316.9L235.5 322.8L235.8 324.8L236 320.8L236.3 320.8L236.6 326.7L236.9 326.7L237.2 316.9L237.5 324.8L237.8 318.9L238.1 320.8L238.4 328.7L238.7 320.8L238.9 320.8L239.2 318.9L239.5 324.8L239.8 322.8L240.1 322.8L240.4 324.8L240.7 318.9L241 322.8L241.3 318.9L241.5 322.8L241.8 318.9L242.1 326.7L242.4 324.8L242.7 318.9L243 322.8L243.3 322.8L243.6 320.8L243.9 324.8L244.1 318.9L244.4 316.9L244.7 320.8L245 322.8L245.3 311.1L245.6 315L245.9 320.8L246.2 318.9L246.5 320.8L246.8 320.8L247 320.8L247.3 316.9L247.6 313L247.9 311.1L248.2 313L248.5 309.1L248.8 311.1L249.1 316.9L249.4 316.9L249.6 313L249.9 311.1L250.2 311.1L250.5 318.9L250.8 320.8L251.1 307.2L251.4 316.9L251.7 311.1L252 315L252.3 320.8L252.5 311.1L252.8 315L253.1 311.1L253.4 313L253.7 318.9L254 315L254.3 311.1L254.6 316.9L254.9 315L255.1 311.1L255.4 318.9L255.7 315L256 313L256.3 311.1L256.6 315L256.9 316.9L257.2 311.1L257.5 315L257.8 311.1L258 311.1L258.3 313L258.6 309.1L258.9 309.1L259.2 316.9L259.5 311.1L259.8 313L260.1 313L260.4 311.1L260.6 307.2L260.9 313L261.2 313L261.5 315L261.8 311.1L262.1 311.1L262.4 315L262.7 311.1L263 309.1L263.2 305.2L263.5 311.1L263.8 303.3L264.1 307.2L264.4 307.2L264.7 307.2L265 309.1L265.3 311.1L265.6 307.2L265.9 307.2L266.1 305.2L266.4 299.4L266.7 297.4L267 303.3L267.3 301.3L267.6 305.2L267.9 311.1L268.2 303.3L268.5 301.3L268.7 295.5L269 293.5L269.3 301.3L269.6 297.4L269.9 297.4L270.2 301.3L270.5 299.4L270.8 301.3L271.1 297.4L271.4 307.2L271.6 311.1L271.9 303.3L272.2 301.3L272.5 299.4L272.8 307.2L273.1 303.3L273.4 307.2L273.7 303.3L274 307.2L274.2 309.1L274.5 301.3L274.8 311.1L275.1 311.1L275.4 303.3L275.7 305.2L276 315L276.3 303.3L276.6 311.1L276.9 307.2L277.1 305.2L277.4 295.5L277.7 303.3L278 299.4L278.3 301.3L278.6 297.4L278.9 305.2L279.2 297.4L279.5 299.4L279.7 299.4L280 293.5L280.3 291.6L280.6 293.5L280.9 297.4L281.2 293.5L281.5 299.4L281.8 295.5L282.1 293.5L282.3 297.4L282.6 297.4L282.9 295.5L283.2 299.4L283.5 297.4L283.8 293.5L284.1 303.3L284.4 291.6L284.7 293.5L285 293.5L285.2 299.4L285.5 295.5L285.8 295.5L286.1 289.6L286.4 289.6L286.7 287.7L287 291.6L287.3 299.4L287.6 293.5L287.8 291.6L288.1 287.7L288.4 295.5L288.7 289.6L289 287.7L289.3 289.6L289.6 287.7L289.9 277.9L290.2 285.7L290.5 277.9L290.7 283.8L291 287.7L291.3 281.8" stroke="#cdbbe2" stroke-width=".7" opacity=".9"/>
<path d="M84.4 422.3L96 342.3L98.9 342.3L98.9 340.4L101.8 340.4L101.8 338.4L104.7 338.4L104.7 336.5L107.6 336.5L107.6 334.5L110.4 334.5L110.4 332.6L113.3 332.6L113.3 330.6L116.2 330.6L116.2 328.7L119.1 328.7L119.1 326.7L122 326.7L122 324.8L124.9 324.8L124.9 322.8L127.8 322.8L127.8 320.8L130.7 320.8L130.7 318.9L133.6 318.9L133.6 316.9L136.5 316.9L136.5 315L139.4 315L139.4 313L142.3 313L142.3 311.1L145.2 311.1L145.2 309.1L148.1 309.1L148.1 307.2L151 307.2L151 305.2L153.9 305.2L153.9 303.3L156.8 303.3L156.8 301.3L159.6 301.3L159.6 299.4L162.5 299.4L162.5 297.4L165.4 297.4L165.4 295.5L168.3 295.5L168.3 293.5L171.2 293.5L171.2 291.6L174.1 291.6L174.1 289.6L177 289.6L177 287.7L179.9 287.7L179.9 285.7L182.8 285.7L182.8 283.8L185.7 283.8L185.7 281.8L188.6 281.8L188.6 279.9L191.5 279.9L191.5 277.9L194.4 277.9L194.4 276L197.3 276L197.3 274L200.2 274L200.2 272.1L203.1 272.1L203.1 270.1" stroke="#111" stroke-width="1.3"/>
<path d="M84.4 421.1L84.8 419.2L85.3 416.8L85.7 414L86.1 411.2L86.6 408.5L87 405.7L87.4 402.9L87.9 400.2L88.3 397.4L88.7 394.6L89.2 391.9L89.6 389.1L90 386.3L90.5 383.6L90.9 380.8L91.3 378L91.8 375.4L92.2 373.2L92.6 371.7L93.1 370.7L93.5 370.4L94 370.5L94.4 371L94.8 371.9L95.3 372.9L95.7 373.8L96.1 374.6L96.6 375.3L97 375.9L97.4 376.5L97.9 377L98.3 377.6L98.7 378.1L99.2 378.4L99.6 378.7L100 378.9L100.5 379.1L100.9 379.3L101.3 379.5L101.8 379.7L102.2 379.9L102.6 380.1L103.1 380.3L103.5 380.4L103.9 380.5L104.4 380.6L104.8 380.7L105.2 380.8L105.7 380.9L106.1 381L106.5 381.1L107 381.2L107.4 381.3L107.8 381.4L108.3 381.6L108.7 381.7L109.1 381.9L109.6 382L110 382.2L110.4 382.4L110.9 382.8L111.3 383.2L111.7 383.6L112.2 384.1L112.6 384.5L113.1 384.9L113.5 385.1L113.9 385.3L114.4 385.5L114.8 385.6L115.2 385.7L115.7 385.8L116.1 385.8L116.5 385.9L117 386L117.4 386.1L117.8 386.1L118.3 386.1L118.7 386.1L119.1 386.1L119.6 386L120 386L120.4 385.9L120.9 385.9L121.3 385.8L121.7 385.8L122.2 385.8L122.6 385.7L123 385.7L123.5 385.7L123.9 385.7L124.3 385.8L124.8 385.9L125.2 386L125.6 386.1L126.1 386.1L126.5 386.2L126.9 386.3L127.4 386.4L127.8 386.5L128.2 386.6L128.7 386.7L129.1 386.8L129.5 386.9L130 386.9L130.4 387L130.8 387.1L131.3 387.2L131.7 387.3L132.2 387.4L132.6 387.3L133 387.1L133.5 386.7L133.9 386.1L134.3 385.5L134.8 384.8L135.2 384.2L135.6 383.6L136.1 383L136.5 382.5L136.9 382.2L137.4 382.1L137.8 382L138.2 381.8L138.7 381.7L139.1 381.6L139.5 381.5L140 381.4L140.4 381.3L140.8 381.1L141.3 381L141.7 380.9L142.1 380.8L142.6 380.7L143 380.6L143.4 380.5L143.9 380.4L144.3 380.3L144.7 380.2L145.2 380.1L145.6 380L146 379.9L146.5 379.8L146.9 379.7L147.3 379.5L147.8 379.4L148.2 379.3L148.6 379.1L149.1 379L149.5 378.8L149.9 378.6L150.4 378.3L150.8 378.1L151.3 377.9L151.7 377.6L152.1 377.5L152.6 377.4L153 377.5L153.4 377.7L153.9 377.9L154.3 378.1L154.7 378.3L155.2 378.5L155.6 378.7L156 378.9L156.5 379.1L156.9 379.3L157.3 379.4L157.8 379.6L158.2 379.8L158.6 380L159.1 380.1L159.5 380.3L159.9 380.5L160.4 380.5L160.8 380.5L161.2 380.3L161.7 380.1L162.1 379.8L162.5 379.6L163 379.3L163.4 379.1L163.8 378.8L164.3 378.6L164.7 378.3L165.1 378.1L165.6 377.9L166 377.9L166.4 378L166.9 378.2L167.3 378.5L167.7 378.7L168.2 379L168.6 379.2L169 379.5L169.5 379.7L169.9 380L170.4 380.2L170.8 380.4L171.2 380.6L171.7 380.6L172.1 380.5L172.5 380.3L173 380.2L173.4 380.1L173.8 379.9L174.3 379.8L174.7 379.7L175.1 379.5L175.6 379.4L176 379.2L176.4 379.1L176.9 379L177.3 378.9L177.7 379L178.2 379.1L178.6 379.2L179 379.3L179.5 379.5L179.9 379.6L180.3 379.8L180.8 379.9L181.2 380.1L181.6 380.2L182.1 380.4L182.5 380.5L182.9 380.7L183.4 380.8L183.8 381L184.2 381.1L184.7 381.3L185.1 381.4L185.5 381.6L186 381.7L186.4 381.9L186.8 382L187.3 382.2L187.7 382.3L188.1 382.4L188.6 382.3L189 382.2L189.5 382.1L189.9 382L190.3 381.9L190.8 381.7L191.2 381.6L191.6 381.5L192.1 381.4L192.5 381.2L192.9 381.1L193.4 381L193.8 380.9L194.2 380.7L194.7 380.6L195.1 380.5L195.5 380.5L196 380.5L196.4 380.7L196.8 380.8L197.3 381L197.7 381.1L198.1 381.2L198.6 381.4L199 381.5L199.4 381.7L199.9 381.8L200.3 382L200.7 382.1L201.2 382.3L201.6 382.4L202 382.6L202.5 382.7L202.9 382.7L203.3 382.5L203.8 382.2L204.2 381.9L204.6 381.6L205.1 381.3L205.5 381L205.9 380.6L206.4 380.3L206.8 380.1L207.3 380L207.7 380.1L208.1 380.2L208.6 380.4L209 380.6L209.4 380.8L209.9 380.9L210.3 381.1L210.7 381.3L211.2 381.5L211.6 381.7L212 381.9L212.5 382.1L212.9 382.2L213.3 382.3L213.8 382.3L214.2 382.1L214.6 381.9L215.1 381.7L215.5 381.4L215.9 381.2L216.4 381L216.8 380.8L217.2 380.5L217.7 380.3L218.1 380.1L218.5 379.9L219 379.6L219.4 379.4L219.8 379.3L220.3 379.4L220.7 379.4L221.1 379.6L221.6 379.7L222 379.8L222.4 380L222.9 380.1L223.3 380.2L223.7 380.4L224.2 380.5L224.6 380.6L225 380.8L225.5 380.9L225.9 381L226.4 381L226.8 381L227.2 380.9L227.7 380.8L228.1 380.7L228.5 380.7L229 380.6L229.4 380.5L229.8 380.4L230.3 380.3L230.7 380.2L231.1 380.1L231.6 380L232 379.9L232.4 379.9L232.9 379.8L233.3 379.7L233.7 379.6L234.2 379.5L234.6 379.4L235 379.4L235.5 379.3L235.9 379.3L236.3 379.2L236.8 379.2L237.2 379.2L237.6 379.1L238.1 379.1L238.5 379L238.9 379L239.4 379L239.8 378.9L240.2 378.9L240.7 378.9L241.1 378.9L241.5 379.1L242 379.3L242.4 379.6L242.8 379.8L243.3 380.1L243.7 380.3L244.1 380.6L244.6 380.9L245 381.1L245.5 381.4L245.9 381.6L246.3 381.9L246.8 382.1L247.2 382.3L247.6 382.4L248.1 382.4L248.5 382.4L248.9 382.3L249.4 382.3L249.8 382.2L250.2 382.1L250.7 382.1L251.1 382L251.5 382L252 381.9L252.4 381.9L252.8 381.8L253.3 381.8L253.7 381.7L254.1 381.6L254.6 381.5L255 381.3L255.4 381.2L255.9 381.1L256.3 380.9L256.7 380.8L257.2 380.7L257.6 380.5L258 380.4L258.5 380.3L258.9 380.1L259.3 380L259.8 379.9L260.2 379.9L260.6 379.9L261.1 379.9L261.5 380L261.9 380.1L262.4 380.1L262.8 380.2L263.2 380.3L263.7 380.3L264.1 380.4L264.6 380.5L265 380.6L265.4 380.6L265.9 380.7L266.3 380.8L266.7 380.8L267.2 380.9L267.6 381L268 381L268.5 381.1L268.9 381.2L269.3 381.3L269.8 381.3L270.2 381.4L270.6 381.5L271.1 381.5L271.5 381.6L271.9 381.7L272.4 381.7L272.8 381.8L273.2 381.9L273.7 382L274.1 382L274.5 382.1L275 382.2L275.4 382.2L275.8 382.3L276.3 382.4L276.7 382.4L277.1 382.3L277.6 382.1L278 381.8L278.4 381.6L278.9 381.3L279.3 381L279.7 380.7L280.2 380.5L280.6 380.2L281 379.9L281.5 379.6L281.9 379.3L282.3 379.1L282.8 378.8L283.2 378.7L283.7 378.7L284.1 378.8L284.5 379L285 379.3L285.4 379.5L285.8 379.8L286.3 380L286.7 380.3L287.1 380.5L287.6 380.6L288 380.7L288.4 380.7L288.9 380.7L289.3 380.7L289.7 380.7L290.2 380.7L290.6 380.7L291 380.7" stroke="#3b8fd0" stroke-width="1.45"/>
<path d="M84.4 422.3L84.8 422.3L85.3 422.3L85.7 422.3L86.1 422.3L86.6 422.3L87 422.3L87.4 422.3L87.9 422.3L88.3 422.3L88.7 422.2L89.2 422L89.6 421.7L90 421.4L90.5 421.1L90.9 420.8L91.3 420.1L91.8 418.9L92.2 417.1L92.6 414.9L93.1 412.5L93.5 410.2L94 407.8L94.4 405.3L94.8 402.7L95.3 399.8L95.7 396.9L96.1 394.2L96.6 392L97 390.5L97.4 389.8L97.9 389.4L98.3 389.1L98.7 388.9L99.2 388.8L99.6 388.7L100 388.7L100.5 388.6L100.9 388.6L101.3 388.5L101.8 388.4L102.2 388.2L102.6 387.8L103.1 387.5L103.5 387.1L103.9 386.8L104.4 386.4L104.8 385.9L105.2 385.4L105.7 384.8L106.1 384.3L106.5 383.7L107 383.1L107.4 382.8L107.8 382.7L108.3 382.8L108.7 383L109.1 383.2L109.6 383.3L110 383L110.4 382.6L110.9 382L111.3 381.3L111.7 380.7L112.2 380.1L112.6 379.6L113.1 379.2L113.5 379L113.9 378.8L114.4 378.6L114.8 378.4L115.2 378.3L115.7 378.1L116.1 377.9L116.5 377.8L117 377.7L117.4 377.7L117.8 377.6L118.3 377.5L118.7 377.4L119.1 377.2L119.6 376.8L120 376.3L120.4 375.8L120.9 375.3L121.3 375.1L121.7 375.3L122.2 376L122.6 377L123 378.2L123.5 379.3L123.9 380.2L124.3 380.7L124.8 380.7L125.2 380.4L125.6 380.1L126.1 379.7L126.5 379.4L126.9 379.3L127.4 379.7L127.8 380.3L128.2 381.2L128.7 382L129.1 382.8L129.5 383.4L130 383.9L130.4 384.3L130.8 384.8L131.3 385.4L131.7 386.2L132.2 387.2L132.6 388.4L133 389.6L133.5 390.9L133.9 392.4L134.3 394L134.8 395.8L135.2 397.3L135.6 398.4L136.1 398.8L136.5 398.6L136.9 397.9L137.4 397.2L137.8 396.4L138.2 396L138.7 396.2L139.1 397.2L139.5 398.9L140 400.8L140.4 402.6L140.8 404.1L141.3 405L141.7 405.7L142.1 406.1L142.6 406.6L143 406.9L143.4 407.2L143.9 407.3L144.3 407.4L144.7 407.6L145.2 407.8L145.6 408.1L146 408.4L146.5 408.8L146.9 409.2L147.3 409.5L147.8 409.8L148.2 409.9L148.6 409.9L149.1 409.7L149.5 409.5L149.9 409.5L150.4 409.7L150.8 410L151.3 410.3L151.7 410.7L152.1 411.1L152.6 411.5L153 411.8L153.4 412.2L153.9 412.6L154.3 413L154.7 413.3L155.2 413.7L155.6 414.1L156 414.4L156.5 414.8L156.9 415.1L157.3 415.4L157.8 415.7L158.2 416L158.6 416.3L159.1 416.4L159.5 416.3L159.9 415.8L160.4 415.1L160.8 414.2L161.2 413.3L161.7 412.4L162.1 411.5L162.5 410.6L163 409.8L163.4 409.1L163.8 408.7L164.3 408.6L164.7 408.8L165.1 409L165.6 409.2L166 409.4L166.4 409.7L166.9 409.9L167.3 410L167.7 410.1L168.2 409.9L168.6 409.5L169 409L169.5 408.5L169.9 407.9L170.4 407.4L170.8 406.9L171.2 406.4L171.7 405.9L172.1 405.6L172.5 405.4L173 405.5L173.4 405.7L173.8 405.9L174.3 406.2L174.7 406.4L175.1 406.6L175.6 406.8L176 407.1L176.4 407.5L176.9 408L177.3 408.7L177.7 409.4L178.2 410.1L178.6 410.8L179 411.5L179.5 412.2L179.9 412.9L180.3 413.6L180.8 414.3L181.2 414.8L181.6 415.1L182.1 415.1L182.5 414.7L182.9 414.2L183.4 413.7L183.8 413.2L184.2 412.8L184.7 412.3L185.1 411.8L185.5 411.3L186 410.8L186.4 410.3L186.8 409.9L187.3 409.4L187.7 408.9L188.1 408.4L188.6 408L189 407.8L189.5 407.9L189.9 408.2L190.3 408.8L190.8 409.3L191.2 409.9L191.6 410.4L192.1 410.8L192.5 410.9L192.9 410.7L193.4 410.4L193.8 410L194.2 409.5L194.7 409.1L195.1 408.7L195.5 408.3L196 407.9L196.4 407.4L196.8 407L197.3 406.6L197.7 406.3L198.1 405.9L198.6 405.6L199 405.4L199.4 405.1L199.9 404.8L200.3 404.5L200.7 404.3L201.2 404L201.6 403.7L202 403.4L202.5 403.1L202.9 402.9L203.3 402.7L203.8 402.7L204.2 403.1L204.6 403.8L205.1 404.7L205.5 405.7L205.9 406.6L206.4 407.6L206.8 408.5L207.3 409.5L207.7 410.3L208.1 410.7L208.6 410.7L209 410.4L209.4 409.9L209.9 409.3L210.3 408.8L210.7 408.3L211.2 407.8L211.6 407.3L212 406.9L212.5 406.8L212.9 407.1L213.3 407.6L213.8 408.2L214.2 408.9L214.6 409.5L215.1 410.2L215.5 410.8L215.9 411.4L216.4 411.9L216.8 412L217.2 411.9L217.7 411.5L218.1 411L218.5 410.6L219 410.1L219.4 409.8L219.8 409.6L220.3 409.8L220.7 410.1L221.1 410.6L221.6 411L222 411.5L222.4 412L222.9 412.4L223.3 412.9L223.7 413.3L224.2 413.8L224.6 414.2L225 414.4L225.5 414.3L225.9 414.1L226.4 413.8L226.8 413.5L227.2 413.2L227.7 412.9L228.1 412.6L228.5 412.3L229 412.1L229.4 411.8L229.8 411.5L230.3 411.2L230.7 410.9L231.1 410.8L231.6 411L232 411.4L232.4 412L232.9 412.7L233.3 413.4L233.7 414.1L234.2 414.7L234.6 415.2L235 415.6L235.5 415.8L235.9 415.9L236.3 416L236.8 416L237.2 416.1L237.6 416.2L238.1 416.3L238.5 416.4L238.9 416.4L239.4 416.5L239.8 416.6L240.2 416.7L240.7 416.7L241.1 416.6L241.5 416.3L242 415.9L242.4 415.5L242.8 415L243.3 414.6L243.7 414.1L244.1 413.7L244.6 413.2L245 412.7L245.5 412.3L245.9 411.8L246.3 411.4L246.8 411.1L247.2 410.7L247.6 410.4L248.1 410L248.5 409.7L248.9 409.4L249.4 409L249.8 408.7L250.2 408.4L250.7 408.1L251.1 407.8L251.5 407.6L252 407.7L252.4 407.9L252.8 408.2L253.3 408.5L253.7 408.9L254.1 409.2L254.6 409.6L255 409.9L255.4 410.2L255.9 410.6L256.3 410.9L256.7 411.1L257.2 411.1L257.6 411.1L258 410.9L258.5 410.7L258.9 410.6L259.3 410.4L259.8 410.2L260.2 410L260.6 409.9L261.1 409.7L261.5 409.5L261.9 409.4L262.4 409.5L262.8 409.6L263.2 409.9L263.7 410.1L264.1 410.4L264.6 410.7L265 411L265.4 411.3L265.9 411.5L266.3 411.8L266.7 412.1L267.2 412.2L267.6 412.3L268 412.1L268.5 411.9L268.9 411.6L269.3 411.4L269.8 411.1L270.2 410.8L270.6 410.6L271.1 410.3L271.5 410L271.9 409.8L272.4 409.5L272.8 409.1L273.2 408.7L273.7 408.3L274.1 407.8L274.5 407.3L275 406.9L275.4 406.4L275.8 406L276.3 405.9L276.7 406.2L277.1 407.1L277.6 408.4L278 409.8L278.4 411.1L278.9 412.2L279.3 413L279.7 413.2L280.2 413.2L280.6 413L281 412.9L281.5 412.7L281.9 412.6L282.3 412.4L282.8 412.3L283.2 412.2L283.7 412L284.1 411.9L284.5 411.7L285 411.6L285.4 411.6L285.8 411.7L286.3 411.9L286.7 412.2L287.1 412.6L287.6 412.9L288 413.2L288.4 413.6L288.9 413.9L289.3 414.2L289.7 414.5L290.2 414.9L290.6 415.2L291 415.4" stroke="#f5a52a" stroke-width="1.45"/>
<path d="M84.4 422.3L84.8 422.3L85.3 422.3L85.7 422.3L86.1 422.3L86.6 422.3L87 422.3L87.4 422.3L87.9 422.3L88.3 422.3L88.7 422.3L89.2 422.3L89.6 422.3L90 422.3L90.5 422.3L90.9 422.3L91.3 422.3L91.8 422.3L92.2 422.3L92.6 422.3L93.1 422.2L93.5 422L94 421.7L94.4 421.4L94.8 421.1L95.3 420.8L95.7 420.5L96.1 420.2L96.6 419.9L97 419.5L97.4 419.2L97.9 418.8L98.3 418.5L98.7 418.2L99.2 417.8L99.6 417.6L100 417.3L100.5 417L100.9 416.7L101.3 416.5L101.8 416.2L102.2 415.9L102.6 415.6L103.1 415.3L103.5 415L103.9 414.6L104.4 414.2L104.8 413.7L105.2 413.3L105.7 412.9L106.1 412.5L106.5 412.1L107 411.7L107.4 411.4L107.8 411L108.3 410.8L108.7 410.6L109.1 410.6L109.6 410.9L110 411.3L110.4 411.7L110.9 412.1L111.3 412.2L111.7 412.1L112.2 411.8L112.6 411.5L113.1 411.1L113.5 410.7L113.9 410.3L114.4 409.8L114.8 409.3L115.2 408.8L115.7 408.2L116.1 407.7L116.5 407.3L117 407.1L117.4 407.1L117.8 407.3L118.3 407.6L118.7 407.9L119.1 408.1L119.6 408.3L120 408.2L120.4 407.8L120.9 407.3L121.3 406.7L121.7 406.1L122.2 405.5L122.6 405L123 404.5L123.5 404L123.9 403.6L124.3 403.1L124.8 402.7L125.2 402.2L125.6 401.7L126.1 401.2L126.5 400.6L126.9 400.1L127.4 399.4L127.8 398.5L128.2 397.4L128.7 396.2L129.1 394.8L129.5 393.5L130 392.4L130.4 391.6L130.8 390.9L131.3 390.6L131.7 390.5L132.2 390.9L132.6 391.8L133 393.5L133.5 396.2L133.9 399.6L134.3 403.1L134.8 406.2L135.2 408.9L135.6 410.9L136.1 412.3L136.5 413.1L136.9 413.6L137.4 413.9L137.8 414.1L138.2 414.1L138.7 413.9L139.1 413.7L139.5 413.4L140 413.2L140.4 413.1L140.8 413L141.3 413.1L141.7 413.1L142.1 413.2L142.6 413.3L143 413.3L143.4 413.4L143.9 413.4L144.3 413.5L144.7 413.5L145.2 413.6L145.6 413.6L146 413.7L146.5 413.8L146.9 413.9L147.3 414.1L147.8 414.4L148.2 414.6L148.6 414.9L149.1 415.2L149.5 415.4L149.9 415.7L150.4 415.9L150.8 416.2L151.3 416.5L151.7 416.7L152.1 417L152.6 417.3L153 417.5L153.4 417.8L153.9 418.1L154.3 418.4L154.7 418.6L155.2 418.8L155.6 418.8L156 418.7L156.5 418.6L156.9 418.4L157.3 418.3L157.8 418.2L158.2 418L158.6 417.9L159.1 417.7L159.5 417.6L159.9 417.4L160.4 417.3L160.8 417.1L161.2 417L161.7 417L162.1 417.1L162.5 417.3L163 417.5L163.4 417.7L163.8 417.9L164.3 418.2L164.7 418.4L165.1 418.6L165.6 418.7L166 418.7L166.4 418.6L166.9 418.4L167.3 418.1L167.7 417.8L168.2 417.5L168.6 417.3L169 417L169.5 416.7L169.9 416.5L170.4 416.2L170.8 416L171.2 415.8L171.7 415.8L172.1 415.9L172.5 416L173 416.2L173.4 416.3L173.8 416.4L174.3 416.5L174.7 416.6L175.1 416.8L175.6 416.9L176 417.1L176.4 417.3L176.9 417.6L177.3 417.8L177.7 418L178.2 418.2L178.6 418.4L179 418.7L179.5 418.9L179.9 419.1L180.3 419.3L180.8 419.5L181.2 419.7L181.6 419.8L182.1 419.7L182.5 419.6L182.9 419.4L183.4 419.2L183.8 419.1L184.2 418.9L184.7 418.7L185.1 418.5L185.5 418.3L186 418.2L186.4 418L186.8 417.8L187.3 417.6L187.7 417.4L188.1 417.3L188.6 417.1L189 417L189.5 417L189.9 417.1L190.3 417.2L190.8 417.3L191.2 417.4L191.6 417.6L192.1 417.7L192.5 417.8L192.9 417.9L193.4 418.1L193.8 418.2L194.2 418.3L194.7 418.4L195.1 418.6L195.5 418.7L196 418.8L196.4 418.8L196.8 418.8L197.3 418.6L197.7 418.4L198.1 418.2L198.6 417.9L199 417.7L199.4 417.5L199.9 417.2L200.3 417L200.7 416.8L201.2 416.6L201.6 416.3L202 416.1L202.5 415.9L202.9 415.8L203.3 415.8L203.8 415.8L204.2 415.9L204.6 416L205.1 416.1L205.5 416.1L205.9 416.2L206.4 416.3L206.8 416.4L207.3 416.5L207.7 416.5L208.1 416.6L208.6 416.7L209 416.7L209.4 416.7L209.9 416.6L210.3 416.4L210.7 416.2L211.2 416.1L211.6 415.9L212 415.7L212.5 415.5L212.9 415.4L213.3 415.3L213.8 415.3L214.2 415.4L214.6 415.6L215.1 415.8L215.5 416L215.9 416.1L216.4 416.3L216.8 416.5L217.2 416.7L217.7 416.9L218.1 417.1L218.5 417.3L219 417.4L219.4 417.6L219.8 417.7L220.3 417.6L220.7 417.5L221.1 417.3L221.6 417.1L222 416.9L222.4 416.7L222.9 416.6L223.3 416.4L223.7 416.2L224.2 416L224.6 415.9L225 415.9L225.5 416.1L225.9 416.3L226.4 416.7L226.8 417L227.2 417.3L227.7 417.7L228.1 418L228.5 418.3L229 418.6L229.4 418.8L229.8 418.8L230.3 418.6L230.7 418.5L231.1 418.3L231.6 418.1L232 417.9L232.4 417.8L232.9 417.6L233.3 417.4L233.7 417.2L234.2 417.1L234.6 417.1L235 417.3L235.5 417.7L235.9 418.1L236.3 418.6L236.8 419.1L237.2 419.6L237.6 420.1L238.1 420.6L238.5 421L238.9 421.3L239.4 421.3L239.8 421.3L240.2 421.2L240.7 421.1L241.1 421L241.5 420.9L242 420.8L242.4 420.7L242.8 420.6L243.3 420.5L243.7 420.3L244.1 420.2L244.6 420.1L245 420L245.5 419.9L245.9 419.8L246.3 419.6L246.8 419.5L247.2 419.3L247.6 419.2L248.1 419L248.5 418.9L248.9 418.7L249.4 418.6L249.8 418.4L250.2 418.3L250.7 418.2L251.1 418L251.5 417.9L252 417.8L252.4 417.7L252.8 417.7L253.3 417.6L253.7 417.6L254.1 417.5L254.6 417.5L255 417.4L255.4 417.4L255.9 417.3L256.3 417.3L256.7 417.2L257.2 417.2L257.6 417.1L258 417.1L258.5 417L258.9 417L259.3 416.9L259.8 416.9L260.2 416.9L260.6 416.9L261.1 417L261.5 417L261.9 417.1L262.4 417.1L262.8 417.2L263.2 417.2L263.7 417.3L264.1 417.3L264.6 417.3L265 417.4L265.4 417.4L265.9 417.5L266.3 417.5L266.7 417.6L267.2 417.6L267.6 417.7L268 417.7L268.5 417.8L268.9 417.9L269.3 417.9L269.8 418L270.2 418L270.6 418.1L271.1 418.2L271.5 418.2L271.9 418.3L272.4 418.3L272.8 418.4L273.2 418.5L273.7 418.5L274.1 418.6L274.5 418.6L275 418.7L275.4 418.8L275.8 418.8L276.3 418.9L276.7 418.9L277.1 419L277.6 419.1L278 419.2L278.4 419.2L278.9 419.3L279.3 419.4L279.7 419.5L280.2 419.6L280.6 419.6L281 419.7L281.5 419.8L281.9 419.9L282.3 420L282.8 420L283.2 420.1L283.7 420.2L284.1 420.3L284.5 420.4L285 420.4L285.4 420.5L285.8 420.5L286.3 420.5L286.7 420.5L287.1 420.4L287.6 420.4L288 420.3L288.4 420.3L288.9 420.3L289.3 420.2L289.7 420.2L290.2 420.2L290.6 420.1L291 420.1" stroke="#c5232f" stroke-width="1.45"/>
<path d="M134.3 406.8L134.8 406.9L135.2 407L135.6 407.2L136.1 407.3L136.5 407.4L136.9 407.3L137.4 407.2L137.8 407.1L138.2 407L138.7 406.9L139.1 406.8L139.5 406.7L140 406.5L140.4 406.4L140.8 406.3L141.3 406.2L141.7 406.1L142.1 405.9L142.6 405.8L143 405.6L143.4 405.4L143.9 405.3L144.3 405.1L144.7 404.9L145.2 404.7L145.6 404.5L146 404.4L146.5 404.2L146.9 404L147.3 403.8L147.8 403.6L148.2 403.4L148.6 403.2L149.1 403L149.5 402.8L149.9 402.6L150.4 402.3L150.8 402.1L151.3 401.9L151.7 401.6L152.1 401.4L152.6 401.2L153 400.9L153.4 400.7L153.9 400.5L154.3 400.4L154.7 400.2L155.2 400.1L155.6 400L156 400L156.5 399.9L156.9 399.9L157.3 400L157.8 400L158.2 400.1L158.6 400.2L159.1 400.2L159.5 400.3L159.9 400.3L160.4 400.4L160.8 400.4L161.2 400.5L161.7 400.5L162.1 400.6L162.5 400.7L163 400.7L163.4 400.8L163.8 400.8L164.3 400.8L164.7 400.7L165.1 400.7L165.6 400.6L166 400.6L166.4 400.5L166.9 400.4L167.3 400.4L167.7 400.3L168.2 400.3L168.6 400.2L169 400.2L169.5 400.1L169.9 400L170.4 400L170.8 399.9L171.2 399.8L171.7 399.6L172.1 399.3L172.5 399.1L173 398.8L173.4 398.6L173.8 398.3L174.3 398.1L174.7 397.8L175.1 397.4L175.6 397.1L176 396.7L176.4 396.3L176.9 396L177.3 395.6L177.7 395.2L178.2 395L178.6 395L179 395.1L179.5 395.4L179.9 395.8L180.3 396.1L180.8 396.5L181.2 396.8L181.6 397.2L182.1 397.5L182.5 397.9L182.9 398.2L183.4 398.5L183.8 398.8L184.2 398.9L184.7 399L185.1 399.1L185.5 399.2L186 399.2L186.4 399.3L186.8 399.4L187.3 399.4L187.7 399.5L188.1 399.6L188.6 399.7L189 399.7L189.5 399.8L189.9 399.9L190.3 399.9L190.8 400L191.2 400.1L191.6 400.1L192.1 400.2L192.5 400.2L192.9 400.2L193.4 400.2L193.8 400.1L194.2 400.1L194.7 400.1L195.1 400.1L195.5 400L196 400L196.4 400L196.8 399.9L197.3 399.9L197.7 399.9L198.1 399.8L198.6 399.8L199 399.8L199.4 399.7L199.9 399.7L200.3 399.7L200.7 399.6L201.2 399.6L201.6 399.6L202 399.5L202.5 399.5L202.9 399.5L203.3 399.6L203.8 399.6L204.2 399.7L204.6 399.8L205.1 399.9L205.5 400L205.9 400L206.4 400.1L206.8 400.2L207.3 400.3L207.7 400.4L208.1 400.4L208.6 400.5L209 400.6L209.4 400.7L209.9 400.8L210.3 400.8L210.7 400.9L211.2 401L211.6 401L212 400.9L212.5 400.9L212.9 400.8L213.3 400.7L213.8 400.7L214.2 400.6L214.6 400.5L215.1 400.5L215.5 400.4L215.9 400.3L216.4 400.3L216.8 400.2L217.2 400.2L217.7 400.1L218.1 400L218.5 400L219 399.9L219.4 399.8L219.8 399.8L220.3 399.7L220.7 399.6L221.1 399.6L221.6 399.5L222 399.5L222.4 399.4L222.9 399.4L223.3 399.3L223.7 399.3L224.2 399.3L224.6 399.2L225 399.2L225.5 399.1L225.9 399.1L226.4 399.1L226.8 399L227.2 399L227.7 399L228.1 399L228.5 399L229 399.1L229.4 399.2L229.8 399.4L230.3 399.5L230.7 399.7L231.1 399.8L231.6 400L232 400.1L232.4 400.3L232.9 400.4L233.3 400.5L233.7 400.7L234.2 400.8L234.6 400.9L235 401L235.5 400.9L235.9 400.9L236.3 400.9L236.8 400.8L237.2 400.8L237.6 400.7L238.1 400.7L238.5 400.6L238.9 400.6L239.4 400.5L239.8 400.5L240.2 400.4L240.7 400.4L241.1 400.3L241.5 400.3L242 400.2L242.4 400.2L242.8 400.1L243.3 400.1L243.7 400L244.1 400L244.6 399.9L245 399.9L245.5 400L245.9 400L246.3 400.1L246.8 400.3L247.2 400.4L247.6 400.5L248.1 400.6L248.5 400.7L248.9 400.9L249.4 401L249.8 401.1L250.2 401.2L250.7 401.3L251.1 401.4L251.5 401.5L252 401.5L252.4 401.5L252.8 401.4L253.3 401.3L253.7 401.2L254.1 401.1L254.6 401L255 400.9L255.4 400.8L255.9 400.7L256.3 400.7L256.7 400.6L257.2 400.5L257.6 400.4L258 400.3L258.5 400.2L258.9 400.1L259.3 400L259.8 400L260.2 399.9L260.6 400L261.1 400L261.5 400.1L261.9 400.1L262.4 400.2L262.8 400.2L263.2 400.3L263.7 400.4L264.1 400.4L264.6 400.5L265 400.5L265.4 400.6L265.9 400.7L266.3 400.7L266.7 400.8L267.2 400.8L267.6 400.9L268 400.9L268.5 401L268.9 400.9L269.3 400.8L269.8 400.7L270.2 400.6L270.6 400.5L271.1 400.4L271.5 400.3L271.9 400.2L272.4 400.1L272.8 400L273.2 399.9L273.7 399.7L274.1 399.6L274.5 399.5L275 399.4L275.4 399.3L275.8 399.2L276.3 399.1L276.7 399L277.1 398.9L277.6 398.8L278 398.8L278.4 398.7L278.9 398.7L279.3 398.6L279.7 398.6L280.2 398.5L280.6 398.5L281 398.4L281.5 398.4L281.9 398.3L282.3 398.3L282.8 398.2L283.2 398.2L283.7 398.1L284.1 398.1L284.5 398L285 398L285.4 398L285.8 398.1L286.3 398.2L286.7 398.4L287.1 398.6L287.6 398.7L288 398.9L288.4 399.1L288.9 399.3L289.3 399.4L289.7 399.6L290.2 399.8L290.6 399.9L291 400.1" stroke="#7ba39c" stroke-width="1.45"/>
<path d="M84.4 422.3L84.8 422.3L85.3 422.3L85.7 422.3L86.1 422.3L86.6 422.3L87 422.3L87.4 422.3L87.9 422.3L88.3 422.3L88.7 422.3L89.2 422.3L89.6 422.3L90 422.3L90.5 422.3L90.9 422.3L91.3 422.3L91.8 422.3L92.2 422.3L92.6 422.3L93.1 422.3L93.5 422.3L94 422.3L94.4 422.3L94.8 422.3L95.3 422.3L95.7 422.3L96.1 422.3L96.6 422.3L97 422.3L97.4 422.3L97.9 422.3L98.3 422.3L98.7 422.3L99.2 422.3L99.6 422.3L100 422.3L100.5 422.3L100.9 422.3L101.3 422.3L101.8 422.3L102.2 422.3L102.6 422.3L103.1 422.3L103.5 422.3L103.9 422.3L104.4 422.3L104.8 422.3L105.2 422.3L105.7 422.3L106.1 422.3L106.5 422.3L107 422.3L107.4 422.3L107.8 422.3L108.3 422.3L108.7 422.3L109.1 422.3L109.6 422.3L110 422.3L110.4 422.3L110.9 422.3L111.3 422.3L111.7 422.3L112.2 422.3L112.6 422.3L113.1 422.3L113.5 422.3L113.9 422.3L114.4 422.3L114.8 422.3L115.2 422.3L115.7 422.3L116.1 422.3L116.5 422.3L117 422.3L117.4 422.3L117.8 422.3L118.3 422.3L118.7 422.3L119.1 422.3L119.6 422.3L120 422.3L120.4 422.3L120.9 422.3L121.3 422.3L121.7 422.3L122.2 422.3L122.6 422.3L123 422.3L123.5 422.3L123.9 422.3L124.3 422.3L124.8 422.3L125.2 422.3L125.6 422.3L126.1 422.3L126.5 422.3L126.9 422.3L127.4 422.3L127.8 422.3L128.2 422.3L128.7 422.3L129.1 422.3L129.5 422.3L130 422.2L130.4 422L130.8 421.8L131.3 421.6L131.7 421.2L132.2 420.5L132.6 419.3L133 417.8L133.5 416L133.9 414L134.3 411.6L134.8 409L135.2 406.6L135.6 404.6L136.1 403.4L136.5 402.8L136.9 402.5L137.4 402.4L137.8 402.6L138.2 403L138.7 403.2L139.1 403.1L139.5 402.7L140 401.9L140.4 400.8L140.8 399.4L141.3 397.8L141.7 396.5L142.1 395.5L142.6 394.7L143 394.1L143.4 393.5L143.9 392.9L144.3 392.3L144.7 391.7L145.2 391.1L145.6 390.5L146 389.9L146.5 389.3L146.9 388.8L147.3 388.2L147.8 387.8L148.2 387.4L148.6 387L149.1 386.6L149.5 386.3L149.9 385.9L150.4 385.5L150.8 385.2L151.3 384.9L151.7 384.6L152.1 384.2L152.6 383.7L153 383.1L153.4 382.4L153.9 381.7L154.3 381L154.7 380.3L155.2 379.6L155.6 379L156 378.3L156.5 377.7L156.9 377L157.3 376.4L157.8 375.8L158.2 375.2L158.6 374.8L159.1 374.4L159.5 374.1L159.9 374.1L160.4 374.6L160.8 375.4L161.2 376.3L161.7 377.2L162.1 377.9L162.5 378.3L163 378.6L163.4 378.9L163.8 379L164.3 378.8L164.7 378.4L165.1 377.9L165.6 377.5L166 377.2L166.4 377.2L166.9 377.5L167.3 377.9L167.7 378.3L168.2 378.5L168.6 378.3L169 377.9L169.5 377.3L169.9 376.7L170.4 376.2L170.8 375.7L171.2 375.3L171.7 374.9L172.1 374.6L172.5 374.2L173 373.9L173.4 373.6L173.8 373.3L174.3 373L174.7 372.7L175.1 372.4L175.6 372.1L176 371.8L176.4 371.3L176.9 370.7L177.3 369.9L177.7 369L178.2 368.2L178.6 367.3L179 366.5L179.5 365.6L179.9 364.8L180.3 364L180.8 363.3L181.2 362.6L181.6 361.8L182.1 361.1L182.5 360.6L182.9 360.3L183.4 360.4L183.8 360.6L184.2 360.9L184.7 361.3L185.1 361.6L185.5 361.9L186 362.2L186.4 362.5L186.8 362.5L187.3 362.3L187.7 361.8L188.1 361.1L188.6 360.4L189 359.7L189.5 359L189.9 358.3L190.3 357.7L190.8 357L191.2 356.4L191.6 355.9L192.1 355.3L192.5 354.8L192.9 354.2L193.4 353.7L193.8 353.2L194.2 352.8L194.7 352.5L195.1 352.3L195.5 352.2L196 352.2L196.4 352.1L196.8 352L197.3 351.9L197.7 351.8L198.1 351.8L198.6 351.7L199 351.6L199.4 351.7L199.9 351.8L200.3 352.1L200.7 352.6L201.2 353L201.6 353.5L202 354L202.5 354.4L202.9 354.9L203.3 355.4L203.8 355.8L204.2 356.1L204.6 356.1L205.1 355.5L205.5 354.6L205.9 353.5L206.4 352.4L206.8 351.3L207.3 350.2L207.7 349.1L208.1 348L208.6 346.9L209 346.1L209.4 345.6L209.9 345.5L210.3 345.7L210.7 346L211.2 346.3L211.6 346.6L212 346.8L212.5 346.8L212.9 346.4L213.3 345.9L213.8 345.2L214.2 344.5L214.6 343.9L215.1 343.2L215.5 342.5L215.9 341.9L216.4 341.2L216.8 340.6L217.2 340L217.7 339.3L218.1 338.7L218.5 338.1L219 337.5L219.4 336.9L219.8 336.3L220.3 335.7L220.7 335.1L221.1 334.5L221.6 334L222 333.7L222.4 333.6L222.9 333.6L223.3 333.7L223.7 333.9L224.2 334L224.6 334.2L225 334.3L225.5 334.4L225.9 334.6L226.4 334.7L226.8 334.8L227.2 334.8L227.7 334.8L228.1 334.8L228.5 334.8L229 334.7L229.4 334.7L229.8 334.7L230.3 334.6L230.7 334.6L231.1 334.4L231.6 334.1L232 333.4L232.4 332.4L232.9 331.4L233.3 330.4L233.7 329.3L234.2 328.3L234.6 327.3L235 326.2L235.5 325.2L235.9 324.1L236.3 323.1L236.8 322.2L237.2 321.7L237.6 321.7L238.1 321.9L238.5 322.4L238.9 322.8L239.4 323.3L239.8 323.7L240.2 324.2L240.7 324.4L241.1 324.3L241.5 323.9L242 323.2L242.4 322.5L242.8 321.8L243.3 321L243.7 320.3L244.1 319.6L244.6 318.8L245 318.1L245.5 317.4L245.9 316.7L246.3 315.9L246.8 315.2L247.2 314.5L247.6 313.7L248.1 313.1L248.5 312.8L248.9 312.8L249.4 313L249.8 313.4L250.2 313.8L250.7 314.2L251.1 314.6L251.5 314.9L252 315.3L252.4 315.6L252.8 315.7L253.3 315.6L253.7 315.4L254.1 315.2L254.6 314.9L255 314.7L255.4 314.5L255.9 314.2L256.3 314L256.7 313.8L257.2 313.5L257.6 313.3L258 313.1L258.5 312.8L258.9 312.6L259.3 312.4L259.8 312.2L260.2 312L260.6 311.8L261.1 311.6L261.5 311.4L261.9 311.2L262.4 311L262.8 310.8L263.2 310.6L263.7 310.3L264.1 310L264.6 309.4L265 308.7L265.4 307.8L265.9 307L266.3 306.1L266.7 305.3L267.2 304.4L267.6 303.5L268 302.8L268.5 302.2L268.9 302L269.3 302.1L269.8 302.3L270.2 302.6L270.6 302.9L271.1 303.3L271.5 303.6L271.9 303.9L272.4 304.2L272.8 304.5L273.2 304.8L273.7 305.1L274.1 305.4L274.5 305.7L275 306L275.4 306.3L275.8 306.5L276.3 306.3L276.7 305.7L277.1 304.7L277.6 303.4L278 302L278.4 300.7L278.9 299.3L279.3 298L279.7 296.8L280.2 296L280.6 295.7L281 295.8L281.5 296.1L281.9 296.3L282.3 296.6L282.8 296.8L283.2 297L283.7 297L284.1 296.7L284.5 296.1L285 295.4L285.4 294.7L285.8 293.9L286.3 293.1L286.7 292.4L287.1 291.6L287.6 290.9L288 290.1L288.4 289.4L288.9 288.6L289.3 287.9L289.7 287.1L290.2 286.4L290.6 285.7L291 285.2" stroke="#6a3d9a" stroke-width="1.45"/>
<path d="M96 276.1V423.8" stroke="#111" stroke-width="1.1" stroke-dasharray="1.1 1.7"/>
<path d="M130.7 276.1V423.8" stroke="#111" stroke-width="1.1" stroke-dasharray="1.1 1.7"/>
<path d="M142.3 276.1V423.8" stroke="#111" stroke-width="1.1" stroke-dasharray="1.1 1.7"/>
<path d="M275.4 276.1V423.8" stroke="#333" stroke-width="1.4" stroke-dasharray="4.4 1.9"/>
</g>
<rect x="85.4" y="294.6" width="76.6" height="24.8" rx="2" fill="#fff" fill-opacity=".8" stroke="#ccc" stroke-width=".8"/>
<path d="M88 301.1h8.2" stroke="#3b8fd0" stroke-width="1.4"/>
<text class="k" x="100.2" y="304.1" text-anchor="start">M</text>
<path d="M115.2 301.1h8.2" stroke="#c5232f" stroke-width="1.4"/>
<text class="k" x="127.4" y="304.1" text-anchor="start">C</text>
<path d="M140.1 301.1h8.2" stroke="#6a3d9a" stroke-width="1.4"/>
<text class="k" x="152.3" y="304.1" text-anchor="start">G</text>
<path d="M88 312.4h8.2" stroke="#f5a52a" stroke-width="1.4"/>
<text class="k" x="100.2" y="315.4" text-anchor="start">D</text>
<path d="M115.2 312.4h8.2" stroke="#7ba39c" stroke-width="1.4"/>
<text class="k" x="127.4" y="315.4" text-anchor="start">E</text>
<rect x="81.9" y="276.1" width="209.3" height="147.7" fill="none" stroke="#1a1a1a" stroke-width="1.2"/>
<text class="k" x="84.4" y="438.6" text-anchor="middle">0</text>
<text class="k" x="120.6" y="438.6" text-anchor="middle">25</text>
<text class="k" x="156.8" y="438.6" text-anchor="middle">50</text>
<text class="k" x="192.9" y="438.6" text-anchor="middle">75</text>
<text class="k" x="229.1" y="438.6" text-anchor="middle">100</text>
<text class="k" x="265.3" y="438.6" text-anchor="middle">125</text>
<text class="k" x="75" y="425.5" text-anchor="end">0</text>
<text class="k" x="75" y="406" text-anchor="end">10</text>
<text class="k" x="75" y="386.5" text-anchor="end">20</text>
<text class="k" x="75" y="367" text-anchor="end">30</text>
<text class="k" x="75" y="347.5" text-anchor="end">40</text>
<text class="k" x="75" y="327.9" text-anchor="end">50</text>
<text class="k" x="75" y="308.4" text-anchor="end">60</text>
<text class="k" x="75" y="288.9" text-anchor="end">70</text>
<path d="M84.4 423.8v4.5M120.6 423.8v4.5M156.8 423.8v4.5M192.9 423.8v4.5M229.1 423.8v4.5M265.3 423.8v4.5M81.9 422.3h-4.5M81.9 402.8h-4.5M81.9 383.3h-4.5M81.9 363.8h-4.5M81.9 344.3h-4.5M81.9 324.8h-4.5M81.9 305.2h-4.5M81.9 285.7h-4.5" stroke="#1a1a1a" stroke-width="1"/>
<text class="k" x="88.6" y="287.6" text-anchor="middle">1</text>
<text class="k" x="113.2" y="287.6" text-anchor="middle">2</text>
<text class="k" x="136.5" y="287.6" text-anchor="middle">3</text>
<text class="k" x="209.3" y="287.6" text-anchor="middle">4</text>
<text class="k" x="284.2" y="287.6" text-anchor="middle">5</text>
<text class="x" x="186.5" y="450.3" text-anchor="middle">Growth time, <tspan class="i">t</tspan> (ns)</text>
<text class="t" transform="translate(59.6 350.5) rotate(-90)" text-anchor="middle"># C atoms</text>
<text class="lbl" x="44" y="286.5">b</text>
</g>
<g id="pc">
<path d="M379.1 318.4V283.3M384.5 318.4V283.3M386 318.4V283.3M393.9 318.4V283.3M403.2 318.4V283.3M408.3 318.4V283.3M417.5 318.4V283.3M419 318.4V283.3M420.5 318.4V283.3M422.4 318.4V283.3M424.2 318.4V283.3M442.5 318.4V283.3M444.4 318.4V283.3M456.3 318.4V283.3M462.4 318.4V283.3M479.7 318.4V283.3M488.1 318.4V283.3M489.9 318.4V283.3M493 318.4V283.3M509.3 318.4V283.3M511.6 318.4V283.3M529.7 318.4V283.3M531.6 318.4V283.3M533.4 318.4V283.3M537.9 318.4V283.3M544.4 318.4V283.3M546.3 318.4V283.3M556.8 318.4V283.3M559.6 318.4V283.3M562.4 318.4V283.3" stroke="#f6d0cc" stroke-width=".5" fill="none"/>
<path d="M378.6 283.3h1M384 283.3h1M385.5 283.3h1M393.4 283.3h1M402.7 283.3h1M407.8 283.3h1M417 283.3h1M418.5 283.3h1M420 283.3h1M421.9 283.3h1M423.7 283.3h1M442 283.3h1M443.9 283.3h1M455.8 283.3h1M461.9 283.3h1M479.2 283.3h1M487.6 283.3h1M489.4 283.3h1M492.5 283.3h1M508.8 283.3h1M511.1 283.3h1M529.2 283.3h1M531.1 283.3h1M532.9 283.3h1M537.4 283.3h1M543.9 283.3h1M545.8 283.3h1M556.3 283.3h1M559.1 283.3h1M561.9 283.3h1" stroke="#e04a4a" stroke-width="1"/>
<path d="M377 318.4H567.8" stroke="#c5232f" stroke-width="1.3"/>
<clipPath id="cc2"><rect x="368.8" y="325.0" width="205.4" height="49.4"/></clipPath>
<g clip-path="url(#cc2)"><path d="M377 367.9L567.8 331.9" stroke="#f5a52a" stroke-width="1.7"/>
<path d="M368.6 369.5L574.3 330.6" stroke="#111" stroke-width="1" stroke-dasharray="1 1.6"/></g>
<text x="566.9" y="366.7" text-anchor="end" font-size="9.6px"><tspan class="i">k</tspan><tspan dy="1.9" font-size="6.8px">6</tspan><tspan dy="-1.9" dx=".6"> = 0.25 ns</tspan><tspan dy="-4.3" dx=".8" font-size="6.8px">−1</tspan></text>
<g fill="#c4dcf3" opacity=".85"><rect x="376.1" y="414.1" width="2.1" height="3.5"/><rect x="376.3" y="410.6" width="7.9" height="3.5"/><rect x="377.3" y="407" width="7.7" height="3.5"/><rect x="378.2" y="403.5" width="11.5" height="3.5"/><rect x="382.6" y="400" width="11.9" height="3.5"/><rect x="386.1" y="396.5" width="16.8" height="3.5"/><rect x="388" y="393" width="179.8" height="3.5"/></g>
<path d="M376.1 417.6H378.2M376.1 414.1H378.3M378.9 414.1H382.1M382.6 414.1H384.3M376.3 410.6H378.8M379.1 410.6H380.8M381.3 410.6H384.4M384.6 410.6H385M377.3 407H380.2M380.5 407H384.2M384.7 407H388.4M388.6 407H389.6M378.2 403.5H380.8M381 403.5H383M383.7 403.5H388.7M388.9 403.5H390.4M390.7 403.5H394.6M382.6 400H384.1M384.6 400H386M386.4 400H390.2M390.9 400H393.3M393.8 400H398.5M399.2 400H400.6M401 400H403M386.1 396.5H567.8M388 393H567.8M396.2 389.4H398.9M402.1 389.4H404.7M407.6 389.4H408.1M409.2 389.4H410M411.8 389.4H415M418.5 389.4H421.2M424.4 389.4H426.7M431 389.4H434.1M438.8 389.4H441.6M448.7 389.4H449.3M464.9 389.4H467.8M470 389.4H470.7M473.2 389.4H475.1M480 389.4H481.5M482.3 389.4H485.2M486.4 389.4H488.2M492.7 389.4H494.6M497.2 389.4H500M500.8 389.4H502.8M505.4 389.4H508.6M512.8 389.4H513.5M515 389.4H516.8M520.6 389.4H522M524.3 389.4H527.3M532.3 389.4H533.9M538.6 389.4H540M541 389.4H543M546.6 389.4H549.6M554.6 389.4H557.2M561.3 389.4H563.7M415.6 385.9H418.2M403.7 400h1M405.5 400h1M463.1 400h1" stroke="#4e92d3" stroke-width="1.45" fill="none"/>
<path d="M389.6 394.4h1.2M390.9 393.7h0.6M391.9 394h1M392.7 394.1h1.1M393.7 393.7h0.6M394.6 394.4h0.5M395.5 394.4h1M397.1 394.5h0.4M399.1 394.2h0.6M401 394.3h1.2M401.8 394.2h0.8M403.4 393.9h0.4M404.9 394h1.1M406.3 394h0.9M407.7 394.6h1M409.1 393.8h0.9M410.8 394.4h1.2M411.9 394h0.7M413 394h0.8M414.5 393.9h0.5M415.6 393.8h0.7M417.2 394.2h1.2M418.7 394.2h0.9M420.5 394.2h0.9M422 394h1M423.6 393.9h0.6M424.4 394h0.4M425.3 393.7h0.6M426.5 394.2h1M428.1 393.8h1.1M429.8 394.1h0.9M431.2 393.8h0.9M433.3 394.4h0.5M434.2 394.6h1.1M435.9 394.4h0.5M437.7 393.8h0.5M439 393.6h1.1M439.9 394.4h0.9M441.7 394.2h1.2M443 394.1h0.7M444.7 393.9h1M445.5 393.9h0.8M446.4 393.8h1.1M447.6 393.8h1.1M449.1 394.3h1.1M450.8 393.9h0.4M452.3 394.3h1M453.3 394.3h1.2M454.3 393.9h0.7M455.8 394.6h0.9M457.8 394.3h0.8M458.9 394h1M459.9 393.8h0.6M461.5 394h0.6M462.7 393.7h0.7M464.5 394.1h0.8M465.3 393.9h0.5M466 394.5h1M467.9 393.8h0.7M469.9 394.1h1.1M471.9 393.6h0.7M473.4 394h0.7M474.6 393.9h0.4M476.4 394.6h0.4M478.3 394.2h0.4M479.1 394.1h0.5M480.2 393.9h1.2M481.6 393.9h1.2M483.6 394.3h0.5M485.6 394.1h1M487.3 394.3h1M489.1 394.1h0.8M490 394h1.1M491 394.4h1M491.9 394.4h0.9M494 394h1M495.9 394h0.6M497.1 394.3h0.6M499 393.9h1M500.2 394.1h1.1M501.6 394.2h0.7M502.9 393.7h0.8M504.2 393.9h0.5M505.4 393.9h0.7M507.3 394.5h1.1M508.6 394.5h0.9M510.7 393.7h1M512.2 394.1h1M514.1 394.5h0.7M515.3 394.2h0.4M517.1 394.2h0.8M518.7 394.6h1M520.3 393.8h1.2M521.6 394.5h0.8M523.2 394.5h0.4M524.4 393.8h0.4M525.5 394.5h0.6M526.4 394.6h0.8M527.8 394.3h1.1M528.8 393.8h0.7M530.7 394.5h0.6M532.3 394.1h1.1M533.5 393.9h0.4M535.4 393.8h0.6M536.4 394.5h0.5M537.6 394.3h0.5M539.1 394h0.4M540.7 394h0.6M542.7 394.5h0.8M543.9 393.6h1M545 394.1h0.9M546.7 393.8h0.5M548.5 393.7h0.7M549.3 393.8h0.6M551.1 394.4h0.6M552.7 394.1h0.5M553.9 394.4h0.5M554.9 394h0.4M556.7 394h0.9M558.1 394.4h0.9M559.4 393.7h0.7M560.1 393.7h1.1M561.5 394.4h1M563 394.3h1.2M565 393.9h1.1M566.4 393.8h0.7" stroke="#eef5fc" stroke-width="1.1" fill="none"/>
<path d="M399.5 276.3V423.2" stroke="#333" stroke-width="1.4" stroke-dasharray="4.4 1.9"/>
<rect x="368.8" y="276.3" width="205.4" height="146.9" fill="none" stroke="#1a1a1a" stroke-width="1.2"/>
<path d="M368.8 325.0H574.2M368.8 374.4H574.2" stroke="#1a1a1a" stroke-width="1.4"/>
<text class="k" x="368.6" y="438.2" text-anchor="middle">0</text>
<text class="k" x="415.4" y="438.2" text-anchor="middle">200</text>
<text class="k" x="462.1" y="438.2" text-anchor="middle">400</text>
<text class="k" x="508.9" y="438.2" text-anchor="middle">600</text>
<text class="k" x="555.6" y="438.2" text-anchor="middle">800</text>
<text class="k" x="361.8" y="286.5" text-anchor="end">1</text>
<text class="k" x="361.8" y="321.6" text-anchor="end">0</text>
<text class="k" x="361.8" y="335.8" text-anchor="end">200</text>
<text class="k" x="361.8" y="353.4" text-anchor="end">100</text>
<text class="k" x="361.8" y="371.1" text-anchor="end">0</text>
<text class="k" x="361.8" y="385.6" text-anchor="end">10</text>
<text class="k" x="361.8" y="403.2" text-anchor="end">5</text>
<text class="k" x="361.8" y="420.8" text-anchor="end">0</text>
<path d="M368.6 423.2v4.5M415.4 423.2v4.5M462.1 423.2v4.5M508.9 423.2v4.5M555.6 423.2v4.5M368.8 283.3h-4.5M368.8 318.4h-4.5M368.8 332.6h-4.5M368.8 350.2h-4.5M368.8 367.9h-4.5M368.8 382.4h-4.5M368.8 400h-4.5M368.8 417.6h-4.5" stroke="#1a1a1a" stroke-width="1"/>
<text class="t" transform="translate(352.5 300.5) rotate(-90)" text-anchor="middle">Hepta.</text>
<text class="t" transform="translate(343.8 349.7) rotate(-90)" text-anchor="middle">Hexa.</text>
<text class="t" transform="translate(347.6 400.4) rotate(-90)" text-anchor="middle">Penta.</text>
<text class="x" x="471.5" y="450.3" text-anchor="middle">Growth time, <tspan class="i">t</tspan> (ns)</text>
<text class="lbl" x="331.8" y="286">c</text>
</g>
<g id="pf">
<clipPath id="clpf"><rect x="99.5" y="466.5" width="173.6" height="143"/></clipPath>
<g clip-path="url(#clpf)">
<g fill="#5b9ad6"><rect x="104.38" y="505.2" width="4.34" height="104.3"/><rect x="113.78" y="509" width="4.34" height="100.5"/><rect x="118.48" y="505.2" width="4.34" height="104.3"/><rect x="123.17" y="509.5" width="4.34" height="100"/><rect x="127.87" y="509" width="4.34" height="100.5"/><rect x="132.57" y="512.2" width="4.34" height="97.3"/><rect x="137.27" y="506.7" width="4.34" height="102.8"/><rect x="141.97" y="509" width="4.34" height="100.5"/><rect x="146.67" y="508.5" width="4.34" height="101"/><rect x="151.37" y="508.6" width="4.34" height="100.9"/><rect x="156.07" y="509.8" width="4.34" height="99.7"/><rect x="160.76" y="509.1" width="4.34" height="100.4"/><rect x="165.46" y="509.6" width="4.34" height="99.9"/><rect x="170.16" y="511.2" width="4.34" height="98.3"/><rect x="174.86" y="511.1" width="4.34" height="98.4"/><rect x="179.56" y="512.5" width="4.34" height="97"/><rect x="184.26" y="515.4" width="4.34" height="94.1"/><rect x="188.96" y="515.6" width="4.34" height="93.9"/><rect x="193.66" y="521.1" width="4.34" height="88.4"/><rect x="198.35" y="525.7" width="4.34" height="83.8"/><rect x="203.05" y="535.9" width="4.34" height="73.6"/><rect x="207.75" y="547.1" width="4.34" height="62.4"/></g>
<path d="M99.5 508.6L100.4 508.6L101.2 508.6L102.1 508.6L103 508.6L103.8 508.6L104.7 508.6L105.6 508.6L106.4 508.6L107.3 508.6L108.2 508.6L109 508.6L109.9 508.6L110.8 508.6L111.7 508.6L112.5 508.6L113.4 508.6L114.3 508.6L115.1 508.6L116 508.6L116.9 508.6L117.7 508.6L118.6 508.6L119.5 508.6L120.3 508.6L121.2 508.6L122.1 508.6L122.9 508.6L123.8 508.6L124.7 508.6L125.5 508.6L126.4 508.7L127.3 508.7L128.1 508.7L129 508.7L129.9 508.7L130.7 508.7L131.6 508.7L132.5 508.7L133.4 508.7L134.2 508.7L135.1 508.7L136 508.7L136.8 508.7L137.7 508.7L138.6 508.7L139.4 508.7L140.3 508.8L141.2 508.8L142 508.8L142.9 508.8L143.8 508.8L144.6 508.8L145.5 508.8L146.4 508.9L147.2 508.9L148.1 508.9L149 508.9L149.8 508.9L150.7 509L151.6 509L152.4 509L153.3 509L154.2 509.1L155.1 509.1L155.9 509.2L156.8 509.2L157.7 509.2L158.5 509.3L159.4 509.3L160.3 509.4L161.1 509.4L162 509.5L162.9 509.6L163.7 509.6L164.6 509.7L165.5 509.8L166.3 509.9L167.2 510L168.1 510.1L168.9 510.2L169.8 510.3L170.7 510.4L171.5 510.5L172.4 510.7L173.3 510.8L174.1 511L175 511.1L175.9 511.3L176.8 511.5L177.6 511.7L178.5 511.9L179.4 512.2L180.2 512.4L181.1 512.7L182 513L182.8 513.3L183.7 513.6L184.6 514L185.4 514.4L186.3 514.8L187.2 515.3L188 515.7L188.9 516.2L189.8 516.8L190.6 517.4L191.5 518L192.4 518.7L193.2 519.4L194.1 520.2L195 521L195.8 521.9L196.7 522.8L197.6 523.8L198.5 524.9L199.3 526.1L200.2 527.4L201.1 528.7L201.9 530.1L202.8 531.7L203.7 533.3L204.5 535.1L205.4 537L206.3 539L207.1 541.2L208 543.5L208.9 546L209.7 548.7L210.6 551.6L211.5 554.6L212.3 557.9L213.2 561.5L214.1 565.2L214.9 569.3L215.8 573.6L216.7 578.3L217.5 583.3L218.4 588.6L219.3 594.3L220.2 600.5L221 607L221.9 614.1L222.8 621.6L223.6 629.7" fill="none" stroke="#111" stroke-width="1.3"/>
<path d="M99.5 609.5L100.4 609.5L101.2 609.4L102.1 609.4L103 609.4L103.8 609.4L104.7 609.4L105.6 609.4L106.4 609.4L107.3 609.3L108.2 609.3L109 609.3L109.9 609.3L110.8 609.3L111.7 609.2L112.5 609.2L113.4 609.2L114.3 609.1L115.1 609.1L116 609.1L116.9 609L117.7 609L118.6 609L119.5 608.9L120.3 608.9L121.2 608.8L122.1 608.8L122.9 608.7L123.8 608.6L124.7 608.6L125.5 608.5L126.4 608.4L127.3 608.3L128.1 608.2L129 608.1L129.9 608L130.7 607.9L131.6 607.8L132.5 607.7L133.4 607.6L134.2 607.4L135.1 607.3L136 607.1L136.8 606.9L137.7 606.7L138.6 606.5L139.4 606.3L140.3 606.1L141.2 605.8L142 605.5L142.9 605.3L143.8 605L144.6 604.6L145.5 604.3L146.4 603.9L147.2 603.5L148.1 603.1L149 602.6L149.8 602.1L150.7 601.6L151.6 601.1L152.4 600.5L153.3 599.9L154.2 599.2L155.1 598.5L155.9 597.7L156.8 596.9L157.7 596L158.5 595.1L159.4 594.1L160.3 593.1L161.1 592L162 590.8L162.9 589.6L163.7 588.3L164.6 586.9L165.5 585.4L166.3 583.8L167.2 582.2L168.1 580.4L168.9 578.6L169.8 576.7L170.7 574.6L171.5 572.5L172.4 570.3L173.3 567.9L174.1 565.5L175 562.9L175.9 560.3L176.8 557.5L177.6 554.6L178.5 551.6L179.4 548.6L180.2 545.4L181.1 542.2L182 538.8L182.8 535.4L183.7 532L184.6 528.5L185.4 525L186.3 521.4L187.2 517.9L188 514.4L188.9 510.9L189.8 507.4L190.6 504.1L191.5 500.8L192.4 497.7L193.2 494.6L194.1 491.8L195 489.1L195.8 486.5L196.7 484.2L197.6 482.1L198.5 480.2L199.3 478.4L200.2 476.9L201.1 475.6L201.9 474.5L202.8 473.5L203.7 472.7L204.5 472.1L205.4 471.5L206.3 471.1L207.1 470.8L208 470.6L208.9 470.4L209.7 470.3L210.6 470.2L211.5 470.2L212.3 470.1L213.2 470.1L214.1 470.1L214.9 470.1L215.8 470.1L216.7 470.1L217.5 470.1L218.4 470.1L219.3 470.1L220.2 470.1L221 470.1L221.9 470.1L222.8 470.1L223.6 470.1L224.5 470.1L225.4 470.1L226.2 470.1L227.1 470.1L228 470.1L228.8 470.1L229.7 470.1L230.6 470.1L231.4 470.1L232.3 470.1L233.2 470.1L234 470.1L234.9 470.1L235.8 470.1L236.6 470.1L237.5 470.1L238.4 470.1L239.2 470.1L240.1 470.1L241 470.1L241.9 470.1L242.7 470.1L243.6 470.1L244.5 470.1L245.3 470.1L246.2 470.1L247.1 470.1L247.9 470.1L248.8 470.1L249.7 470.1L250.5 470.1L251.4 470.1L252.3 470.1L253.1 470.1L254 470.1L254.9 470.1L255.7 470.1L256.6 470.1L257.5 470.1L258.3 470.1L259.2 470.1L260.1 470.1L260.9 470.1L261.8 470.1L262.7 470.1L263.6 470.1L264.4 470.1L265.3 470.1L266.2 470.1L267 470.1L267.9 470.1L268.8 470.1L269.6 470.1L270.5 470.1L271.4 470.1L272.2 470.1L273.1 470.1" fill="none" stroke="#c5232f" stroke-width="1.3"/>
</g>
<path d="M273.1 466.5H99.5V609.5H273.1" fill="none" stroke="#1a1a1a" stroke-width="1.2"/>
<path d="M273.1 465.9V610.1" stroke="#c5232f" stroke-width="1.2"/>
<text class="k" x="99.3" y="625.6" text-anchor="middle">10<tspan dx=".4" dy="-5.7" font-size="7.1px">−12</tspan></text>
<text class="k" x="128.2" y="625.6" text-anchor="middle">10<tspan dx=".4" dy="-5.7" font-size="7.1px">−11</tspan></text>
<text class="k" x="157.2" y="625.6" text-anchor="middle">10<tspan dx=".4" dy="-5.7" font-size="7.1px">−10</tspan></text>
<text class="k" x="186.1" y="625.6" text-anchor="middle">10<tspan dx=".4" dy="-5.7" font-size="7.1px">−9</tspan></text>
<text class="k" x="215" y="625.6" text-anchor="middle">10<tspan dx=".4" dy="-5.7" font-size="7.1px">−8</tspan></text>
<text class="k" x="244" y="625.6" text-anchor="middle">10<tspan dx=".4" dy="-5.7" font-size="7.1px">−7</tspan></text>
<text class="k" x="272.9" y="625.6" text-anchor="middle">10<tspan dx=".4" dy="-5.7" font-size="7.1px">−6</tspan></text>
<text class="k" x="91.3" y="613.7" text-anchor="end">10<tspan dx=".4" dy="-5.7" font-size="7.1px">2</tspan></text>
<text class="k" x="91.3" y="585.1" text-anchor="end">10<tspan dx=".4" dy="-5.7" font-size="7.1px">4</tspan></text>
<text class="k" x="91.3" y="556.5" text-anchor="end">10<tspan dx=".4" dy="-5.7" font-size="7.1px">6</tspan></text>
<text class="k" x="91.3" y="527.9" text-anchor="end">10<tspan dx=".4" dy="-5.7" font-size="7.1px">8</tspan></text>
<text class="k" x="91.3" y="499.3" text-anchor="end">10<tspan dx=".4" dy="-5.7" font-size="7.1px">10</tspan></text>
<text class="k" x="91.3" y="470.7" text-anchor="end">10<tspan dx=".4" dy="-5.7" font-size="7.1px">12</tspan></text>
<path d="M99.5 609.5v4.3M128.4 609.5v4.3M157.4 609.5v4.3M186.3 609.5v4.3M215.2 609.5v4.3M244.2 609.5v4.3M273.1 609.5v4.3M99.5 609.5h-4.6M99.5 580.9h-4.6M99.5 552.3h-4.6M99.5 523.7h-4.6M99.5 495.1h-4.6M99.5 466.5h-4.6" stroke="#1a1a1a" stroke-width="1"/>
<path d="M108.2 609.5v2.5M113.3 609.5v2.5M116.9 609.5v2.5M119.7 609.5v2.5M122 609.5v2.5M124 609.5v2.5M125.6 609.5v2.5M127.1 609.5v2.5M137.1 609.5v2.5M142.2 609.5v2.5M145.9 609.5v2.5M148.7 609.5v2.5M150.9 609.5v2.5M152.9 609.5v2.5M154.6 609.5v2.5M156 609.5v2.5M166.1 609.5v2.5M171.2 609.5v2.5M174.8 609.5v2.5M177.6 609.5v2.5M179.9 609.5v2.5M181.8 609.5v2.5M183.5 609.5v2.5M185 609.5v2.5M195 609.5v2.5M200.1 609.5v2.5M203.7 609.5v2.5M206.5 609.5v2.5M208.8 609.5v2.5M210.8 609.5v2.5M212.4 609.5v2.5M213.9 609.5v2.5M223.9 609.5v2.5M229 609.5v2.5M232.7 609.5v2.5M235.5 609.5v2.5M237.7 609.5v2.5M239.7 609.5v2.5M241.4 609.5v2.5M242.8 609.5v2.5M252.9 609.5v2.5M258 609.5v2.5M261.6 609.5v2.5M264.4 609.5v2.5M266.7 609.5v2.5M268.6 609.5v2.5M270.3 609.5v2.5M271.8 609.5v2.5" stroke="#1a1a1a" stroke-width=".7"/>
<text class="k" x="279.3" y="613.5" style="fill:#c5232f;stroke:#c5232f">0.0</text>
<text class="k" x="279.3" y="585.6" style="fill:#c5232f;stroke:#c5232f">0.2</text>
<text class="k" x="279.3" y="543.8" style="fill:#c5232f;stroke:#c5232f">0.5</text>
<text class="k" x="279.3" y="501.9" style="fill:#c5232f;stroke:#c5232f">0.8</text>
<text class="k" x="279.3" y="474" style="fill:#c5232f;stroke:#c5232f">1.0</text>
<path d="M273.1 609.6h4.5M273.1 581.7h4.5M273.1 539.9h4.5M273.1 498h4.5M273.1 470.1h4.5" stroke="#c5232f" stroke-width="1"/>
<text class="t" transform="translate(302.9 538) rotate(-90)" text-anchor="middle" style="fill:#c5232f;stroke:#c5232f">Cumulative distribution</text>
<text class="t" transform="translate(72.7 538) rotate(-90)" text-anchor="middle">Probability density</text>
<text class="x" x="185.8" y="636.7" text-anchor="middle">Interface defect formation, <tspan class="i">δt</tspan> (s)</text>
<text class="lbl" x="56.5" y="476">f</text>
</g>
<g id="pg">
<clipPath id="clpg"><rect x="386.7" y="466.5" width="173.7" height="143"/></clipPath>
<g clip-path="url(#clpg)">
<g fill="#5b9ad6"><rect x="391.58" y="472.9" width="4.34" height="136.6"/><rect x="400.98" y="482.1" width="4.34" height="127.4"/><rect x="405.69" y="489" width="4.34" height="120.5"/><rect x="410.39" y="490.6" width="4.34" height="118.9"/><rect x="415.09" y="490.1" width="4.34" height="119.4"/><rect x="419.79" y="494.9" width="4.34" height="114.6"/><rect x="424.49" y="496" width="4.34" height="113.5"/><rect x="429.19" y="499.4" width="4.34" height="110.1"/><rect x="433.89" y="503" width="4.34" height="106.5"/><rect x="438.6" y="505.7" width="4.34" height="103.8"/><rect x="443.3" y="512.1" width="4.34" height="97.4"/><rect x="448" y="511" width="4.34" height="98.5"/><rect x="452.7" y="519.5" width="4.34" height="90"/><rect x="457.4" y="523" width="4.34" height="86.5"/><rect x="462.1" y="524.3" width="4.34" height="85.2"/><rect x="466.81" y="526.2" width="4.34" height="83.3"/><rect x="471.51" y="540.2" width="4.34" height="69.3"/><rect x="476.21" y="533.5" width="4.34" height="76"/><rect x="480.91" y="544.7" width="4.34" height="64.8"/></g>
<path d="M386.7 474L387.6 474.5L388.4 475L389.3 475.6L390.2 476.1L391 476.6L391.9 477.1L392.8 477.6L393.6 478.1L394.5 478.7L395.4 479.2L396.3 479.7L397.1 480.2L398 480.7L398.9 481.2L399.7 481.7L400.6 482.3L401.5 482.8L402.3 483.3L403.2 483.8L404.1 484.3L404.9 484.8L405.8 485.4L406.7 485.9L407.5 486.4L408.4 486.9L409.3 487.4L410.1 487.9L411 488.5L411.9 489L412.8 489.5L413.6 490L414.5 490.5L415.4 491.1L416.2 491.6L417.1 492.1L418 492.6L418.8 493.1L419.7 493.7L420.6 494.2L421.4 494.7L422.3 495.2L423.2 495.7L424 496.3L424.9 496.8L425.8 497.3L426.7 497.8L427.5 498.4L428.4 498.9L429.3 499.4L430.1 499.9L431 500.5L431.9 501L432.7 501.5L433.6 502.1L434.5 502.6L435.3 503.1L436.2 503.7L437.1 504.2L437.9 504.7L438.8 505.3L439.7 505.8L440.5 506.4L441.4 506.9L442.3 507.5L443.2 508L444 508.6L444.9 509.1L445.8 509.7L446.6 510.3L447.5 510.8L448.4 511.4L449.2 512L450.1 512.5L451 513.1L451.8 513.7L452.7 514.3L453.6 514.9L454.4 515.5L455.3 516.1L456.2 516.8L457 517.4L457.9 518L458.8 518.7L459.7 519.3L460.5 520L461.4 520.6L462.3 521.3L463.1 522L464 522.7L464.9 523.5L465.7 524.2L466.6 524.9L467.5 525.7L468.3 526.5L469.2 527.3L470.1 528.1L470.9 529L471.8 529.9L472.7 530.8L473.5 531.7L474.4 532.7L475.3 533.6L476.2 534.7L477 535.7L477.9 536.8L478.8 538L479.6 539.2L480.5 540.4L481.4 541.7L482.2 543L483.1 544.4L484 545.9L484.8 547.4L485.7 549L486.6 550.7L487.4 552.5L488.3 554.3L489.2 556.3L490.1 558.3L490.9 560.5L491.8 562.8L492.7 565.2L493.5 567.7L494.4 570.4L495.3 573.3L496.1 576.3L497 579.5L497.9 582.9L498.7 586.5L499.6 590.3L500.5 594.3L501.3 598.6L502.2 603.2L503.1 608L503.9 613.2L504.8 618.7L505.7 624.5L506.6 630.8" fill="none" stroke="#111" stroke-width="1.3"/>
<path d="M386.7 609.6L387.6 609.6L388.4 607.9L389.3 605.3L390.2 602.7L391 600.1L391.9 597.5L392.8 594.9L393.6 592.3L394.5 589.9L395.4 587.6L396.3 585.2L397.1 582.9L398 580.5L398.9 578.2L399.7 575.8L400.6 573.5L401.5 571.2L402.3 569.1L403.2 567.1L404.1 565L404.9 562.9L405.8 560.8L406.7 558.7L407.5 556.6L408.4 554.5L409.3 552.6L410.1 550.6L411 548.7L411.9 546.8L412.8 544.9L413.6 542.9L414.5 541L415.4 539.1L416.2 537.2L417.1 535.4L418 533.5L418.8 531.7L419.7 529.9L420.6 528L421.4 526.2L422.3 524.3L423.2 522.6L424 521.2L424.9 519.8L425.8 518.4L426.7 516.9L427.5 515.5L428.4 514.1L429.3 512.7L430.1 511.3L431 510.2L431.9 509.2L432.7 508.2L433.6 507.2L434.5 506.2L435.3 505.2L436.2 504.2L437.1 503.2L437.9 502.1L438.8 500.9L439.7 499.8L440.5 498.6L441.4 497.4L442.3 496.2L443.2 495.1L444 493.9L444.9 492.8L445.8 491.8L446.6 490.9L447.5 489.9L448.4 488.9L449.2 487.9L450.1 487L451 486L451.8 485L452.7 484.3L453.6 483.6L454.4 482.9L455.3 482.2L456.2 481.5L457 480.8L457.9 480.1L458.8 479.4L459.7 478.9L460.5 478.4L461.4 477.9L462.3 477.4L463.1 477L464 476.5L464.9 476L465.7 475.6L466.6 475.1L467.5 474.8L468.3 474.4L469.2 474.1L470.1 473.7L470.9 473.4L471.8 473L472.7 472.7L473.5 472.3L474.4 472.1L475.3 471.9L476.2 471.7L477 471.5L477.9 471.2L478.8 471L479.6 470.8L480.5 470.6L481.4 470.5L482.2 470.4L483.1 470.4L484 470.3L484.8 470.3L485.7 470.2L486.6 470.2L487.4 470.1L488.3 470.1L489.2 470.1L490.1 470.1L490.9 470.1L491.8 470.1L492.7 470.1L493.5 470.1L494.4 470.1L495.3 470.1L496.1 470.1L497 470.1L497.9 470.1L498.7 470.1L499.6 470.1L500.5 470.1L501.3 470.1L502.2 470.1L503.1 470.1L503.9 470.1L504.8 470.1L505.7 470.1L506.6 470.1L507.4 470.1L508.3 470.1L509.2 470.1L510 470.1L510.9 470.1L511.8 470.1L512.6 470.1L513.5 470.1L514.4 470.1L515.2 470.1L516.1 470.1L517 470.1L517.8 470.1L518.7 470.1L519.6 470.1L520.4 470.1L521.3 470.1L522.2 470.1L523.1 470.1L523.9 470.1L524.8 470.1L525.7 470.1L526.5 470.1L527.4 470.1L528.3 470.1L529.1 470.1L530 470.1L530.9 470.1L531.7 470.1L532.6 470.1L533.5 470.1L534.3 470.1L535.2 470.1L536.1 470.1L537 470.1L537.8 470.1L538.7 470.1L539.6 470.1L540.4 470.1L541.3 470.1L542.2 470.1L543 470.1L543.9 470.1L544.8 470.1L545.6 470.1L546.5 470.1L547.4 470.1L548.2 470.1L549.1 470.1L550 470.1L550.8 470.1L551.7 470.1L552.6 470.1L553.5 470.1L554.3 470.1L555.2 470.1L556.1 470.1L556.9 470.1L557.8 470.1L558.7 470.1L559.5 470.1L560.4 470.1" fill="none" stroke="#c5232f" stroke-width="1.3"/>
</g>
<path d="M560.4 466.5H386.7V609.5H560.4" fill="none" stroke="#1a1a1a" stroke-width="1.2"/>
<path d="M560.4 465.9V610.1" stroke="#c5232f" stroke-width="1.2"/>
<text class="k" x="386.5" y="625.6" text-anchor="middle">10<tspan dx=".4" dy="-5.7" font-size="7.1px">−12</tspan></text>
<text class="k" x="415.4" y="625.6" text-anchor="middle">10<tspan dx=".4" dy="-5.7" font-size="7.1px">−11</tspan></text>
<text class="k" x="444.4" y="625.6" text-anchor="middle">10<tspan dx=".4" dy="-5.7" font-size="7.1px">−10</tspan></text>
<text class="k" x="473.3" y="625.6" text-anchor="middle">10<tspan dx=".4" dy="-5.7" font-size="7.1px">−9</tspan></text>
<text class="k" x="502.3" y="625.6" text-anchor="middle">10<tspan dx=".4" dy="-5.7" font-size="7.1px">−8</tspan></text>
<text class="k" x="531.2" y="625.6" text-anchor="middle">10<tspan dx=".4" dy="-5.7" font-size="7.1px">−7</tspan></text>
<text class="k" x="560.2" y="625.6" text-anchor="middle">10<tspan dx=".4" dy="-5.7" font-size="7.1px">−6</tspan></text>
<text class="k" x="378.5" y="613.7" text-anchor="end">10<tspan dx=".4" dy="-5.7" font-size="7.1px">2</tspan></text>
<text class="k" x="378.5" y="585.1" text-anchor="end">10<tspan dx=".4" dy="-5.7" font-size="7.1px">4</tspan></text>
<text class="k" x="378.5" y="556.5" text-anchor="end">10<tspan dx=".4" dy="-5.7" font-size="7.1px">6</tspan></text>
<text class="k" x="378.5" y="527.9" text-anchor="end">10<tspan dx=".4" dy="-5.7" font-size="7.1px">8</tspan></text>
<text class="k" x="378.5" y="499.3" text-anchor="end">10<tspan dx=".4" dy="-5.7" font-size="7.1px">10</tspan></text>
<text class="k" x="378.5" y="470.7" text-anchor="end">10<tspan dx=".4" dy="-5.7" font-size="7.1px">12</tspan></text>
<path d="M386.7 609.5v4.3M415.6 609.5v4.3M444.6 609.5v4.3M473.5 609.5v4.3M502.5 609.5v4.3M531.5 609.5v4.3M560.4 609.5v4.3M386.7 609.5h-4.6M386.7 580.9h-4.6M386.7 552.3h-4.6M386.7 523.7h-4.6M386.7 495.1h-4.6M386.7 466.5h-4.6" stroke="#1a1a1a" stroke-width="1"/>
<path d="M395.4 609.5v2.5M400.5 609.5v2.5M404.1 609.5v2.5M406.9 609.5v2.5M409.2 609.5v2.5M411.2 609.5v2.5M412.8 609.5v2.5M414.3 609.5v2.5M424.4 609.5v2.5M429.5 609.5v2.5M433.1 609.5v2.5M435.9 609.5v2.5M438.2 609.5v2.5M440.1 609.5v2.5M441.8 609.5v2.5M443.3 609.5v2.5M453.3 609.5v2.5M458.4 609.5v2.5M462 609.5v2.5M464.8 609.5v2.5M467.1 609.5v2.5M469.1 609.5v2.5M470.7 609.5v2.5M472.2 609.5v2.5M482.3 609.5v2.5M487.4 609.5v2.5M491 609.5v2.5M493.8 609.5v2.5M496.1 609.5v2.5M498 609.5v2.5M499.7 609.5v2.5M501.2 609.5v2.5M511.2 609.5v2.5M516.3 609.5v2.5M519.9 609.5v2.5M522.7 609.5v2.5M525 609.5v2.5M527 609.5v2.5M528.6 609.5v2.5M530.1 609.5v2.5M540.2 609.5v2.5M545.3 609.5v2.5M548.9 609.5v2.5M551.7 609.5v2.5M554 609.5v2.5M555.9 609.5v2.5M557.6 609.5v2.5M559.1 609.5v2.5" stroke="#1a1a1a" stroke-width=".7"/>
<text class="k" x="566.6" y="613.5" style="fill:#c5232f;stroke:#c5232f">0.0</text>
<text class="k" x="566.6" y="585.6" style="fill:#c5232f;stroke:#c5232f">0.2</text>
<text class="k" x="566.6" y="543.8" style="fill:#c5232f;stroke:#c5232f">0.5</text>
<text class="k" x="566.6" y="501.9" style="fill:#c5232f;stroke:#c5232f">0.8</text>
<text class="k" x="566.6" y="474" style="fill:#c5232f;stroke:#c5232f">1.0</text>
<path d="M560.4 609.6h4.5M560.4 581.7h4.5M560.4 539.9h4.5M560.4 498h4.5M560.4 470.1h4.5" stroke="#c5232f" stroke-width="1"/>
<text class="t" transform="translate(590.2 538) rotate(-90)" text-anchor="middle" style="fill:#c5232f;stroke:#c5232f">Cumulative distribution</text>
<text class="t" transform="translate(359.9 538) rotate(-90)" text-anchor="middle">Probability density</text>
<text class="x" x="473.5" y="636.7" text-anchor="middle">Interface defect lifetime, <tspan class="i">τ</tspan> (s)</text>
<text class="lbl" x="344.5" y="476">g</text>
</g>
</svg>
</body></html>
